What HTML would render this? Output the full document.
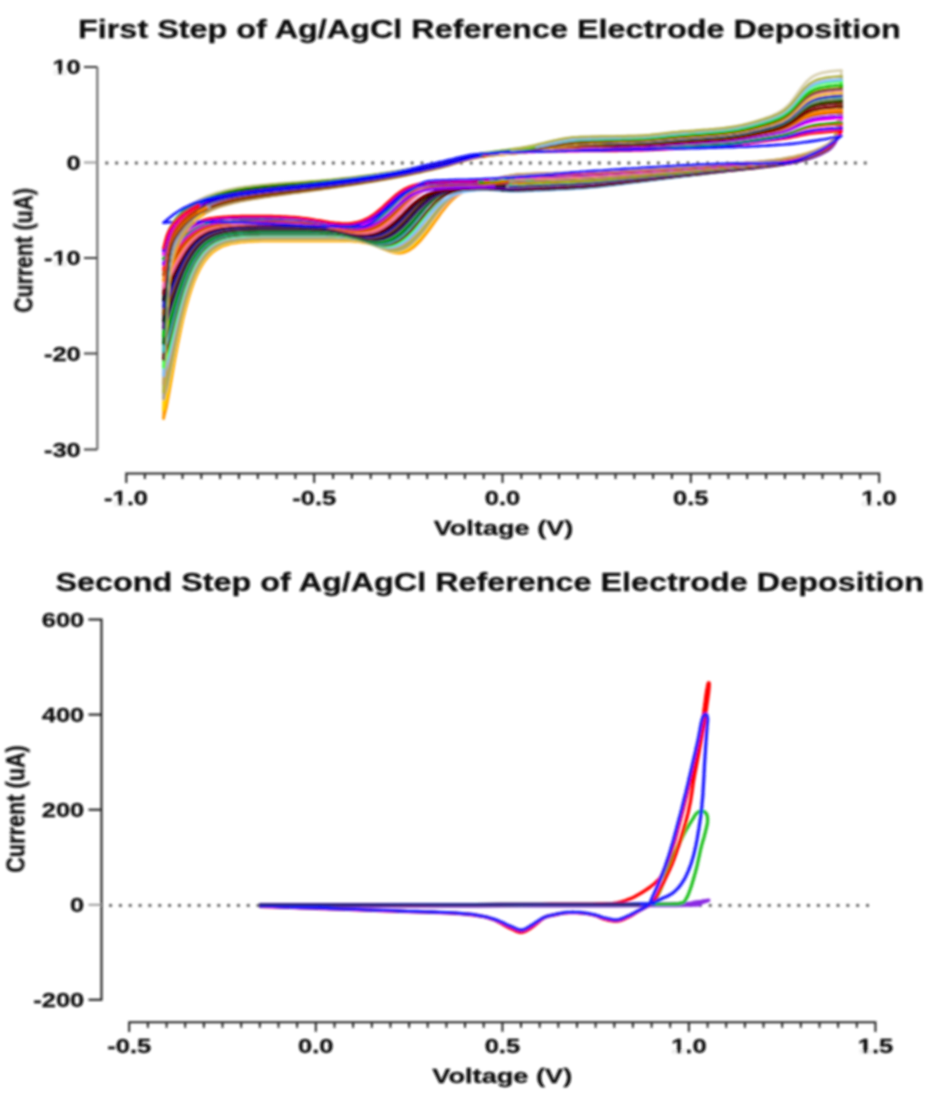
<!DOCTYPE html>
<html><head><meta charset="utf-8"><style>
html,body{margin:0;padding:0;background:#fff;}
svg{display:block;}
</style></head><body>
<svg width="930" height="1104" viewBox="0 0 930 1104">
<defs><clipPath id="c1"><rect x="0" y="0" width="930" height="1104"/></clipPath>
<filter id="bl" x="-2%" y="-2%" width="104%" height="104%"><feGaussianBlur stdDeviation="0.8"/></filter></defs>
<rect width="930" height="1104" fill="#fff"/>
<g filter="url(#bl)">
<path d="M97.3,67V449.5" stroke="#6d6d6d" stroke-width="2.2" fill="none"/>
<g stroke="#383838" stroke-width="2" fill="none">
<path d="M84,67H97.3M84,449.5H97.3"/>
<path d="M84,258.0H97.3"/>
<path d="M84,353.5H97.3"/>
</g>
<path d="M84,162.5H97" stroke="#9a9a9a" stroke-width="2"/>
<path d="M126.3,483V473.5H879.2V483M144.8,473.5v5.5M163.6,473.5v5.5M182.5,473.5v5.5M201.3,473.5v5.5M220.1,473.5v5.5M238.9,473.5v5.5M257.8,473.5v5.5M276.6,473.5v5.5M295.4,473.5v5.5M314.2,473.5v9.5M333.1,473.5v5.5M351.9,473.5v5.5M370.7,473.5v5.5M389.6,473.5v5.5M408.4,473.5v5.5M427.2,473.5v5.5M446.0,473.5v5.5M464.9,473.5v5.5M483.7,473.5v5.5M502.5,473.5v9.5M521.3,473.5v5.5M540.2,473.5v5.5M559.0,473.5v5.5M577.8,473.5v5.5M596.6,473.5v5.5M615.5,473.5v5.5M634.3,473.5v5.5M653.1,473.5v5.5M671.9,473.5v5.5M690.8,473.5v9.5M709.6,473.5v5.5M728.4,473.5v5.5M747.2,473.5v5.5M766.1,473.5v5.5M784.9,473.5v5.5M803.7,473.5v5.5M822.5,473.5v5.5M841.4,473.5v5.5M860.2,473.5v5.5" stroke="#202020" stroke-width="2" fill="none"/>
<g stroke="#151515" stroke-width="2" fill="none">
<path d="M88.5,619.5H101.5V999.8H88.5"/>
<path d="M88.5,714.6H101.5"/>
<path d="M88.5,809.7H101.5"/>
</g>
<path d="M88.5,904.8H101" stroke="#9a9a9a" stroke-width="2"/>
<path d="M129.2,1032V1022.3H875.4V1032M147.9,1022.3v5.5M166.6,1022.3v5.5M185.2,1022.3v5.5M203.9,1022.3v5.5M222.5,1022.3v5.5M241.2,1022.3v5.5M259.8,1022.3v5.5M278.5,1022.3v5.5M297.1,1022.3v5.5M315.8,1022.3v9.5M334.5,1022.3v5.5M353.1,1022.3v5.5M371.8,1022.3v5.5M390.4,1022.3v5.5M409.1,1022.3v5.5M427.7,1022.3v5.5M446.4,1022.3v5.5M465.0,1022.3v5.5M483.7,1022.3v5.5M502.4,1022.3v9.5M521.0,1022.3v5.5M539.7,1022.3v5.5M558.3,1022.3v5.5M577.0,1022.3v5.5M595.6,1022.3v5.5M614.3,1022.3v5.5M632.9,1022.3v5.5M651.6,1022.3v5.5M670.2,1022.3v5.5M688.9,1022.3v9.5M707.6,1022.3v5.5M726.2,1022.3v5.5M744.9,1022.3v5.5M763.5,1022.3v5.5M782.2,1022.3v5.5M800.8,1022.3v5.5M819.5,1022.3v5.5M838.1,1022.3v5.5M856.8,1022.3v5.5" stroke="#202020" stroke-width="2" fill="none"/>
<path d="M106.8,163.0H874" stroke="#606060" stroke-width="3.4" stroke-linecap="round" stroke-dasharray="0 9.85"/>
<path d="M110.6,905.4H868" stroke="#606060" stroke-width="3.4" stroke-linecap="round" stroke-dasharray="0 9.83"/>
<g clip-path="url(#c1)" stroke-linecap="round">
<path d="M841.4,70.5 841.0,77.4 840.6,84.6 840.2,91.2 839.8,97.3 839.4,102.8 839.0,107.7 838.6,112.1 838.3,116.1 837.9,119.5 837.5,122.6 837.1,125.4 836.7,127.8 836.3,129.9 835.9,131.8 835.6,133.5 835.2,135.0 834.8,136.4 834.4,137.5 834.0,138.6 833.6,139.5 833.2,140.4 832.9,141.1 832.5,141.8 832.1,142.5 831.7,143.0 831.3,143.6 830.9,144.0 830.5,144.5 830.2,144.9 829.8,145.3 829.4,145.6 829.0,146.0 828.6,146.3 828.2,146.6 827.8,146.9 827.4,147.2 827.1,147.4 826.7,147.7 826.3,147.9 825.9,148.2 823.1,149.7 820.4,151.0 817.6,152.2 814.8,153.3 812.1,154.3 809.3,155.2 806.5,156.1 803.7,156.9 801.0,157.6 798.2,158.3 795.4,158.9 792.7,159.5 789.9,160.0 787.1,160.5 784.3,161.0 781.6,161.4 778.8,161.8 776.0,162.2 773.3,162.6 770.5,162.9 767.7,163.2 765.0,163.5 762.2,163.8 759.4,164.1 756.6,164.4 753.9,164.6 751.1,164.8 748.3,165.1 745.6,165.3 742.8,165.6 740.0,165.8 737.2,166.0 734.5,166.2 731.7,166.5 728.9,166.7 726.2,166.9 723.4,167.1 720.6,167.4 717.8,167.6 715.1,167.9 712.3,168.1 709.5,168.3 706.8,168.6 704.0,168.8 701.2,169.1 698.4,169.3 695.7,169.5 692.9,169.8 690.1,170.0 687.4,170.2 684.6,170.5 681.8,170.7 679.1,171.0 676.3,171.2 673.5,171.4 670.7,171.7 668.0,171.9 665.2,172.1 662.4,172.3 659.7,172.6 656.9,172.8 654.1,173.0 651.3,173.2 648.6,173.5 645.8,173.7 643.0,173.9 640.3,174.1 637.5,174.3 634.7,174.6 631.9,174.8 629.2,175.0 626.4,175.2 623.6,175.5 620.9,175.7 618.1,175.9 615.3,176.1 612.5,176.4 609.8,176.6 607.0,176.8 604.2,177.0 601.5,177.2 598.7,177.4 595.9,177.6 593.2,177.8 590.4,178.0 587.6,178.1 584.8,178.3 582.1,178.4 579.3,178.6 576.5,178.7 573.8,178.8 571.0,179.0 568.2,179.1 565.4,179.2 562.7,179.3 559.9,179.4 557.1,179.5 554.4,179.6 551.6,179.7 548.8,179.8 546.0,179.8 543.3,179.9 540.5,180.0 537.7,180.1 535.0,180.2 532.2,180.3 529.4,180.4 526.6,180.5 523.9,180.7 521.1,180.8 518.3,180.9 515.6,181.1 512.8,181.3 510.0,181.6 507.3,181.9" stroke="#d8d0b0" stroke-width="2.7" fill="none" stroke-linejoin="round"/>
<path d="M518.3,182.7 515.6,182.9 512.8,183.1 510.0,183.3 507.3,183.5 504.5,183.8 501.7,184.0 498.9,184.3 496.2,184.6 493.4,184.8 490.6,185.1 487.9,185.5 485.1,185.8 482.3,186.2 479.5,186.6 476.8,187.2 474.0,187.8 471.2,188.5 468.5,189.5 465.7,190.6 462.9,191.9 460.1,193.6 457.4,195.5 454.6,197.7 451.8,200.3 449.1,203.2 446.3,206.4 443.5,209.9 440.7,213.5 438.0,217.4 435.2,221.3 432.4,225.2 429.7,229.0 426.9,232.7 424.1,236.2 421.4,239.5 418.6,242.5 415.8,245.2 413.0,247.6 410.3,249.5 407.5,251.1 404.7,252.2 402.0,252.9 399.2,253.1 396.4,253.0 393.6,252.5 390.9,251.7 388.1,250.7 385.3,249.6 382.6,248.4 379.8,247.2 377.0,246.1 374.2,245.1 371.5,244.2 368.7,243.4 365.9,242.8 363.2,242.3 360.4,241.8 357.6,241.5 354.8,241.3 352.1,241.1 349.3,241.0 346.5,240.9 343.8,240.9 341.0,240.9 338.2,240.8 335.5,240.8 332.7,240.8 329.9,240.8 327.1,240.8 324.4,240.8 321.6,240.8 318.8,240.8 316.1,240.8 313.3,240.8 310.5,240.8 307.7,240.8 305.0,240.8 302.2,240.8 299.4,240.8 296.7,240.8 293.9,240.8 291.1,240.8 288.3,240.8 285.6,240.8 282.8,240.8 280.0,240.8 277.3,240.9 274.5,240.9 271.7,240.9 268.9,240.9 266.2,241.0 263.4,241.0 260.6,241.0 257.9,241.1 255.1,241.2 252.3,241.3 249.6,241.4 246.8,241.6 244.0,241.8 241.2,242.0 238.5,242.4 235.7,242.8 232.9,243.2 230.2,243.8 227.4,244.6 224.6,245.5 221.8,246.6 219.1,248.0 216.3,249.6 213.5,251.6 210.8,254.0 208.0,256.9 205.2,260.3 202.4,264.4 199.7,269.2 196.9,274.8 194.1,281.4 191.4,289.0 188.6,297.8 185.8,307.8 183.0,319.0 180.3,331.6 177.5,345.4 174.7,360.3 172.0,376.1 169.2,392.0 166.4,407.2 163.6,418.4" stroke="#ff9900" stroke-width="2.7" fill="none" stroke-linejoin="round"/>
<path d="M501.7,178.7 498.9,179.3 496.2,179.9 493.4,180.5 490.6,181.1 487.9,181.7 485.1,182.2 482.3,182.6 479.5,183.1 476.8,183.5 474.0,184.1 471.2,184.8 468.5,185.6 465.7,186.6 462.9,187.8 460.1,189.3 457.4,191.1 454.6,193.1 451.8,195.6 449.1,198.3 446.3,201.4 443.5,204.9 440.7,208.6 438.0,212.5 435.2,216.5 432.4,220.5 429.7,224.6 426.9,228.5 424.1,232.2 421.4,235.7 418.6,239.0 415.8,242.0 413.0,244.6 410.3,246.8 407.5,248.7 404.7,250.1 402.0,251.1 399.2,251.7 396.4,251.9 393.6,251.7 390.9,251.1 388.1,250.3 385.3,249.4 382.6,248.3 379.8,247.2 377.0,246.1 374.2,245.0 371.5,244.0 368.7,243.1 365.9,242.4 363.2,241.8 360.4,241.3 357.6,240.9 354.8,240.6 352.1,240.3 349.3,240.2 346.5,240.0 343.8,240.0 341.0,239.9 338.2,239.9 335.5,239.9 332.7,239.8 329.9,239.8 327.1,239.8 324.4,239.8 321.6,239.8 318.8,239.8 316.1,239.8 313.3,239.8 310.5,239.8 307.7,239.8 305.0,239.8 302.2,239.8 299.4,239.8 296.7,239.8 293.9,239.8 291.1,239.8 288.3,239.8 285.6,239.8 282.8,239.8 280.0,239.9 277.3,239.9 274.5,239.9 271.7,239.9 268.9,239.9 266.2,240.0 263.4,240.0 260.6,240.0 257.9,240.1 255.1,240.2 252.3,240.3 249.6,240.4 246.8,240.6 244.0,240.7 241.2,241.0 238.5,241.3 235.7,241.7 232.9,242.1 230.2,242.7 227.4,243.4 224.6,244.3 221.8,245.4 219.1,246.7 216.3,248.2 213.5,250.1 210.8,252.4 208.0,255.2 205.2,258.5 202.4,262.4 199.7,266.9 196.9,272.3 194.1,278.6 191.4,285.9 188.6,294.3 185.8,303.8 183.0,314.6 180.3,326.6 177.5,339.8 174.7,354.1 172.0,369.1 169.2,384.4 166.4,398.9 163.6,409.7" stroke="#ffd000" stroke-width="2.7" fill="none" stroke-linejoin="round"/>
<path d="M510.0,186.2 507.3,186.3 504.5,186.3 501.7,186.4 498.9,186.5 496.2,186.6 493.4,186.7 490.6,186.8 487.9,186.9 485.1,187.1 482.3,187.3 479.5,187.6 476.8,188.0 474.0,188.4 471.2,188.9 468.5,189.5 465.7,190.3 462.9,191.2 460.1,192.3 457.4,193.6 454.6,195.2 451.8,197.1 449.1,199.3 446.3,201.8 443.5,204.6 440.7,207.8 438.0,211.1 435.2,214.7 432.4,218.3 429.7,222.0 426.9,225.7 424.1,229.3 421.4,232.7 418.6,235.9 415.8,238.9 413.0,241.6 410.3,244.0 407.5,246.1 404.7,247.8 402.0,249.0 399.2,249.9 396.4,250.4 393.6,250.5 390.9,250.3 388.1,249.8 385.3,249.0 382.6,248.1 379.8,247.1 377.0,246.0 374.2,244.9 371.5,243.8 368.7,242.9 365.9,242.0 363.2,241.3 360.4,240.7 357.6,240.1 354.8,239.7 352.1,239.4 349.3,239.2 346.5,239.0 343.8,238.9 341.0,238.8 338.2,238.7 335.5,238.7 332.7,238.6 329.9,238.6 327.1,238.6 324.4,238.6 321.6,238.6 318.8,238.6 316.1,238.6 313.3,238.6 310.5,238.6 307.7,238.6 305.0,238.6 302.2,238.6 299.4,238.6 296.7,238.6 293.9,238.6 291.1,238.6 288.3,238.6 285.6,238.6 282.8,238.6 280.0,238.6 277.3,238.6 274.5,238.6 271.7,238.7 268.9,238.7 266.2,238.7 263.4,238.7 260.6,238.8 257.9,238.8 255.1,238.9 252.3,239.0 249.6,239.1 246.8,239.3 244.0,239.5 241.2,239.7 238.5,240.0 235.7,240.3 232.9,240.8 230.2,241.3 227.4,242.0 224.6,242.8 221.8,243.8 219.1,245.0 216.3,246.5 213.5,248.3 210.8,250.5 208.0,253.1 205.2,256.2 202.4,259.8 199.7,264.2 196.9,269.3 194.1,275.2 191.4,282.1 188.6,290.0 185.8,299.0 183.0,309.1 180.3,320.5 177.5,332.9 174.7,346.4 172.0,360.6 169.2,375.0 166.4,388.7 163.6,398.8" stroke="#a0a0a0" stroke-width="2.7" fill="none" stroke-linejoin="round"/>
<path d="M515.6,186.2 512.8,186.3 510.0,186.4 507.3,186.5 504.5,186.5 501.7,186.6 498.9,186.7 496.2,186.7 493.4,186.8 490.6,186.9 487.9,187.0 485.1,187.1 482.3,187.3 479.5,187.6 476.8,187.9 474.0,188.3 471.2,188.7 468.5,189.3 465.7,189.9 462.9,190.7 460.1,191.7 457.4,192.9 454.6,194.3 451.8,196.0 449.1,198.0 446.3,200.3 443.5,202.9 440.7,205.8 438.0,209.0 435.2,212.5 432.4,216.0 429.7,219.7 426.9,223.3 424.1,226.9 421.4,230.4 418.6,233.7 415.8,236.7 413.0,239.6 410.3,242.1 407.5,244.2 404.7,246.1 402.0,247.5 399.2,248.6 396.4,249.3 393.6,249.6 390.9,249.6 388.1,249.2 385.3,248.6 382.6,247.8 379.8,246.9 377.0,245.9 374.2,244.8 371.5,243.8 368.7,242.8 365.9,241.9 363.2,241.1 360.4,240.4 357.6,239.8 354.8,239.3 352.1,238.9 349.3,238.6 346.5,238.4 343.8,238.2 341.0,238.1 338.2,238.0 335.5,237.9 332.7,237.9 329.9,237.9 327.1,237.9 324.4,237.8 321.6,237.8 318.8,237.8 316.1,237.8 313.3,237.8 310.5,237.8 307.7,237.8 305.0,237.8 302.2,237.8 299.4,237.8 296.7,237.8 293.9,237.8 291.1,237.8 288.3,237.8 285.6,237.9 282.8,237.9 280.0,237.9 277.3,237.9 274.5,237.9 271.7,237.9 268.9,237.9 266.2,238.0 263.4,238.0 260.6,238.0 257.9,238.1 255.1,238.2 252.3,238.2 249.6,238.4 246.8,238.5 244.0,238.7 241.2,238.9 238.5,239.2 235.7,239.5 232.9,239.9 230.2,240.5 227.4,241.1 224.6,241.9 221.8,242.9 219.1,244.1 216.3,245.5 213.5,247.2 210.8,249.3 208.0,251.8 205.2,254.8 202.4,258.3 199.7,262.5 196.9,267.4 194.1,273.2 191.4,279.8 188.6,287.4 185.8,296.1 183.0,305.9 180.3,316.8 177.5,328.8 174.7,341.8 172.0,355.5 169.2,369.4 166.4,382.6 163.6,392.4" stroke="#b0b040" stroke-width="2.7" fill="none" stroke-linejoin="round"/>
<path d="M493.4,179.5 490.6,180.0 487.9,180.6 485.1,181.0 482.3,181.4 479.5,181.7 476.8,182.0 474.0,182.4 471.2,182.8 468.5,183.3 465.7,183.9 462.9,184.7 460.1,185.6 457.4,186.7 454.6,188.1 451.8,189.7 449.1,191.6 446.3,193.9 443.5,196.5 440.7,199.4 438.0,202.7 435.2,206.3 432.4,210.0 429.7,213.9 426.9,217.9 424.1,221.8 421.4,225.6 418.6,229.2 415.8,232.6 413.0,235.8 410.3,238.6 407.5,241.1 404.7,243.3 402.0,245.0 399.2,246.4 396.4,247.4 393.6,248.0 390.9,248.3 388.1,248.2 385.3,247.9 382.6,247.3 379.8,246.5 377.0,245.6 374.2,244.6 371.5,243.6 368.7,242.6 365.9,241.6 363.2,240.8 360.4,240.0 357.6,239.3 354.8,238.8 352.1,238.3 349.3,237.9 346.5,237.6 343.8,237.4 341.0,237.2 338.2,237.1 335.5,237.0 332.7,237.0 329.9,236.9 327.1,236.9 324.4,236.9 321.6,236.9 318.8,236.8 316.1,236.8 313.3,236.8 310.5,236.8 307.7,236.8 305.0,236.8 302.2,236.8 299.4,236.8 296.7,236.8 293.9,236.8 291.1,236.8 288.3,236.9 285.6,236.9 282.8,236.9 280.0,236.9 277.3,236.9 274.5,236.9 271.7,236.9 268.9,236.9 266.2,237.0 263.4,237.0 260.6,237.0 257.9,237.1 255.1,237.1 252.3,237.2 249.6,237.3 246.8,237.5 244.0,237.6 241.2,237.9 238.5,238.1 235.7,238.4 232.9,238.8 230.2,239.3 227.4,240.0 224.6,240.7 221.8,241.6 219.1,242.8 216.3,244.1 213.5,245.8 210.8,247.8 208.0,250.1 205.2,253.0 202.4,256.4 199.7,260.3 196.9,265.0 194.1,270.5 191.4,276.8 188.6,284.0 185.8,292.3 183.0,301.6 180.3,312.0 177.5,323.5 174.7,335.8 172.0,348.9 169.2,362.1 166.4,374.7 163.6,384.0" stroke="#c0a060" stroke-width="2.7" fill="none" stroke-linejoin="round"/>
<path d="M540.5,190.2 537.7,190.3 535.0,190.5 532.2,190.6 529.4,190.7 526.6,190.8 523.9,191.0 521.1,191.1 518.3,191.2 515.6,191.2 512.8,191.2 510.0,191.1 507.3,190.9 504.5,190.7 501.7,190.5 498.9,190.3 496.2,190.1 493.4,189.9 490.6,189.7 487.9,189.6 485.1,189.6 482.3,189.7 479.5,189.8 476.8,190.0 474.0,190.3 471.2,190.6 468.5,191.0 465.7,191.4 462.9,192.0 460.1,192.7 457.4,193.5 454.6,194.5 451.8,195.6 449.1,197.1 446.3,198.8 443.5,200.7 440.7,203.0 438.0,205.5 435.2,208.4 432.4,211.5 429.7,214.7 426.9,218.1 424.1,221.5 421.4,224.8 418.6,228.1 415.8,231.3 413.0,234.2 410.3,236.9 407.5,239.4 404.7,241.5 402.0,243.3 399.2,244.8 396.4,246.0 393.6,246.8 390.9,247.2 388.1,247.3 385.3,247.2 382.6,246.7 379.8,246.1 377.0,245.3 374.2,244.4 371.5,243.4 368.7,242.4 365.9,241.5 363.2,240.5 360.4,239.7 357.6,239.0 354.8,238.3 352.1,237.8 349.3,237.3 346.5,236.9 343.8,236.7 341.0,236.4 338.2,236.3 335.5,236.1 332.7,236.0 329.9,236.0 327.1,235.9 324.4,235.9 321.6,235.9 318.8,235.9 316.1,235.9 313.3,235.9 310.5,235.8 307.7,235.8 305.0,235.8 302.2,235.8 299.4,235.8 296.7,235.9 293.9,235.9 291.1,235.9 288.3,235.9 285.6,235.9 282.8,235.9 280.0,235.9 277.3,235.9 274.5,235.9 271.7,235.9 268.9,235.9 266.2,236.0 263.4,236.0 260.6,236.0 257.9,236.1 255.1,236.1 252.3,236.2 249.6,236.3 246.8,236.5 244.0,236.6 241.2,236.8 238.5,237.1 235.7,237.4 232.9,237.8 230.2,238.2 227.4,238.8 224.6,239.5 221.8,240.4 219.1,241.5 216.3,242.8 213.5,244.3 210.8,246.2 208.0,248.5 205.2,251.2 202.4,254.4 199.7,258.2 196.9,262.6 194.1,267.8 191.4,273.8 188.6,280.7 185.8,288.5 183.0,297.4 180.3,307.3 177.5,318.2 174.7,329.9 172.0,342.3 169.2,354.9 166.4,366.8 163.6,375.6" stroke="#80c0ff" stroke-width="2.7" fill="none" stroke-linejoin="round"/>
<path d="M515.6,183.7 512.8,183.8 510.0,184.0 507.3,184.2 504.5,184.3 501.7,184.5 498.9,184.7 496.2,184.9 493.4,185.0 490.6,185.2 487.9,185.4 485.1,185.5 482.3,185.7 479.5,185.9 476.8,186.1 474.0,186.3 471.2,186.6 468.5,187.0 465.7,187.4 462.9,187.9 460.1,188.5 457.4,189.2 454.6,190.1 451.8,191.2 449.1,192.5 446.3,194.1 443.5,196.0 440.7,198.2 438.0,200.7 435.2,203.5 432.4,206.5 429.7,209.8 426.9,213.3 424.1,216.9 421.4,220.4 418.6,224.0 415.8,227.3 413.0,230.5 410.3,233.5 407.5,236.2 404.7,238.6 402.0,240.7 399.2,242.4 396.4,243.8 393.6,244.9 390.9,245.6 388.1,246.0 385.3,246.1 382.6,245.9 379.8,245.4 377.0,244.8 374.2,244.0 371.5,243.1 368.7,242.2 365.9,241.2 363.2,240.3 360.4,239.4 357.6,238.6 354.8,237.9 352.1,237.3 349.3,236.8 346.5,236.3 343.8,236.0 341.0,235.7 338.2,235.4 335.5,235.3 332.7,235.2 329.9,235.1 327.1,235.0 324.4,234.9 321.6,234.9 318.8,234.9 316.1,234.9 313.3,234.9 310.5,234.9 307.7,234.9 305.0,234.9 302.2,234.9 299.4,234.9 296.7,234.9 293.9,234.9 291.1,234.9 288.3,234.9 285.6,234.9 282.8,234.9 280.0,234.9 277.3,234.9 274.5,234.9 271.7,234.9 268.9,234.9 266.2,235.0 263.4,235.0 260.6,235.0 257.9,235.1 255.1,235.1 252.3,235.2 249.6,235.3 246.8,235.4 244.0,235.6 241.2,235.8 238.5,236.0 235.7,236.3 232.9,236.7 230.2,237.1 227.4,237.7 224.6,238.3 221.8,239.2 219.1,240.2 216.3,241.4 213.5,242.9 210.8,244.7 208.0,246.8 205.2,249.4 202.4,252.4 199.7,256.0 196.9,260.2 194.1,265.1 191.4,270.8 188.6,277.4 185.8,284.8 183.0,293.2 180.3,302.6 177.5,312.9 174.7,324.1 172.0,335.8 169.2,347.7 166.4,359.0 163.6,367.4" stroke="#40ff40" stroke-width="2.7" fill="none" stroke-linejoin="round"/>
<path d="M529.4,187.3 526.6,187.4 523.9,187.5 521.1,187.7 518.3,187.8 515.6,187.9 512.8,187.9 510.0,187.9 507.3,187.9 504.5,187.9 501.7,187.8 498.9,187.8 496.2,187.7 493.4,187.7 490.6,187.7 487.9,187.7 485.1,187.7 482.3,187.8 479.5,187.9 476.8,188.1 474.0,188.3 471.2,188.5 468.5,188.8 465.7,189.2 462.9,189.6 460.1,190.1 457.4,190.7 454.6,191.4 451.8,192.3 449.1,193.4 446.3,194.6 443.5,196.2 440.7,198.0 438.0,200.1 435.2,202.6 432.4,205.3 429.7,208.3 426.9,211.4 424.1,214.8 421.4,218.1 418.6,221.5 415.8,224.8 413.0,228.0 410.3,231.0 407.5,233.7 404.7,236.2 402.0,238.4 399.2,240.3 396.4,241.9 393.6,243.1 390.9,244.0 388.1,244.6 385.3,244.9 382.6,244.9 379.8,244.7 377.0,244.2 374.2,243.5 371.5,242.8 368.7,241.9 365.9,241.0 363.2,240.1 360.4,239.2 357.6,238.3 354.8,237.6 352.1,236.9 349.3,236.3 346.5,235.7 343.8,235.3 341.0,235.0 338.2,234.7 335.5,234.5 332.7,234.3 329.9,234.2 327.1,234.1 324.4,234.0 321.6,234.0 318.8,233.9 316.1,233.9 313.3,233.9 310.5,233.9 307.7,233.9 305.0,233.9 302.2,233.9 299.4,233.9 296.7,233.9 293.9,233.9 291.1,233.9 288.3,233.9 285.6,233.9 282.8,233.9 280.0,233.9 277.3,233.9 274.5,233.9 271.7,233.9 268.9,233.9 266.2,234.0 263.4,234.0 260.6,234.0 257.9,234.1 255.1,234.1 252.3,234.2 249.6,234.3 246.8,234.4 244.0,234.5 241.2,234.7 238.5,235.0 235.7,235.2 232.9,235.6 230.2,236.0 227.4,236.5 224.6,237.2 221.8,238.0 219.1,238.9 216.3,240.1 213.5,241.5 210.8,243.2 208.0,245.2 205.2,247.6 202.4,250.5 199.7,253.9 196.9,257.9 194.1,262.5 191.4,267.9 188.6,274.1 185.8,281.2 183.0,289.1 180.3,298.0 177.5,307.8 174.7,318.3 172.0,329.4 169.2,340.7 166.4,351.4 163.6,359.4" stroke="#600000" stroke-width="2.7" fill="none" stroke-linejoin="round"/>
<path d="M512.8,180.6 510.0,180.8 507.3,181.2 504.5,181.5 501.7,181.8 498.9,182.2 496.2,182.5 493.4,182.8 490.6,183.1 487.9,183.4 485.1,183.7 482.3,183.9 479.5,184.0 476.8,184.2 474.0,184.4 471.2,184.6 468.5,184.9 465.7,185.2 462.9,185.5 460.1,186.0 457.4,186.5 454.6,187.2 451.8,188.0 449.1,189.0 446.3,190.2 443.5,191.6 440.7,193.3 438.0,195.4 435.2,197.7 432.4,200.4 429.7,203.3 426.9,206.5 424.1,209.9 421.4,213.5 418.6,217.0 415.8,220.6 413.0,224.0 410.3,227.2 407.5,230.2 404.7,233.0 402.0,235.4 399.2,237.6 396.4,239.4 393.6,240.9 390.9,242.1 388.1,242.9 385.3,243.4 382.6,243.7 379.8,243.6 377.0,243.3 374.2,242.9 371.5,242.2 368.7,241.5 365.9,240.6 363.2,239.8 360.4,238.9 357.6,238.0 354.8,237.2 352.1,236.5 349.3,235.8 346.5,235.2 343.8,234.7 341.0,234.3 338.2,234.0 335.5,233.7 332.7,233.5 329.9,233.3 327.1,233.2 324.4,233.1 321.6,233.0 318.8,233.0 316.1,232.9 313.3,232.9 310.5,232.9 307.7,232.9 305.0,232.9 302.2,232.9 299.4,232.9 296.7,232.9 293.9,232.9 291.1,232.9 288.3,232.9 285.6,232.9 282.8,232.9 280.0,232.9 277.3,232.9 274.5,232.9 271.7,232.9 268.9,232.9 266.2,233.0 263.4,233.0 260.6,233.0 257.9,233.1 255.1,233.1 252.3,233.2 249.6,233.3 246.8,233.4 244.0,233.5 241.2,233.7 238.5,233.9 235.7,234.2 232.9,234.5 230.2,234.9 227.4,235.4 224.6,236.0 221.8,236.7 219.1,237.6 216.3,238.7 213.5,240.1 210.8,241.7 208.0,243.6 205.2,245.9 202.4,248.6 199.7,251.8 196.9,255.6 194.1,260.0 191.4,265.0 188.6,270.9 185.8,277.5 183.0,285.1 180.3,293.4 177.5,302.7 174.7,312.6 172.0,323.1 169.2,333.8 166.4,343.9 163.6,351.4" stroke="#40c0c0" stroke-width="2.7" fill="none" stroke-linejoin="round"/>
<path d="M521.1,186.2 518.3,186.4 515.6,186.5 512.8,186.5 510.0,186.6 507.3,186.6 504.5,186.7 501.7,186.7 498.9,186.7 496.2,186.7 493.4,186.8 490.6,186.8 487.9,186.8 485.1,186.9 482.3,187.0 479.5,187.1 476.8,187.2 474.0,187.4 471.2,187.6 468.5,187.8 465.7,188.0 462.9,188.3 460.1,188.7 457.4,189.1 454.6,189.6 451.8,190.3 449.1,191.0 446.3,192.0 443.5,193.1 440.7,194.5 438.0,196.2 435.2,198.1 432.4,200.4 429.7,202.9 426.9,205.7 424.1,208.7 421.4,211.9 418.6,215.2 415.8,218.5 413.0,221.8 410.3,225.0 407.5,227.9 404.7,230.7 402.0,233.2 399.2,235.4 396.4,237.3 393.6,239.0 390.9,240.3 388.1,241.3 385.3,242.0 382.6,242.4 379.8,242.6 377.0,242.5 374.2,242.1 371.5,241.6 368.7,241.0 365.9,240.2 363.2,239.4 360.4,238.6 357.6,237.7 354.8,236.9 352.1,236.1 349.3,235.4 346.5,234.8 343.8,234.2 341.0,233.7 338.2,233.3 335.5,233.0 332.7,232.7 329.9,232.5 327.1,232.3 324.4,232.2 321.6,232.1 318.8,232.0 316.1,232.0 313.3,232.0 310.5,231.9 307.7,231.9 305.0,231.9 302.2,231.9 299.4,231.9 296.7,231.9 293.9,231.9 291.1,231.9 288.3,231.9 285.6,231.9 282.8,231.9 280.0,231.9 277.3,231.9 274.5,231.9 271.7,231.9 268.9,231.9 266.2,232.0 263.4,232.0 260.6,232.0 257.9,232.1 255.1,232.1 252.3,232.2 249.6,232.3 246.8,232.4 244.0,232.5 241.2,232.6 238.5,232.8 235.7,233.1 232.9,233.4 230.2,233.8 227.4,234.2 224.6,234.8 221.8,235.5 219.1,236.4 216.3,237.4 213.5,238.7 210.8,240.2 208.0,242.0 205.2,244.1 202.4,246.7 199.7,249.7 196.9,253.3 194.1,257.4 191.4,262.2 188.6,267.7 185.8,274.0 183.0,281.1 180.3,289.0 177.5,297.7 174.7,307.1 172.0,316.9 169.2,327.0 166.4,336.5 163.6,343.6" stroke="#006000" stroke-width="2.7" fill="none" stroke-linejoin="round"/>
<path d="M529.4,180.4 526.6,180.5 523.9,180.7 521.1,180.8 518.3,180.9 515.6,181.1 512.8,181.4 510.0,181.6 507.3,181.9 504.5,182.2 501.7,182.5 498.9,182.7 496.2,183.0 493.4,183.3 490.6,183.6 487.9,183.8 485.1,184.0 482.3,184.2 479.5,184.3 476.8,184.5 474.0,184.6 471.2,184.8 468.5,185.0 465.7,185.2 462.9,185.4 460.1,185.8 457.4,186.1 454.6,186.6 451.8,187.2 449.1,187.9 446.3,188.7 443.5,189.8 440.7,191.0 438.0,192.5 435.2,194.3 432.4,196.4 429.7,198.8 426.9,201.6 424.1,204.5 421.4,207.7 418.6,211.1 415.8,214.5 413.0,217.9 410.3,221.2 407.5,224.4 404.7,227.3 402.0,230.1 399.2,232.5 396.4,234.7 393.6,236.5 390.9,238.1 388.1,239.3 385.3,240.2 382.6,240.9 379.8,241.2 377.0,241.3 374.2,241.2 371.5,240.9 368.7,240.3 365.9,239.7 363.2,239.0 360.4,238.2 357.6,237.4 354.8,236.6 352.1,235.8 349.3,235.0 346.5,234.3 343.8,233.7 341.0,233.2 338.2,232.7 335.5,232.3 332.7,232.0 329.9,231.7 327.1,231.5 324.4,231.4 321.6,231.2 318.8,231.1 316.1,231.1 313.3,231.0 310.5,231.0 307.7,230.9 305.0,230.9 302.2,230.9 299.4,230.9 296.7,230.9 293.9,230.9 291.1,230.9 288.3,230.9 285.6,230.9 282.8,230.9 280.0,230.9 277.3,230.9 274.5,230.9 271.7,230.9 268.9,230.9 266.2,231.0 263.4,231.0 260.6,231.0 257.9,231.1 255.1,231.1 252.3,231.2 249.6,231.2 246.8,231.3 244.0,231.5 241.2,231.6 238.5,231.8 235.7,232.0 232.9,232.3 230.2,232.7 227.4,233.1 224.6,233.7 221.8,234.3 219.1,235.1 216.3,236.1 213.5,237.3 210.8,238.7 208.0,240.4 205.2,242.4 202.4,244.8 199.7,247.7 196.9,251.0 194.1,254.9 191.4,259.4 188.6,264.6 185.8,270.5 183.0,277.1 180.3,284.6 177.5,292.7 174.7,301.6 172.0,310.9 169.2,320.3 166.4,329.3 163.6,336.0" stroke="#00c000" stroke-width="2.7" fill="none" stroke-linejoin="round"/>
<path d="M490.6,188.1 487.9,188.0 485.1,188.0 482.3,188.1 479.5,188.1 476.8,188.2 474.0,188.4 471.2,188.5 468.5,188.7 465.7,188.8 462.9,189.1 460.1,189.3 457.4,189.6 454.6,190.0 451.8,190.4 449.1,190.9 446.3,191.6 443.5,192.4 440.7,193.4 438.0,194.6 435.2,196.0 432.4,197.7 429.7,199.7 426.9,201.9 424.1,204.4 421.4,207.2 418.6,210.1 415.8,213.2 413.0,216.3 410.3,219.4 407.5,222.5 404.7,225.3 402.0,228.0 399.2,230.5 396.4,232.7 393.6,234.6 390.9,236.2 388.1,237.6 385.3,238.6 382.6,239.4 379.8,239.9 377.0,240.2 374.2,240.2 371.5,240.0 368.7,239.7 365.9,239.1 363.2,238.5 360.4,237.8 357.6,237.0 354.8,236.2 352.1,235.4 349.3,234.6 346.5,233.9 343.8,233.3 341.0,232.7 338.2,232.2 335.5,231.7 332.7,231.3 329.9,231.0 327.1,230.7 324.4,230.5 321.6,230.4 318.8,230.2 316.1,230.1 313.3,230.1 310.5,230.0 307.7,230.0 305.0,229.9 302.2,229.9 299.4,229.9 296.7,229.9 293.9,229.9 291.1,229.9 288.3,229.9 285.6,229.9 282.8,229.9 280.0,229.9 277.3,229.9 274.5,229.9 271.7,229.9 268.9,229.9 266.2,230.0 263.4,230.0 260.6,230.0 257.9,230.0 255.1,230.1 252.3,230.2 249.6,230.2 246.8,230.3 244.0,230.4 241.2,230.6 238.5,230.7 235.7,231.0 232.9,231.2 230.2,231.6 227.4,232.0 224.6,232.5 221.8,233.1 219.1,233.9 216.3,234.8 213.5,235.9 210.8,237.2 208.0,238.8 205.2,240.7 202.4,243.0 199.7,245.6 196.9,248.8 194.1,252.4 191.4,256.6 188.6,261.5 185.8,267.0 183.0,273.3 180.3,280.3 177.5,287.9 174.7,296.2 172.0,304.9 169.2,313.8 166.4,322.2 163.6,328.4" stroke="#500080" stroke-width="2.7" fill="none" stroke-linejoin="round"/>
<path d="M498.9,186.5 496.2,186.5 493.4,186.5 490.6,186.6 487.9,186.6 485.1,186.7 482.3,186.7 479.5,186.8 476.8,186.9 474.0,187.0 471.2,187.2 468.5,187.3 465.7,187.5 462.9,187.6 460.1,187.9 457.4,188.1 454.6,188.4 451.8,188.8 449.1,189.3 446.3,189.8 443.5,190.5 440.7,191.4 438.0,192.4 435.2,193.7 432.4,195.2 429.7,197.0 426.9,199.0 424.1,201.4 421.4,204.0 418.6,206.8 415.8,209.9 413.0,213.0 410.3,216.1 407.5,219.2 404.7,222.2 402.0,225.0 399.2,227.6 396.4,230.0 393.6,232.1 390.9,233.9 388.1,235.4 385.3,236.7 382.6,237.7 379.8,238.4 377.0,238.8 374.2,239.0 371.5,239.0 368.7,238.8 365.9,238.4 363.2,237.9 360.4,237.2 357.6,236.5 354.8,235.8 352.1,235.0 349.3,234.2 346.5,233.5 343.8,232.8 341.0,232.2 338.2,231.6 335.5,231.1 332.7,230.7 329.9,230.3 327.1,230.0 324.4,229.8 321.6,229.5 318.8,229.4 316.1,229.3 313.3,229.2 310.5,229.1 307.7,229.0 305.0,229.0 302.2,229.0 299.4,228.9 296.7,228.9 293.9,228.9 291.1,228.9 288.3,228.9 285.6,228.9 282.8,228.9 280.0,228.9 277.3,228.9 274.5,228.9 271.7,228.9 268.9,228.9 266.2,229.0 263.4,229.0 260.6,229.0 257.9,229.0 255.1,229.1 252.3,229.1 249.6,229.2 246.8,229.3 244.0,229.4 241.2,229.5 238.5,229.7 235.7,229.9 232.9,230.2 230.2,230.5 227.4,230.9 224.6,231.3 221.8,231.9 219.1,232.6 216.3,233.5 213.5,234.5 210.8,235.7 208.0,237.2 205.2,239.0 202.4,241.1 199.7,243.6 196.9,246.5 194.1,250.0 191.4,253.9 188.6,258.5 185.8,263.6 183.0,269.5 180.3,276.0 177.5,283.2 174.7,290.9 172.0,299.1 169.2,307.4 166.4,315.3 163.6,321.1" stroke="#101010" stroke-width="2.7" fill="none" stroke-linejoin="round"/>
<path d="M521.1,184.2 518.3,184.4 515.6,184.5 512.8,184.6 510.0,184.8 507.3,184.9 504.5,185.0 501.7,185.1 498.9,185.2 496.2,185.3 493.4,185.5 490.6,185.6 487.9,185.7 485.1,185.8 482.3,185.8 479.5,185.9 476.8,186.0 474.0,186.1 471.2,186.2 468.5,186.4 465.7,186.5 462.9,186.7 460.1,186.9 457.4,187.1 454.6,187.3 451.8,187.7 449.1,188.1 446.3,188.5 443.5,189.1 440.7,189.9 438.0,190.8 435.2,191.9 432.4,193.2 429.7,194.8 426.9,196.6 424.1,198.8 421.4,201.2 418.6,203.9 415.8,206.7 413.0,209.8 410.3,212.9 407.5,216.0 404.7,219.1 402.0,222.0 399.2,224.7 396.4,227.2 393.6,229.5 390.9,231.5 388.1,233.2 385.3,234.6 382.6,235.8 379.8,236.7 377.0,237.3 374.2,237.7 371.5,237.8 368.7,237.8 365.9,237.5 363.2,237.1 360.4,236.6 357.6,236.0 354.8,235.3 352.1,234.6 349.3,233.8 346.5,233.1 343.8,232.4 341.0,231.7 338.2,231.1 335.5,230.6 332.7,230.1 329.9,229.7 327.1,229.3 324.4,229.0 321.6,228.8 318.8,228.6 316.1,228.4 313.3,228.3 310.5,228.2 307.7,228.1 305.0,228.0 302.2,228.0 299.4,228.0 296.7,228.0 293.9,227.9 291.1,227.9 288.3,227.9 285.6,227.9 282.8,227.9 280.0,227.9 277.3,227.9 274.5,227.9 271.7,227.9 268.9,228.0 266.2,228.0 263.4,228.0 260.6,228.0 257.9,228.0 255.1,228.1 252.3,228.1 249.6,228.2 246.8,228.3 244.0,228.4 241.2,228.5 238.5,228.6 235.7,228.8 232.9,229.1 230.2,229.4 227.4,229.7 224.6,230.2 221.8,230.7 219.1,231.4 216.3,232.2 213.5,233.1 210.8,234.3 208.0,235.7 205.2,237.3 202.4,239.3 199.7,241.6 196.9,244.4 194.1,247.6 191.4,251.2 188.6,255.5 185.8,260.3 183.0,265.8 180.3,271.9 177.5,278.5 174.7,285.8 172.0,293.4 169.2,301.1 166.4,308.5 163.6,313.9" stroke="#804000" stroke-width="2.7" fill="none" stroke-linejoin="round"/>
<path d="M512.8,185.4 510.0,185.5 507.3,185.6 504.5,185.7 501.7,185.8 498.9,185.9 496.2,185.9 493.4,186.0 490.6,186.1 487.9,186.1 485.1,186.2 482.3,186.3 479.5,186.3 476.8,186.4 474.0,186.5 471.2,186.6 468.5,186.7 465.7,186.9 462.9,187.0 460.1,187.2 457.4,187.3 454.6,187.6 451.8,187.8 449.1,188.2 446.3,188.5 443.5,189.0 440.7,189.6 438.0,190.4 435.2,191.3 432.4,192.4 429.7,193.8 426.9,195.4 424.1,197.3 421.4,199.4 418.6,201.8 415.8,204.5 413.0,207.3 410.3,210.3 407.5,213.4 404.7,216.4 402.0,219.3 399.2,222.1 396.4,224.7 393.6,227.1 390.9,229.2 388.1,231.0 385.3,232.6 382.6,233.9 379.8,234.9 377.0,235.7 374.2,236.3 371.5,236.6 368.7,236.7 365.9,236.6 363.2,236.3 360.4,235.9 357.6,235.3 354.8,234.7 352.1,234.1 349.3,233.4 346.5,232.7 343.8,232.0 341.0,231.3 338.2,230.6 335.5,230.1 332.7,229.5 329.9,229.1 327.1,228.7 324.4,228.3 321.6,228.0 318.8,227.8 316.1,227.6 313.3,227.4 310.5,227.3 307.7,227.2 305.0,227.1 302.2,227.1 299.4,227.0 296.7,227.0 293.9,227.0 291.1,226.9 288.3,226.9 285.6,226.9 282.8,226.9 280.0,226.9 277.3,226.9 274.5,226.9 271.7,226.9 268.9,227.0 266.2,227.0 263.4,227.0 260.6,227.0 257.9,227.0 255.1,227.1 252.3,227.1 249.6,227.2 246.8,227.3 244.0,227.3 241.2,227.5 238.5,227.6 235.7,227.8 232.9,228.0 230.2,228.3 227.4,228.6 224.6,229.0 221.8,229.5 219.1,230.1 216.3,230.9 213.5,231.8 210.8,232.9 208.0,234.1 205.2,235.7 202.4,237.5 199.7,239.7 196.9,242.2 194.1,245.2 191.4,248.6 188.6,252.6 185.8,257.1 183.0,262.1 180.3,267.8 177.5,274.0 174.7,280.7 172.0,287.8 169.2,295.0 166.4,301.9 163.6,306.9" stroke="#2020c0" stroke-width="2.7" fill="none" stroke-linejoin="round"/>
<path d="M504.5,190.0 501.7,189.8 498.9,189.6 496.2,189.4 493.4,189.2 490.6,189.1 487.9,188.9 485.1,188.9 482.3,188.8 479.5,188.9 476.8,189.0 474.0,189.1 471.2,189.2 468.5,189.3 465.7,189.4 462.9,189.5 460.1,189.6 457.4,189.8 454.6,189.9 451.8,190.1 449.1,190.4 446.3,190.7 443.5,191.1 440.7,191.5 438.0,192.1 435.2,192.8 432.4,193.7 429.7,194.8 426.9,196.1 424.1,197.7 421.4,199.4 418.6,201.5 415.8,203.8 413.0,206.3 410.3,209.0 407.5,211.8 404.7,214.6 402.0,217.4 399.2,220.1 396.4,222.6 393.6,225.0 390.9,227.1 388.1,229.0 385.3,230.7 382.6,232.1 379.8,233.3 377.0,234.2 374.2,234.8 371.5,235.3 368.7,235.5 365.9,235.5 363.2,235.4 360.4,235.1 357.6,234.6 354.8,234.1 352.1,233.5 349.3,232.9 346.5,232.2 343.8,231.5 341.0,230.8 338.2,230.2 335.5,229.6 332.7,229.0 329.9,228.5 327.1,228.0 324.4,227.6 321.6,227.3 318.8,227.0 316.1,226.8 313.3,226.6 310.5,226.4 307.7,226.3 305.0,226.2 302.2,226.1 299.4,226.1 296.7,226.0 293.9,226.0 291.1,226.0 288.3,226.0 285.6,225.9 282.8,225.9 280.0,225.9 277.3,225.9 274.5,225.9 271.7,226.0 268.9,226.0 266.2,226.0 263.4,226.0 260.6,226.0 257.9,226.0 255.1,226.1 252.3,226.1 249.6,226.2 246.8,226.2 244.0,226.3 241.2,226.4 238.5,226.6 235.7,226.7 232.9,226.9 230.2,227.2 227.4,227.5 224.6,227.9 221.8,228.3 219.1,228.9 216.3,229.6 213.5,230.4 210.8,231.4 208.0,232.6 205.2,234.1 202.4,235.8 199.7,237.8 196.9,240.1 194.1,242.9 191.4,246.0 188.6,249.7 185.8,253.9 183.0,258.6 180.3,263.8 177.5,269.6 174.7,275.8 172.0,282.4 169.2,289.1 166.4,295.4 163.6,300.1" stroke="#000000" stroke-width="2.7" fill="none" stroke-linejoin="round"/>
<path d="M518.3,189.5 515.6,189.6 512.8,189.6 510.0,189.5 507.3,189.4 504.5,189.3 501.7,189.1 498.9,189.0 496.2,188.8 493.4,188.7 490.6,188.6 487.9,188.5 485.1,188.4 482.3,188.4 479.5,188.5 476.8,188.5 474.0,188.6 471.2,188.7 468.5,188.8 465.7,188.9 462.9,189.0 460.1,189.1 457.4,189.2 454.6,189.4 451.8,189.6 449.1,189.8 446.3,190.0 443.5,190.3 440.7,190.7 438.0,191.2 435.2,191.8 432.4,192.6 429.7,193.5 426.9,194.6 424.1,196.0 421.4,197.6 418.6,199.4 415.8,201.5 413.0,203.8 410.3,206.3 407.5,209.0 404.7,211.8 402.0,214.6 399.2,217.3 396.4,219.9 393.6,222.4 390.9,224.6 388.1,226.7 385.3,228.5 382.6,230.0 379.8,231.3 377.0,232.4 374.2,233.2 371.5,233.8 368.7,234.1 365.9,234.3 363.2,234.3 360.4,234.1 357.6,233.8 354.8,233.4 352.1,232.9 349.3,232.3 346.5,231.6 343.8,231.0 341.0,230.3 338.2,229.7 335.5,229.0 332.7,228.5 329.9,227.9 327.1,227.4 324.4,227.0 321.6,226.6 318.8,226.3 316.1,226.0 313.3,225.8 310.5,225.6 307.7,225.4 305.0,225.3 302.2,225.2 299.4,225.1 296.7,225.1 293.9,225.0 291.1,225.0 288.3,225.0 285.6,225.0 282.8,225.0 280.0,225.0 277.3,225.0 274.5,225.0 271.7,225.0 268.9,225.0 266.2,225.0 263.4,225.0 260.6,225.0 257.9,225.0 255.1,225.1 252.3,225.1 249.6,225.2 246.8,225.2 244.0,225.3 241.2,225.4 238.5,225.5 235.7,225.7 232.9,225.9 230.2,226.1 227.4,226.4 224.6,226.7 221.8,227.2 219.1,227.7 216.3,228.3 213.5,229.1 210.8,230.0 208.0,231.1 205.2,232.4 202.4,234.0 199.7,235.9 196.9,238.0 194.1,240.6 191.4,243.5 188.6,246.9 185.8,250.8 183.0,255.1 180.3,260.0 177.5,265.3 174.7,271.1 172.0,277.1 169.2,283.3 166.4,289.2 163.6,293.5" stroke="#800000" stroke-width="2.7" fill="none" stroke-linejoin="round"/>
<path d="M537.7,179.1 535.0,179.2 532.2,179.3 529.4,179.4 526.6,179.5 523.9,179.6 521.1,179.8 518.3,179.9 515.6,180.1 512.8,180.4 510.0,180.6 507.3,181.0 504.5,181.3 501.7,181.6 498.9,182.0 496.2,182.3 493.4,182.6 490.6,182.9 487.9,183.2 485.1,183.4 482.3,183.5 479.5,183.6 476.8,183.7 474.0,183.8 471.2,183.9 468.5,184.0 465.7,184.1 462.9,184.2 460.1,184.3 457.4,184.4 454.6,184.5 451.8,184.7 449.1,184.9 446.3,185.1 443.5,185.4 440.7,185.8 438.0,186.2 435.2,186.8 432.4,187.5 429.7,188.4 426.9,189.5 424.1,190.8 421.4,192.3 418.6,194.2 415.8,196.3 413.0,198.6 410.3,201.2 407.5,204.0 404.7,207.0 402.0,210.0 399.2,212.9 396.4,215.8 393.6,218.6 390.9,221.1 388.1,223.5 385.3,225.5 382.6,227.3 379.8,228.9 377.0,230.2 374.2,231.2 371.5,232.0 368.7,232.5 365.9,232.9 363.2,233.0 360.4,233.0 357.6,232.8 354.8,232.5 352.1,232.1 349.3,231.6 346.5,231.0 343.8,230.4 341.0,229.8 338.2,229.2 335.5,228.5 332.7,227.9 329.9,227.4 327.1,226.9 324.4,226.4 321.6,226.0 318.8,225.6 316.1,225.3 313.3,225.0 310.5,224.8 307.7,224.6 305.0,224.5 302.2,224.3 299.4,224.2 296.7,224.2 293.9,224.1 291.1,224.1 288.3,224.0 285.6,224.0 282.8,224.0 280.0,224.0 277.3,224.0 274.5,224.0 271.7,224.0 268.9,224.0 266.2,224.0 263.4,224.0 260.6,224.0 257.9,224.0 255.1,224.1 252.3,224.1 249.6,224.1 246.8,224.2 244.0,224.3 241.2,224.4 238.5,224.5 235.7,224.6 232.9,224.8 230.2,225.0 227.4,225.3 224.6,225.6 221.8,226.0 219.1,226.5 216.3,227.1 213.5,227.8 210.8,228.6 208.0,229.6 205.2,230.9 202.4,232.3 199.7,234.0 196.9,236.0 194.1,238.4 191.4,241.1 188.6,244.2 185.8,247.7 183.0,251.7 180.3,256.2 177.5,261.1 174.7,266.4 172.0,272.0 169.2,277.7 166.4,283.1 163.6,287.1" stroke="#ff70b0" stroke-width="2.7" fill="none" stroke-linejoin="round"/>
<path d="M490.6,182.3 487.9,182.6 485.1,182.8 482.3,183.0 479.5,183.1 476.8,183.2 474.0,183.3 471.2,183.3 468.5,183.4 465.7,183.5 462.9,183.6 460.1,183.7 457.4,183.8 454.6,183.9 451.8,184.1 449.1,184.2 446.3,184.4 443.5,184.7 440.7,185.0 438.0,185.4 435.2,185.8 432.4,186.4 429.7,187.2 426.9,188.1 424.1,189.2 421.4,190.6 418.6,192.2 415.8,194.1 413.0,196.2 410.3,198.6 407.5,201.3 404.7,204.1 402.0,207.0 399.2,210.0 396.4,212.9 393.6,215.7 390.9,218.4 388.1,220.8 385.3,223.0 382.6,225.0 379.8,226.7 377.0,228.1 374.2,229.3 371.5,230.2 368.7,231.0 365.9,231.5 363.2,231.7 360.4,231.9 357.6,231.8 354.8,231.6 352.1,231.3 349.3,230.9 346.5,230.4 343.8,229.8 341.0,229.2 338.2,228.6 335.5,228.0 332.7,227.4 329.9,226.8 327.1,226.3 324.4,225.8 321.6,225.3 318.8,224.9 316.1,224.6 313.3,224.3 310.5,224.0 307.7,223.8 305.0,223.6 302.2,223.5 299.4,223.3 296.7,223.2 293.9,223.2 291.1,223.1 288.3,223.1 285.6,223.0 282.8,223.0 280.0,223.0 277.3,223.0 274.5,223.0 271.7,223.0 268.9,223.0 266.2,223.0 263.4,223.0 260.6,223.0 257.9,223.0 255.1,223.1 252.3,223.1 249.6,223.1 246.8,223.2 244.0,223.3 241.2,223.3 238.5,223.4 235.7,223.6 232.9,223.7 230.2,223.9 227.4,224.2 224.6,224.5 221.8,224.8 219.1,225.3 216.3,225.8 213.5,226.5 210.8,227.2 208.0,228.2 205.2,229.3 202.4,230.6 199.7,232.2 196.9,234.0 194.1,236.2 191.4,238.7 188.6,241.5 185.8,244.8 183.0,248.5 180.3,252.6 177.5,257.1 174.7,262.0 172.0,267.1 169.2,272.3 166.4,277.3 163.6,280.9" stroke="#ff8000" stroke-width="2.7" fill="none" stroke-linejoin="round"/>
<path d="M485.1,184.3 482.3,184.5 479.5,184.6 476.8,184.6 474.0,184.7 471.2,184.8 468.5,184.9 465.7,184.9 462.9,185.0 460.1,185.1 457.4,185.2 454.6,185.3 451.8,185.4 449.1,185.5 446.3,185.7 443.5,185.9 440.7,186.1 438.0,186.4 435.2,186.8 432.4,187.3 429.7,187.9 426.9,188.7 424.1,189.6 421.4,190.7 418.6,192.0 415.8,193.6 413.0,195.4 410.3,197.5 407.5,199.9 404.7,202.4 402.0,205.1 399.2,207.9 396.4,210.7 393.6,213.5 390.9,216.1 388.1,218.6 385.3,220.8 382.6,222.9 379.8,224.7 377.0,226.2 374.2,227.5 371.5,228.6 368.7,229.4 365.9,230.0 363.2,230.4 360.4,230.6 357.6,230.7 354.8,230.6 352.1,230.4 349.3,230.1 346.5,229.6 343.8,229.1 341.0,228.6 338.2,228.0 335.5,227.4 332.7,226.8 329.9,226.3 327.1,225.7 324.4,225.2 321.6,224.7 318.8,224.3 316.1,223.9 313.3,223.6 310.5,223.3 307.7,223.0 305.0,222.8 302.2,222.6 299.4,222.5 296.7,222.4 293.9,222.3 291.1,222.2 288.3,222.1 285.6,222.1 282.8,222.0 280.0,222.0 277.3,222.0 274.5,222.0 271.7,222.0 268.9,222.0 266.2,222.0 263.4,222.0 260.6,222.0 257.9,222.0 255.1,222.1 252.3,222.1 249.6,222.1 246.8,222.2 244.0,222.2 241.2,222.3 238.5,222.4 235.7,222.5 232.9,222.7 230.2,222.8 227.4,223.1 224.6,223.3 221.8,223.7 219.1,224.1 216.3,224.6 213.5,225.2 210.8,225.9 208.0,226.7 205.2,227.8 202.4,229.0 199.7,230.4 196.9,232.1 194.1,234.1 191.4,236.4 188.6,239.0 185.8,242.0 183.0,245.3 180.3,249.1 177.5,253.2 174.7,257.7 172.0,262.4 169.2,267.1 166.4,271.7 163.6,275.0" stroke="#c04000" stroke-width="2.7" fill="none" stroke-linejoin="round"/>
<path d="M537.7,175.0 535.0,175.1 532.2,175.2 529.4,175.3 526.6,175.4 523.9,175.5 521.1,175.6 518.3,175.8 515.6,176.1 512.8,176.4 510.0,176.8 507.3,177.3 504.5,177.8 501.7,178.4 498.9,179.0 496.2,179.5 493.4,180.0 490.6,180.5 487.9,180.9 485.1,181.2 482.3,181.4 479.5,181.5 476.8,181.6 474.0,181.7 471.2,181.8 468.5,181.8 465.7,181.9 462.9,182.0 460.1,182.1 457.4,182.1 454.6,182.2 451.8,182.3 449.1,182.5 446.3,182.6 443.5,182.8 440.7,183.0 438.0,183.3 435.2,183.6 432.4,184.0 429.7,184.6 426.9,185.3 424.1,186.1 421.4,187.1 418.6,188.3 415.8,189.8 413.0,191.5 410.3,193.5 407.5,195.8 404.7,198.3 402.0,201.0 399.2,203.9 396.4,206.8 393.6,209.7 390.9,212.5 388.1,215.2 385.3,217.7 382.6,220.0 379.8,222.0 377.0,223.7 374.2,225.2 371.5,226.5 368.7,227.5 365.9,228.3 363.2,228.8 360.4,229.2 357.6,229.4 354.8,229.5 352.1,229.4 349.3,229.1 346.5,228.8 343.8,228.4 341.0,227.9 338.2,227.4 335.5,226.8 332.7,226.3 329.9,225.7 327.1,225.1 324.4,224.6 321.6,224.1 318.8,223.7 316.1,223.2 313.3,222.9 310.5,222.5 307.7,222.3 305.0,222.0 302.2,221.8 299.4,221.6 296.7,221.5 293.9,221.4 291.1,221.3 288.3,221.2 285.6,221.1 282.8,221.1 280.0,221.1 277.3,221.0 274.5,221.0 271.7,221.0 268.9,221.0 266.2,221.0 263.4,221.0 260.6,221.0 257.9,221.0 255.1,221.1 252.3,221.1 249.6,221.1 246.8,221.2 244.0,221.2 241.2,221.3 238.5,221.4 235.7,221.5 232.9,221.6 230.2,221.8 227.4,222.0 224.6,222.2 221.8,222.5 219.1,222.9 216.3,223.3 213.5,223.9 210.8,224.5 208.0,225.3 205.2,226.3 202.4,227.4 199.7,228.7 196.9,230.2 194.1,232.0 191.4,234.1 188.6,236.5 185.8,239.2 183.0,242.3 180.3,245.7 177.5,249.5 174.7,253.6 172.0,257.9 169.2,262.2 166.4,266.4 163.6,269.4" stroke="#ff2020" stroke-width="2.7" fill="none" stroke-linejoin="round"/>
<path d="M490.6,187.0 487.9,187.0 485.1,187.0 482.3,187.1 479.5,187.1 476.8,187.2 474.0,187.3 471.2,187.3 468.5,187.4 465.7,187.5 462.9,187.5 460.1,187.6 457.4,187.7 454.6,187.7 451.8,187.8 449.1,187.9 446.3,188.0 443.5,188.1 440.7,188.3 438.0,188.5 435.2,188.7 432.4,189.0 429.7,189.4 426.9,189.9 424.1,190.5 421.4,191.2 418.6,192.1 415.8,193.2 413.0,194.5 410.3,196.0 407.5,197.8 404.7,199.8 402.0,202.0 399.2,204.3 396.4,206.8 393.6,209.3 390.9,211.8 388.1,214.2 385.3,216.5 382.6,218.6 379.8,220.5 377.0,222.3 374.2,223.7 371.5,225.0 368.7,226.0 365.9,226.9 363.2,227.5 360.4,228.0 357.6,228.3 354.8,228.4 352.1,228.4 349.3,228.2 346.5,228.0 343.8,227.6 341.0,227.2 338.2,226.7 335.5,226.2 332.7,225.6 329.9,225.1 327.1,224.6 324.4,224.0 321.6,223.5 318.8,223.0 316.1,222.6 313.3,222.2 310.5,221.8 307.7,221.5 305.0,221.2 302.2,221.0 299.4,220.8 296.7,220.6 293.9,220.5 291.1,220.4 288.3,220.3 285.6,220.2 282.8,220.1 280.0,220.1 277.3,220.1 274.5,220.0 271.7,220.0 268.9,220.0 266.2,220.0 263.4,220.0 260.6,220.0 257.9,220.0 255.1,220.1 252.3,220.1 249.6,220.1 246.8,220.1 244.0,220.2 241.2,220.3 238.5,220.3 235.7,220.4 232.9,220.6 230.2,220.7 227.4,220.9 224.6,221.1 221.8,221.4 219.1,221.7 216.3,222.1 213.5,222.6 210.8,223.2 208.0,224.0 205.2,224.8 202.4,225.8 199.7,227.0 196.9,228.4 194.1,230.1 191.4,231.9 188.6,234.1 185.8,236.6 183.0,239.4 180.3,242.5 177.5,246.0 174.7,249.7 172.0,253.6 169.2,257.6 166.4,261.3 163.6,264.1" stroke="#9000ff" stroke-width="2.7" fill="none" stroke-linejoin="round"/>
<path d="M482.3,182.3 479.5,182.4 476.8,182.5 474.0,182.5 471.2,182.6 468.5,182.7 465.7,182.7 462.9,182.8 460.1,182.9 457.4,182.9 454.6,183.0 451.8,183.1 449.1,183.2 446.3,183.2 443.5,183.4 440.7,183.5 438.0,183.7 435.2,183.9 432.4,184.2 429.7,184.6 426.9,185.0 424.1,185.6 421.4,186.3 418.6,187.1 415.8,188.2 413.0,189.5 410.3,191.0 407.5,192.7 404.7,194.7 402.0,197.0 399.2,199.4 396.4,202.0 393.6,204.8 390.9,207.5 388.1,210.2 385.3,212.7 382.6,215.1 379.8,217.3 377.0,219.3 374.2,221.1 371.5,222.6 368.7,223.8 365.9,224.9 363.2,225.7 360.4,226.3 357.6,226.7 354.8,227.0 352.1,227.1 349.3,227.1 346.5,226.9 343.8,226.7 341.0,226.3 338.2,225.9 335.5,225.5 332.7,225.0 329.9,224.4 327.1,223.9 324.4,223.4 321.6,222.9 318.8,222.4 316.1,221.9 313.3,221.5 310.5,221.1 307.7,220.8 305.0,220.5 302.2,220.2 299.4,220.0 296.7,219.8 293.9,219.6 291.1,219.5 288.3,219.4 285.6,219.3 282.8,219.2 280.0,219.2 277.3,219.1 274.5,219.1 271.7,219.1 268.9,219.0 266.2,219.0 263.4,219.0 260.6,219.0 257.9,219.0 255.1,219.1 252.3,219.1 249.6,219.1 246.8,219.1 244.0,219.2 241.2,219.2 238.5,219.3 235.7,219.4 232.9,219.5 230.2,219.6 227.4,219.8 224.6,220.0 221.8,220.3 219.1,220.6 216.3,221.0 213.5,221.4 210.8,222.0 208.0,222.6 205.2,223.4 202.4,224.3 199.7,225.4 196.9,226.7 194.1,228.2 191.4,229.9 188.6,231.9 185.8,234.1 183.0,236.7 180.3,239.5 177.5,242.7 174.7,246.1 172.0,249.6 169.2,253.3 166.4,256.7 163.6,259.2" stroke="#00a000" stroke-width="2.7" fill="none" stroke-linejoin="round"/>
<path d="M518.3,177.5 515.6,177.7 512.8,178.0 510.0,178.4 507.3,178.8 504.5,179.3 501.7,179.7 498.9,180.2 496.2,180.6 493.4,181.1 490.6,181.5 487.9,181.8 485.1,182.1 482.3,182.3 479.5,182.4 476.8,182.4 474.0,182.5 471.2,182.6 468.5,182.6 465.7,182.7 462.9,182.8 460.1,182.8 457.4,182.9 454.6,182.9 451.8,183.0 449.1,183.1 446.3,183.2 443.5,183.3 440.7,183.4 438.0,183.5 435.2,183.7 432.4,183.9 429.7,184.2 426.9,184.6 424.1,185.1 421.4,185.7 418.6,186.4 415.8,187.3 413.0,188.4 410.3,189.6 407.5,191.2 404.7,193.0 402.0,195.0 399.2,197.2 396.4,199.7 393.6,202.3 390.9,204.9 388.1,207.6 385.3,210.2 382.6,212.6 379.8,214.9 377.0,217.0 374.2,218.8 371.5,220.5 368.7,221.9 365.9,223.0 363.2,224.0 360.4,224.7 357.6,225.3 354.8,225.6 352.1,225.8 349.3,225.9 346.5,225.9 343.8,225.7 341.0,225.4 338.2,225.1 335.5,224.7 332.7,224.3 329.9,223.8 327.1,223.3 324.4,222.8 321.6,222.3 318.8,221.8 316.1,221.3 313.3,220.9 310.5,220.5 307.7,220.1 305.0,219.8 302.2,219.5 299.4,219.2 296.7,219.0 293.9,218.8 291.1,218.6 288.3,218.5 285.6,218.4 282.8,218.3 280.0,218.2 277.3,218.2 274.5,218.1 271.7,218.1 268.9,218.1 266.2,218.1 263.4,218.0 260.6,218.0 257.9,218.1 255.1,218.1 252.3,218.1 249.6,218.1 246.8,218.1 244.0,218.2 241.2,218.2 238.5,218.3 235.7,218.4 232.9,218.5 230.2,218.6 227.4,218.8 224.6,218.9 221.8,219.2 219.1,219.5 216.3,219.8 213.5,220.2 210.8,220.7 208.0,221.3 205.2,222.0 202.4,222.9 199.7,223.9 196.9,225.0 194.1,226.4 191.4,228.0 188.6,229.8 185.8,231.9 183.0,234.2 180.3,236.8 177.5,239.7 174.7,242.8 172.0,246.0 169.2,249.3 166.4,252.5 163.6,254.8" stroke="#ff00ff" stroke-width="2.7" fill="none" stroke-linejoin="round"/>
<path d="M512.8,177.2 510.0,177.6 507.3,178.1 504.5,178.6 501.7,179.1 498.9,179.6 496.2,180.1 493.4,180.5 490.6,181.0 487.9,181.3 485.1,181.6 482.3,181.8 479.5,182.0 476.8,182.0 474.0,182.1 471.2,182.1 468.5,182.2 465.7,182.3 462.9,182.3 460.1,182.4 457.4,182.4 454.6,182.5 451.8,182.6 449.1,182.6 446.3,182.7 443.5,182.8 440.7,182.9 438.0,183.0 435.2,183.1 432.4,183.3 429.7,183.6 426.9,183.9 424.1,184.3 421.4,184.8 418.6,185.4 415.8,186.1 413.0,187.1 410.3,188.2 407.5,189.5 404.7,191.1 402.0,192.9 399.2,195.0 396.4,197.2 393.6,199.7 390.9,202.2 388.1,204.9 385.3,207.5 382.6,210.0 379.8,212.3 377.0,214.5 374.2,216.5 371.5,218.3 368.7,219.8 365.9,221.1 363.2,222.1 360.4,223.0 357.6,223.7 354.8,224.2 352.1,224.5 349.3,224.7 346.5,224.7 343.8,224.7 341.0,224.5 338.2,224.2 335.5,223.9 332.7,223.5 329.9,223.0 327.1,222.6 324.4,222.1 321.6,221.6 318.8,221.1 316.1,220.7 313.3,220.2 310.5,219.8 307.7,219.4 305.0,219.0 302.2,218.7 299.4,218.4 296.7,218.2 293.9,218.0 291.1,217.8 288.3,217.6 285.6,217.5 282.8,217.4 280.0,217.3 277.3,217.2 274.5,217.2 271.7,217.1 268.9,217.1 266.2,217.1 263.4,217.1 260.6,217.1 257.9,217.1 255.1,217.1 252.3,217.1 249.6,217.1 246.8,217.1 244.0,217.2 241.2,217.2 238.5,217.3 235.7,217.3 232.9,217.4 230.2,217.6 227.4,217.7 224.6,217.9 221.8,218.1 219.1,218.3 216.3,218.7 213.5,219.0 210.8,219.5 208.0,220.1 205.2,220.7 202.4,221.5 199.7,222.4 196.9,223.5 194.1,224.8 191.4,226.2 188.6,227.9 185.8,229.8 183.0,232.0 180.3,234.4 177.5,237.0 174.7,239.9 172.0,242.9 169.2,246.0 166.4,248.9 163.6,251.0" stroke="#0000ff" stroke-width="2.7" fill="none" stroke-linejoin="round"/>
<path d="M490.6,180.0 487.9,180.4 485.1,180.7 482.3,181.0 479.5,181.1 476.8,181.2 474.0,181.2 471.2,181.3 468.5,181.3 465.7,181.4 462.9,181.5 460.1,181.5 457.4,181.6 454.6,181.6 451.8,181.7 449.1,181.7 446.3,181.8 443.5,181.8 440.7,181.9 438.0,182.0 435.2,182.1 432.4,182.3 429.7,182.5 426.9,182.8 424.1,183.1 421.4,183.5 418.6,184.0 415.8,184.7 413.0,185.5 410.3,186.5 407.5,187.6 404.7,189.0 402.0,190.7 399.2,192.5 396.4,194.6 393.6,197.0 390.9,199.4 388.1,202.0 385.3,204.6 382.6,207.2 379.8,209.6 377.0,211.9 374.2,214.0 371.5,215.9 368.7,217.6 365.9,219.0 363.2,220.2 360.4,221.2 357.6,222.0 354.8,222.6 352.1,223.1 349.3,223.4 346.5,223.5 343.8,223.5 341.0,223.4 338.2,223.2 335.5,223.0 332.7,222.6 329.9,222.3 327.1,221.8 324.4,221.4 321.6,220.9 318.8,220.4 316.1,220.0 313.3,219.5 310.5,219.1 307.7,218.7 305.0,218.3 302.2,218.0 299.4,217.7 296.7,217.4 293.9,217.2 291.1,217.0 288.3,216.8 285.6,216.6 282.8,216.5 280.0,216.4 277.3,216.3 274.5,216.3 271.7,216.2 268.9,216.2 266.2,216.1 263.4,216.1 260.6,216.1 257.9,216.1 255.1,216.1 252.3,216.1 249.6,216.1 246.8,216.1 244.0,216.2 241.2,216.2 238.5,216.3 235.7,216.3 232.9,216.4 230.2,216.5 227.4,216.7 224.6,216.8 221.8,217.0 219.1,217.3 216.3,217.6 213.5,218.0 210.8,218.4 208.0,218.9 205.2,219.5 202.4,220.3 199.7,221.2 196.9,222.2 194.1,223.4 191.4,224.8 188.6,226.4 185.8,228.2 183.0,230.3 180.3,232.6 177.5,235.1 174.7,237.8 172.0,240.7 169.2,243.6 166.4,246.4 163.6,248.4" stroke="#ff0000" stroke-width="2.7" fill="none" stroke-linejoin="round"/>
<path d="M841.4,79.7 841.0,86.0 840.6,92.4 840.2,98.4 839.8,104.0 839.4,108.9 839.0,113.4 838.6,117.4 838.3,120.9 837.9,124.1 837.5,126.8 837.1,129.3 836.7,131.5 836.3,133.4 835.9,135.1 835.6,136.6 835.2,138.0 834.8,139.2 834.4,140.2 834.0,141.1 833.6,142.0 833.2,142.7 832.9,143.4 832.5,144.0 832.1,144.6 831.7,145.1 831.3,145.6 830.9,146.0 830.5,146.4 830.2,146.7 829.8,147.1 829.4,147.4 829.0,147.7 828.6,148.0 828.2,148.3 827.8,148.5 827.4,148.8 827.1,149.0 826.7,149.2 826.3,149.5 825.9,149.7 823.1,151.1 820.4,152.3 817.6,153.5 814.8,154.6 812.1,155.6 809.3,156.6 806.5,157.5 803.7,158.4 801.0,159.2 798.2,159.9 795.4,160.6 792.7,161.3 789.9,162.0 787.1,162.5 784.3,163.1 781.6,163.6 778.8,164.1 776.0,164.6 773.3,165.0 770.5,165.5 767.7,165.9 765.0,166.3 762.2,166.7 759.4,167.0 756.6,167.4 753.9,167.8 751.1,168.1 748.3,168.5 745.6,168.8 742.8,169.1 740.0,169.4 737.2,169.8 734.5,170.1 731.7,170.4 728.9,170.7 726.2,171.1 723.4,171.4 720.6,171.7 717.8,172.0 715.1,172.4 712.3,172.7 709.5,173.0 706.8,173.4 704.0,173.7 701.2,174.0 698.4,174.4 695.7,174.7 692.9,175.1 690.1,175.4 687.4,175.8 684.6,176.1 681.8,176.4 679.1,176.8 676.3,177.1 673.5,177.5 670.7,177.8 668.0,178.2 665.2,178.5 662.4,178.9 659.7,179.2 656.9,179.5 654.1,179.9 651.3,180.2 648.6,180.5 645.8,180.9 643.0,181.2 640.3,181.5 637.5,181.8 634.7,182.2 631.9,182.5 629.2,182.9 626.4,183.2 623.6,183.6 620.9,183.9 618.1,184.3 615.3,184.6 612.5,185.0 609.8,185.3 607.0,185.6 604.2,186.0 601.5,186.3 598.7,186.6 595.9,186.9 593.2,187.2 590.4,187.4 587.6,187.7 584.8,187.9 582.1,188.1 579.3,188.3 576.5,188.5 573.8,188.7 571.0,188.8 568.2,189.0 565.4,189.1 562.7,189.2 559.9,189.4 557.1,189.5 554.4,189.6 551.6,189.8 548.8,189.9 546.0,190.0 543.3,190.1 540.5,190.2 537.7,190.3" stroke="#80c0ff" stroke-width="2.7" fill="none" stroke-linejoin="round"/>
<path d="M841.4,100.3 841.0,104.6 840.6,109.0 840.2,113.2 839.8,117.0 839.4,120.4 839.0,123.5 838.6,126.3 838.3,128.8 837.9,131.0 837.5,133.0 837.1,134.7 836.7,136.3 836.3,137.7 835.9,139.0 835.6,140.1 835.2,141.1 834.8,142.0 834.4,142.8 834.0,143.6 833.6,144.3 833.2,144.9 832.9,145.5 832.5,146.0 832.1,146.5 831.7,146.9 831.3,147.3 830.9,147.7 830.5,148.1 830.2,148.4 829.8,148.7 829.4,149.1 829.0,149.4 828.6,149.6 828.2,149.9 827.8,150.2 827.4,150.4 827.1,150.7 826.7,150.9 826.3,151.1 825.9,151.4 823.1,152.9 820.4,154.2 817.6,155.3 814.8,156.4 812.1,157.4 809.3,158.4 806.5,159.2 803.7,160.0 801.0,160.7 798.2,161.4 795.4,162.1 792.7,162.6 789.9,163.2 787.1,163.7 784.3,164.2 781.6,164.6 778.8,165.0 776.0,165.4 773.3,165.8 770.5,166.1 767.7,166.5 765.0,166.8 762.2,167.1 759.4,167.5 756.6,167.8 753.9,168.1 751.1,168.4 748.3,168.7 745.6,169.0 742.8,169.3 740.0,169.5 737.2,169.8 734.5,170.1 731.7,170.4 728.9,170.7 726.2,171.0 723.4,171.3 720.6,171.6 717.8,171.9 715.1,172.2 712.3,172.5 709.5,172.8 706.8,173.1 704.0,173.4 701.2,173.8 698.4,174.1 695.7,174.4 692.9,174.7 690.1,175.1 687.4,175.4 684.6,175.7 681.8,176.0 679.1,176.4 676.3,176.7 673.5,177.0 670.7,177.4 668.0,177.7 665.2,178.0 662.4,178.4 659.7,178.7 656.9,179.0 654.1,179.4 651.3,179.7 648.6,180.0 645.8,180.3 643.0,180.6 640.3,180.9 637.5,181.3 634.7,181.6 631.9,181.9 629.2,182.2 626.4,182.6 623.6,182.9 620.9,183.3 618.1,183.6 615.3,183.9 612.5,184.3 609.8,184.6 607.0,184.9 604.2,185.2 601.5,185.6 598.7,185.9 595.9,186.1 593.2,186.4 590.4,186.7 587.6,186.9 584.8,187.1 582.1,187.3 579.3,187.5 576.5,187.7 573.8,187.9 571.0,188.0 568.2,188.2 565.4,188.3 562.7,188.4 559.9,188.6 557.1,188.7 554.4,188.8 551.6,188.9 548.8,189.1 546.0,189.2 543.3,189.3 540.5,189.4 537.7,189.5 535.0,189.6 532.2,189.8 529.4,189.9 526.6,190.0 523.9,190.1 521.1,190.2 518.3,190.4 515.6,190.4 512.8,190.4 510.0,190.3 507.3,190.2 504.5,190.0 501.7,189.8" stroke="#000000" stroke-width="2.7" fill="none" stroke-linejoin="round"/>
<path d="M841.4,106.2 841.0,110.0 840.6,113.7 840.2,117.3 839.8,120.6 839.4,123.5 839.0,126.2 838.6,128.6 838.3,130.8 837.9,132.7 837.5,134.5 837.1,136.0 836.7,137.4 836.3,138.6 835.9,139.8 835.6,140.8 835.2,141.7 834.8,142.5 834.4,143.2 834.0,143.9 833.6,144.5 833.2,145.1 832.9,145.6 832.5,146.1 832.1,146.6 831.7,147.0 831.3,147.4 830.9,147.8 830.5,148.1 830.2,148.5 829.8,148.8 829.4,149.1 829.0,149.4 828.6,149.6 828.2,149.9 827.8,150.2 827.4,150.4 827.1,150.7 826.7,150.9 826.3,151.1 825.9,151.4 823.1,152.8 820.4,154.1 817.6,155.3 814.8,156.4 812.1,157.4 809.3,158.3 806.5,159.2 803.7,159.9 801.0,160.7 798.2,161.3 795.4,161.9 792.7,162.5 789.9,163.1 787.1,163.5 784.3,164.0 781.6,164.4 778.8,164.8 776.0,165.2 773.3,165.6 770.5,165.9 767.7,166.3 765.0,166.6 762.2,166.9 759.4,167.2 756.6,167.5 753.9,167.8 751.1,168.1 748.3,168.4 745.6,168.7 742.8,168.9 740.0,169.2 737.2,169.5 734.5,169.8 731.7,170.1 728.9,170.3 726.2,170.6 723.4,170.9 720.6,171.2 717.8,171.5 715.1,171.8 712.3,172.1 709.5,172.4 706.8,172.7 704.0,173.0 701.2,173.3 698.4,173.6 695.7,174.0 692.9,174.3 690.1,174.6 687.4,174.9 684.6,175.2 681.8,175.6 679.1,175.9 676.3,176.2 673.5,176.5 670.7,176.9 668.0,177.2 665.2,177.5 662.4,177.8 659.7,178.1 656.9,178.5 654.1,178.8 651.3,179.1 648.6,179.4 645.8,179.7 643.0,180.0 640.3,180.3 637.5,180.6 634.7,180.9 631.9,181.3 629.2,181.6 626.4,181.9 623.6,182.2 620.9,182.6 618.1,182.9 615.3,183.2 612.5,183.6 609.8,183.9 607.0,184.2 604.2,184.5 601.5,184.8 598.7,185.1 595.9,185.4 593.2,185.6 590.4,185.9 587.6,186.1 584.8,186.3 582.1,186.5 579.3,186.7 576.5,186.9 573.8,187.0 571.0,187.2 568.2,187.3 565.4,187.5 562.7,187.6 559.9,187.7 557.1,187.9 554.4,188.0 551.6,188.1 548.8,188.2 546.0,188.3 543.3,188.4 540.5,188.6 537.7,188.7 535.0,188.8 532.2,188.9 529.4,189.0 526.6,189.1 523.9,189.3 521.1,189.4 518.3,189.5 515.6,189.6" stroke="#800000" stroke-width="2.7" fill="none" stroke-linejoin="round"/>
<path d="M841.4,92.8 841.0,97.8 840.6,102.9 840.2,107.6 839.8,112.0 839.4,115.9 839.0,119.4 838.6,122.6 838.3,125.5 837.9,128.0 837.5,130.2 837.1,132.2 836.7,134.0 836.3,135.6 835.9,137.0 835.6,138.2 835.2,139.3 834.8,140.3 834.4,141.2 834.0,142.0 833.6,142.8 833.2,143.4 832.9,144.0 832.5,144.6 832.1,145.1 831.7,145.6 831.3,146.0 830.9,146.4 830.5,146.8 830.2,147.1 829.8,147.4 829.4,147.8 829.0,148.1 828.6,148.3 828.2,148.6 827.8,148.9 827.4,149.1 827.1,149.4 826.7,149.6 826.3,149.8 825.9,150.1 823.1,151.5 820.4,152.8 817.6,154.0 814.8,155.1 812.1,156.1 809.3,157.1 806.5,158.0 803.7,158.8 801.0,159.6 798.2,160.3 795.4,160.9 792.7,161.6 789.9,162.1 787.1,162.7 784.3,163.2 781.6,163.6 778.8,164.1 776.0,164.5 773.3,164.9 770.5,165.3 767.7,165.6 765.0,166.0 762.2,166.3 759.4,166.7 756.6,167.0 753.9,167.3 751.1,167.6 748.3,167.9 745.6,168.2 742.8,168.5 740.0,168.8 737.2,169.0 734.5,169.3 731.7,169.6 728.9,169.9 726.2,170.2 723.4,170.5 720.6,170.8 717.8,171.1 715.1,171.4 712.3,171.7 709.5,172.0 706.8,172.3 704.0,172.6 701.2,172.9 698.4,173.2 695.7,173.5 692.9,173.8 690.1,174.1 687.4,174.4 684.6,174.8 681.8,175.1 679.1,175.4 676.3,175.7 673.5,176.0 670.7,176.3 668.0,176.6 665.2,177.0 662.4,177.3 659.7,177.6 656.9,177.9 654.1,178.2 651.3,178.5 648.6,178.8 645.8,179.1 643.0,179.4 640.3,179.7 637.5,180.0 634.7,180.3 631.9,180.6 629.2,180.9 626.4,181.2 623.6,181.6 620.9,181.9 618.1,182.2 615.3,182.5 612.5,182.8 609.8,183.1 607.0,183.4 604.2,183.7 601.5,184.0 598.7,184.3 595.9,184.6 593.2,184.8 590.4,185.1 587.6,185.3 584.8,185.5 582.1,185.7 579.3,185.9 576.5,186.1 573.8,186.2 571.0,186.4 568.2,186.5 565.4,186.6 562.7,186.8 559.9,186.9 557.1,187.0 554.4,187.1 551.6,187.3 548.8,187.4 546.0,187.5 543.3,187.6 540.5,187.7 537.7,187.8 535.0,187.9 532.2,188.0 529.4,188.2 526.6,188.3 523.9,188.4 521.1,188.5 518.3,188.7 515.6,188.7 512.8,188.7 510.0,188.7 507.3,188.7 504.5,188.6 501.7,188.5 498.9,188.4 496.2,188.3 493.4,188.2 490.6,188.1 487.9,188.0" stroke="#500080" stroke-width="2.7" fill="none" stroke-linejoin="round"/>
<path d="M841.4,102.9 841.0,106.9 840.6,111.0 840.2,114.8 839.8,118.3 839.4,121.5 839.0,124.3 838.6,126.9 838.3,129.2 837.9,131.3 837.5,133.1 837.1,134.7 836.7,136.2 836.3,137.5 835.9,138.7 835.6,139.8 835.2,140.7 834.8,141.6 834.4,142.4 834.0,143.1 833.6,143.7 833.2,144.3 832.9,144.9 832.5,145.4 832.1,145.8 831.7,146.3 831.3,146.7 830.9,147.1 830.5,147.4 830.2,147.8 829.8,148.1 829.4,148.4 829.0,148.7 828.6,149.0 828.2,149.2 827.8,149.5 827.4,149.7 827.1,150.0 826.7,150.2 826.3,150.5 825.9,150.7 823.1,152.2 820.4,153.5 817.6,154.6 814.8,155.7 812.1,156.7 809.3,157.6 806.5,158.5 803.7,159.3 801.0,160.0 798.2,160.7 795.4,161.3 792.7,161.9 789.9,162.4 787.1,162.9 784.3,163.4 781.6,163.8 778.8,164.2 776.0,164.6 773.3,165.0 770.5,165.3 767.7,165.6 765.0,166.0 762.2,166.3 759.4,166.6 756.6,166.9 753.9,167.2 751.1,167.4 748.3,167.7 745.6,168.0 742.8,168.3 740.0,168.5 737.2,168.8 734.5,169.1 731.7,169.3 728.9,169.6 726.2,169.9 723.4,170.2 720.6,170.4 717.8,170.7 715.1,171.0 712.3,171.3 709.5,171.6 706.8,171.9 704.0,172.2 701.2,172.5 698.4,172.8 695.7,173.1 692.9,173.4 690.1,173.7 687.4,174.0 684.6,174.3 681.8,174.6 679.1,174.9 676.3,175.2 673.5,175.5 670.7,175.8 668.0,176.1 665.2,176.4 662.4,176.7 659.7,177.0 656.9,177.3 654.1,177.6 651.3,177.9 648.6,178.2 645.8,178.5 643.0,178.8 640.3,179.1 637.5,179.4 634.7,179.7 631.9,180.0 629.2,180.3 626.4,180.6 623.6,180.9 620.9,181.2 618.1,181.5 615.3,181.8 612.5,182.1 609.8,182.4 607.0,182.7 604.2,183.0 601.5,183.3 598.7,183.5 595.9,183.8 593.2,184.1 590.4,184.3 587.6,184.5 584.8,184.7 582.1,184.9 579.3,185.1 576.5,185.2 573.8,185.4 571.0,185.5 568.2,185.7 565.4,185.8 562.7,185.9 559.9,186.1 557.1,186.2 554.4,186.3 551.6,186.4 548.8,186.5 546.0,186.6 543.3,186.7 540.5,186.8 537.7,187.0 535.0,187.1 532.2,187.2 529.4,187.3 526.6,187.4" stroke="#600000" stroke-width="2.7" fill="none" stroke-linejoin="round"/>
<path d="M841.4,116.2 841.0,118.9 840.6,121.7 840.2,124.2 839.8,126.6 839.4,128.8 839.0,130.8 838.6,132.5 838.3,134.2 837.9,135.6 837.5,136.9 837.1,138.1 836.7,139.2 836.3,140.2 835.9,141.1 835.6,141.9 835.2,142.6 834.8,143.3 834.4,143.9 834.0,144.5 833.6,145.0 833.2,145.5 832.9,146.0 832.5,146.4 832.1,146.8 831.7,147.2 831.3,147.6 830.9,147.9 830.5,148.3 830.2,148.6 829.8,148.9 829.4,149.2 829.0,149.5 828.6,149.7 828.2,150.0 827.8,150.3 827.4,150.5 827.1,150.8 826.7,151.0 826.3,151.2 825.9,151.4 823.1,152.9 820.4,154.2 817.6,155.4 814.8,156.4 812.1,157.3 809.3,158.2 806.5,159.0 803.7,159.7 801.0,160.4 798.2,161.0 795.4,161.6 792.7,162.1 789.9,162.6 787.1,163.1 784.3,163.5 781.6,163.9 778.8,164.2 776.0,164.6 773.3,164.9 770.5,165.2 767.7,165.6 765.0,165.8 762.2,166.1 759.4,166.4 756.6,166.7 753.9,167.0 751.1,167.2 748.3,167.5 745.6,167.7 742.8,168.0 740.0,168.2 737.2,168.5 734.5,168.8 731.7,169.0 728.9,169.3 726.2,169.5 723.4,169.8 720.6,170.1 717.8,170.4 715.1,170.6 712.3,170.9 709.5,171.2 706.8,171.5 704.0,171.8 701.2,172.1 698.4,172.4 695.7,172.6 692.9,172.9 690.1,173.2 687.4,173.5 684.6,173.8 681.8,174.1 679.1,174.4 676.3,174.7 673.5,175.0 670.7,175.3 668.0,175.6 665.2,175.9 662.4,176.2 659.7,176.5 656.9,176.8 654.1,177.1 651.3,177.3 648.6,177.6 645.8,177.9 643.0,178.2 640.3,178.5 637.5,178.7 634.7,179.0 631.9,179.3 629.2,179.6 626.4,179.9 623.6,180.2 620.9,180.5 618.1,180.8 615.3,181.1 612.5,181.4 609.8,181.7 607.0,182.0 604.2,182.2 601.5,182.5 598.7,182.8 595.9,183.0 593.2,183.3 590.4,183.5 587.6,183.7 584.8,183.9 582.1,184.1 579.3,184.3 576.5,184.4 573.8,184.6 571.0,184.7 568.2,184.9 565.4,185.0 562.7,185.1 559.9,185.2 557.1,185.3 554.4,185.5 551.6,185.6 548.8,185.7 546.0,185.8 543.3,185.9 540.5,186.0 537.7,186.1 535.0,186.2 532.2,186.3 529.4,186.4 526.6,186.6 523.9,186.7 521.1,186.8 518.3,186.9 515.6,187.0 512.8,187.1 510.0,187.1 507.3,187.1 504.5,187.1 501.7,187.1 498.9,187.1 496.2,187.1 493.4,187.0 490.6,187.0 487.9,187.0" stroke="#9000ff" stroke-width="2.7" fill="none" stroke-linejoin="round"/>
<path d="M841.4,100.1 841.0,104.3 840.6,108.6 840.2,112.6 839.8,116.3 839.4,119.6 839.0,122.6 838.6,125.3 838.3,127.8 837.9,129.9 837.5,131.9 837.1,133.6 836.7,135.1 836.3,136.5 835.9,137.7 835.6,138.8 835.2,139.8 834.8,140.7 834.4,141.5 834.0,142.2 833.6,142.9 833.2,143.5 832.9,144.0 832.5,144.5 832.1,145.0 831.7,145.5 831.3,145.9 830.9,146.2 830.5,146.6 830.2,146.9 829.8,147.3 829.4,147.6 829.0,147.9 828.6,148.2 828.2,148.4 827.8,148.7 827.4,148.9 827.1,149.2 826.7,149.4 826.3,149.6 825.9,149.9 823.1,151.3 820.4,152.6 817.6,153.8 814.8,154.9 812.1,155.9 809.3,156.9 806.5,157.7 803.7,158.5 801.0,159.3 798.2,160.0 795.4,160.6 792.7,161.2 789.9,161.8 787.1,162.3 784.3,162.7 781.6,163.2 778.8,163.6 776.0,164.0 773.3,164.4 770.5,164.7 767.7,165.0 765.0,165.4 762.2,165.7 759.4,166.0 756.6,166.3 753.9,166.6 751.1,166.8 748.3,167.1 745.6,167.4 742.8,167.7 740.0,167.9 737.2,168.2 734.5,168.4 731.7,168.7 728.9,169.0 726.2,169.2 723.4,169.5 720.6,169.8 717.8,170.1 715.1,170.3 712.3,170.6 709.5,170.9 706.8,171.2 704.0,171.5 701.2,171.8 698.4,172.0 695.7,172.3 692.9,172.6 690.1,172.9 687.4,173.2 684.6,173.5 681.8,173.8 679.1,174.1 676.3,174.4 673.5,174.6 670.7,174.9 668.0,175.2 665.2,175.5 662.4,175.8 659.7,176.1 656.9,176.4 654.1,176.7 651.3,176.9 648.6,177.2 645.8,177.5 643.0,177.8 640.3,178.0 637.5,178.3 634.7,178.6 631.9,178.9 629.2,179.2 626.4,179.4 623.6,179.7 620.9,180.0 618.1,180.3 615.3,180.6 612.5,180.9 609.8,181.2 607.0,181.5 604.2,181.7 601.5,182.0 598.7,182.3 595.9,182.5 593.2,182.7 590.4,183.0 587.6,183.2 584.8,183.4 582.1,183.5 579.3,183.7 576.5,183.9 573.8,184.0 571.0,184.2 568.2,184.3 565.4,184.4 562.7,184.5 559.9,184.7 557.1,184.8 554.4,184.9 551.6,185.0 548.8,185.1 546.0,185.2 543.3,185.3 540.5,185.4 537.7,185.5 535.0,185.6 532.2,185.7 529.4,185.9 526.6,186.0 523.9,186.1 521.1,186.2 518.3,186.4" stroke="#006000" stroke-width="2.7" fill="none" stroke-linejoin="round"/>
<path d="M841.4,76.4 841.0,82.9 840.6,89.5 840.2,95.6 839.8,101.2 839.4,106.3 839.0,110.9 838.6,115.0 838.3,118.6 837.9,121.8 837.5,124.6 837.1,127.1 836.7,129.4 836.3,131.3 835.9,133.1 835.6,134.6 835.2,136.0 834.8,137.2 834.4,138.2 834.0,139.2 833.6,140.0 833.2,140.8 832.9,141.5 832.5,142.1 832.1,142.6 831.7,143.2 831.3,143.6 830.9,144.0 830.5,144.4 830.2,144.8 829.8,145.1 829.4,145.5 829.0,145.8 828.6,146.0 828.2,146.3 827.8,146.6 827.4,146.8 827.1,147.1 826.7,147.3 826.3,147.5 825.9,147.7 823.1,149.1 820.4,150.4 817.6,151.5 814.8,152.6 812.1,153.6 809.3,154.6 806.5,155.5 803.7,156.3 801.0,157.2 798.2,157.9 795.4,158.7 792.7,159.3 789.9,160.0 787.1,160.6 784.3,161.1 781.6,161.7 778.8,162.2 776.0,162.6 773.3,163.1 770.5,163.5 767.7,163.9 765.0,164.3 762.2,164.7 759.4,165.0 756.6,165.4 753.9,165.7 751.1,166.1 748.3,166.4 745.6,166.7 742.8,167.0 740.0,167.3 737.2,167.6 734.5,167.9 731.7,168.2 728.9,168.5 726.2,168.8 723.4,169.1 720.6,169.4 717.8,169.7 715.1,170.0 712.3,170.3 709.5,170.6 706.8,170.9 704.0,171.2 701.2,171.5 698.4,171.8 695.7,172.1 692.9,172.4 690.1,172.7 687.4,172.9 684.6,173.2 681.8,173.5 679.1,173.8 676.3,174.1 673.5,174.4 670.7,174.7 668.0,175.0 665.2,175.3 662.4,175.6 659.7,175.9 656.9,176.2 654.1,176.5 651.3,176.7 648.6,177.0 645.8,177.3 643.0,177.6 640.3,177.8 637.5,178.1 634.7,178.4 631.9,178.7 629.2,179.0 626.4,179.2 623.6,179.5 620.9,179.8 618.1,180.1 615.3,180.4 612.5,180.7 609.8,181.0 607.0,181.2 604.2,181.5 601.5,181.8 598.7,182.0 595.9,182.3 593.2,182.5 590.4,182.7 587.6,182.9 584.8,183.1 582.1,183.3 579.3,183.5 576.5,183.6 573.8,183.8 571.0,183.9 568.2,184.1 565.4,184.2 562.7,184.3 559.9,184.4 557.1,184.5 554.4,184.6 551.6,184.7 548.8,184.9 546.0,185.0 543.3,185.1 540.5,185.2 537.7,185.3 535.0,185.4 532.2,185.5 529.4,185.6 526.6,185.7 523.9,185.9 521.1,186.0 518.3,186.1 515.6,186.2 512.8,186.3" stroke="#b0b040" stroke-width="2.7" fill="none" stroke-linejoin="round"/>
<path d="M841.4,106.8 841.0,110.4 840.6,114.0 840.2,117.4 839.8,120.6 839.4,123.4 839.0,126.0 838.6,128.3 838.3,130.4 837.9,132.2 837.5,133.9 837.1,135.4 836.7,136.7 836.3,137.9 835.9,139.0 835.6,140.0 835.2,140.9 834.8,141.7 834.4,142.4 834.0,143.1 833.6,143.7 833.2,144.3 832.9,144.8 832.5,145.3 832.1,145.7 831.7,146.1 831.3,146.5 830.9,146.9 830.5,147.2 830.2,147.6 829.8,147.9 829.4,148.2 829.0,148.5 828.6,148.8 828.2,149.0 827.8,149.3 827.4,149.5 827.1,149.8 826.7,150.0 826.3,150.3 825.9,150.5 823.1,152.0 820.4,153.3 817.6,154.4 814.8,155.5 812.1,156.5 809.3,157.4 806.5,158.2 803.7,159.0 801.0,159.7 798.2,160.3 795.4,161.0 792.7,161.5 789.9,162.0 787.1,162.5 784.3,163.0 781.6,163.4 778.8,163.8 776.0,164.1 773.3,164.5 770.5,164.8 767.7,165.1 765.0,165.4 762.2,165.7 759.4,166.0 756.6,166.3 753.9,166.6 751.1,166.8 748.3,167.1 745.6,167.4 742.8,167.6 740.0,167.9 737.2,168.1 734.5,168.4 731.7,168.6 728.9,168.9 726.2,169.2 723.4,169.4 720.6,169.7 717.8,170.0 715.1,170.2 712.3,170.5 709.5,170.8 706.8,171.1 704.0,171.3 701.2,171.6 698.4,171.9 695.7,172.2 692.9,172.5 690.1,172.8 687.4,173.1 684.6,173.3 681.8,173.6 679.1,173.9 676.3,174.2 673.5,174.5 670.7,174.8 668.0,175.1 665.2,175.3 662.4,175.6 659.7,175.9 656.9,176.2 654.1,176.5 651.3,176.8 648.6,177.0 645.8,177.3 643.0,177.6 640.3,177.8 637.5,178.1 634.7,178.4 631.9,178.7 629.2,179.0 626.4,179.2 623.6,179.5 620.9,179.8 618.1,180.1 615.3,180.4 612.5,180.7 609.8,181.0 607.0,181.2 604.2,181.5 601.5,181.8 598.7,182.0 595.9,182.3 593.2,182.5 590.4,182.7 587.6,182.9 584.8,183.1 582.1,183.3 579.3,183.5 576.5,183.6 573.8,183.8 571.0,183.9 568.2,184.0 565.4,184.2 562.7,184.3 559.9,184.4 557.1,184.5 554.4,184.6 551.6,184.7 548.8,184.8 546.0,184.9 543.3,185.0 540.5,185.1 537.7,185.2 535.0,185.4 532.2,185.5 529.4,185.6 526.6,185.7 523.9,185.8 521.1,186.0 518.3,186.1 515.6,186.2 512.8,186.3 510.0,186.3 507.3,186.4 504.5,186.4 501.7,186.5 498.9,186.5 496.2,186.5" stroke="#101010" stroke-width="2.7" fill="none" stroke-linejoin="round"/>
<path d="M841.4,89.3 841.0,94.5 840.6,99.9 840.2,104.8 839.8,109.4 839.4,113.5 839.0,117.2 838.6,120.5 838.3,123.5 837.9,126.1 837.5,128.4 837.1,130.5 836.7,132.4 836.3,134.0 835.9,135.4 835.6,136.7 835.2,137.9 834.8,138.9 834.4,139.8 834.0,140.7 833.6,141.4 833.2,142.1 832.9,142.7 832.5,143.3 832.1,143.8 831.7,144.2 831.3,144.7 830.9,145.1 830.5,145.5 830.2,145.8 829.8,146.1 829.4,146.4 829.0,146.7 828.6,147.0 828.2,147.3 827.8,147.6 827.4,147.8 827.1,148.1 826.7,148.3 826.3,148.5 825.9,148.7 823.1,150.2 820.4,151.5 817.6,152.6 814.8,153.7 812.1,154.8 809.3,155.7 806.5,156.6 803.7,157.5 801.0,158.2 798.2,159.0 795.4,159.7 792.7,160.3 789.9,160.9 787.1,161.5 784.3,162.0 781.6,162.5 778.8,162.9 776.0,163.3 773.3,163.7 770.5,164.1 767.7,164.5 765.0,164.8 762.2,165.2 759.4,165.5 756.6,165.8 753.9,166.1 751.1,166.4 748.3,166.7 745.6,167.0 742.8,167.3 740.0,167.6 737.2,167.8 734.5,168.1 731.7,168.4 728.9,168.6 726.2,168.9 723.4,169.2 720.6,169.5 717.8,169.7 715.1,170.0 712.3,170.3 709.5,170.6 706.8,170.9 704.0,171.2 701.2,171.5 698.4,171.7 695.7,172.0 692.9,172.3 690.1,172.6 687.4,172.9 684.6,173.2 681.8,173.5 679.1,173.8 676.3,174.0 673.5,174.3 670.7,174.6 668.0,174.9 665.2,175.2 662.4,175.5 659.7,175.7 656.9,176.0 654.1,176.3 651.3,176.6 648.6,176.9 645.8,177.1 643.0,177.4 640.3,177.7 637.5,177.9 634.7,178.2 631.9,178.5 629.2,178.8 626.4,179.0 623.6,179.3 620.9,179.6 618.1,179.9 615.3,180.2 612.5,180.5 609.8,180.7 607.0,181.0 604.2,181.3 601.5,181.5 598.7,181.8 595.9,182.0 593.2,182.3 590.4,182.5 587.6,182.7 584.8,182.9 582.1,183.1 579.3,183.2 576.5,183.4 573.8,183.5 571.0,183.7 568.2,183.8 565.4,183.9 562.7,184.0 559.9,184.2 557.1,184.3 554.4,184.4 551.6,184.5 548.8,184.6 546.0,184.7 543.3,184.8 540.5,184.9 537.7,185.0 535.0,185.1 532.2,185.2 529.4,185.4 526.6,185.5 523.9,185.6 521.1,185.7 518.3,185.9 515.6,186.0 512.8,186.1 510.0,186.2 507.3,186.3" stroke="#a0a0a0" stroke-width="2.7" fill="none" stroke-linejoin="round"/>
<path d="M841.4,95.9 841.0,100.4 840.6,105.1 840.2,109.5 839.8,113.4 839.4,117.1 839.0,120.3 838.6,123.3 838.3,125.9 837.9,128.2 837.5,130.3 837.1,132.1 836.7,133.8 836.3,135.2 835.9,136.5 835.6,137.7 835.2,138.8 834.8,139.7 834.4,140.5 834.0,141.3 833.6,142.0 833.2,142.6 832.9,143.2 832.5,143.7 832.1,144.2 831.7,144.7 831.3,145.1 830.9,145.5 830.5,145.8 830.2,146.2 829.8,146.5 829.4,146.8 829.0,147.1 828.6,147.4 828.2,147.7 827.8,147.9 827.4,148.2 827.1,148.4 826.7,148.6 826.3,148.9 825.9,149.1 823.1,150.6 820.4,151.9 817.6,153.0 814.8,154.1 812.1,155.2 809.3,156.1 806.5,157.0 803.7,157.8 801.0,158.6 798.2,159.3 795.4,159.9 792.7,160.5 789.9,161.1 787.1,161.6 784.3,162.1 781.6,162.6 778.8,163.0 776.0,163.4 773.3,163.8 770.5,164.2 767.7,164.5 765.0,164.9 762.2,165.2 759.4,165.5 756.6,165.8 753.9,166.1 751.1,166.3 748.3,166.6 745.6,166.9 742.8,167.2 740.0,167.4 737.2,167.7 734.5,167.9 731.7,168.2 728.9,168.5 726.2,168.7 723.4,169.0 720.6,169.2 717.8,169.5 715.1,169.8 712.3,170.1 709.5,170.3 706.8,170.6 704.0,170.9 701.2,171.2 698.4,171.5 695.7,171.7 692.9,172.0 690.1,172.3 687.4,172.6 684.6,172.9 681.8,173.1 679.1,173.4 676.3,173.7 673.5,174.0 670.7,174.3 668.0,174.5 665.2,174.8 662.4,175.1 659.7,175.4 656.9,175.6 654.1,175.9 651.3,176.2 648.6,176.4 645.8,176.7 643.0,177.0 640.3,177.2 637.5,177.5 634.7,177.7 631.9,178.0 629.2,178.3 626.4,178.6 623.6,178.8 620.9,179.1 618.1,179.4 615.3,179.7 612.5,180.0 609.8,180.2 607.0,180.5 604.2,180.7 601.5,181.0 598.7,181.2 595.9,181.5 593.2,181.7 590.4,181.9 587.6,182.1 584.8,182.3 582.1,182.5 579.3,182.6 576.5,182.8 573.8,182.9 571.0,183.1 568.2,183.2 565.4,183.3 562.7,183.4 559.9,183.6 557.1,183.7 554.4,183.8 551.6,183.9 548.8,184.0 546.0,184.1 543.3,184.2 540.5,184.3 537.7,184.4 535.0,184.5 532.2,184.6 529.4,184.7 526.6,184.8 523.9,185.0 521.1,185.1 518.3,185.2 515.6,185.3 512.8,185.4 510.0,185.5" stroke="#2020c0" stroke-width="2.7" fill="none" stroke-linejoin="round"/>
<path d="M841.4,88.7 841.0,93.9 840.6,99.2 840.2,104.2 839.8,108.8 839.4,112.9 839.0,116.6 838.6,119.9 838.3,122.9 837.9,125.5 837.5,127.8 837.1,129.9 836.7,131.8 836.3,133.4 835.9,134.8 835.6,136.1 835.2,137.3 834.8,138.3 834.4,139.2 834.0,140.1 833.6,140.8 833.2,141.5 832.9,142.1 832.5,142.6 832.1,143.1 831.7,143.6 831.3,144.0 830.9,144.4 830.5,144.8 830.2,145.2 829.8,145.5 829.4,145.8 829.0,146.1 828.6,146.4 828.2,146.6 827.8,146.9 827.4,147.2 827.1,147.4 826.7,147.6 826.3,147.9 825.9,148.1 823.1,149.5 820.4,150.8 817.6,152.0 814.8,153.1 812.1,154.1 809.3,155.0 806.5,155.9 803.7,156.8 801.0,157.6 798.2,158.3 795.4,159.0 792.7,159.7 789.9,160.3 787.1,160.8 784.3,161.4 781.6,161.8 778.8,162.3 776.0,162.7 773.3,163.1 770.5,163.5 767.7,163.9 765.0,164.3 762.2,164.6 759.4,164.9 756.6,165.2 753.9,165.5 751.1,165.8 748.3,166.1 745.6,166.4 742.8,166.7 740.0,166.9 737.2,167.2 734.5,167.5 731.7,167.7 728.9,168.0 726.2,168.2 723.4,168.5 720.6,168.8 717.8,169.1 715.1,169.3 712.3,169.6 709.5,169.9 706.8,170.2 704.0,170.4 701.2,170.7 698.4,171.0 695.7,171.3 692.9,171.5 690.1,171.8 687.4,172.1 684.6,172.4 681.8,172.6 679.1,172.9 676.3,173.2 673.5,173.4 670.7,173.7 668.0,174.0 665.2,174.3 662.4,174.5 659.7,174.8 656.9,175.0 654.1,175.3 651.3,175.6 648.6,175.8 645.8,176.1 643.0,176.3 640.3,176.6 637.5,176.8 634.7,177.1 631.9,177.4 629.2,177.6 626.4,177.9 623.6,178.2 620.9,178.4 618.1,178.7 615.3,179.0 612.5,179.2 609.8,179.5 607.0,179.7 604.2,180.0 601.5,180.2 598.7,180.5 595.9,180.7 593.2,180.9 590.4,181.1 587.6,181.3 584.8,181.5 582.1,181.7 579.3,181.8 576.5,182.0 573.8,182.1 571.0,182.3 568.2,182.4 565.4,182.5 562.7,182.6 559.9,182.7 557.1,182.8 554.4,182.9 551.6,183.0 548.8,183.1 546.0,183.2 543.3,183.3 540.5,183.4 537.7,183.5 535.0,183.6 532.2,183.8 529.4,183.9 526.6,184.0 523.9,184.1 521.1,184.2 518.3,184.4" stroke="#804000" stroke-width="2.7" fill="none" stroke-linejoin="round"/>
<path d="M841.4,81.5 841.0,87.4 840.6,93.4 840.2,99.0 839.8,104.2 839.4,108.8 839.0,113.0 838.6,116.7 838.3,120.0 837.9,122.9 837.5,125.5 837.1,127.9 836.7,129.9 836.3,131.7 835.9,133.3 835.6,134.7 835.2,136.0 834.8,137.1 834.4,138.1 834.0,139.0 833.6,139.8 833.2,140.5 832.9,141.2 832.5,141.8 832.1,142.3 831.7,142.8 831.3,143.3 830.9,143.7 830.5,144.1 830.2,144.4 829.8,144.8 829.4,145.1 829.0,145.4 828.6,145.6 828.2,145.9 827.8,146.2 827.4,146.4 827.1,146.7 826.7,146.9 826.3,147.1 825.9,147.3 823.1,148.8 820.4,150.0 817.6,151.2 814.8,152.3 812.1,153.3 809.3,154.3 806.5,155.2 803.7,156.0 801.0,156.8 798.2,157.6 795.4,158.3 792.7,159.0 789.9,159.6 787.1,160.2 784.3,160.7 781.6,161.2 778.8,161.7 776.0,162.1 773.3,162.6 770.5,163.0 767.7,163.4 765.0,163.7 762.2,164.1 759.4,164.4 756.6,164.7 753.9,165.0 751.1,165.3 748.3,165.6 745.6,165.9 742.8,166.2 740.0,166.5 737.2,166.7 734.5,167.0 731.7,167.3 728.9,167.5 726.2,167.8 723.4,168.1 720.6,168.3 717.8,168.6 715.1,168.9 712.3,169.1 709.5,169.4 706.8,169.7 704.0,170.0 701.2,170.2 698.4,170.5 695.7,170.8 692.9,171.0 690.1,171.3 687.4,171.6 684.6,171.9 681.8,172.1 679.1,172.4 676.3,172.6 673.5,172.9 670.7,173.2 668.0,173.4 665.2,173.7 662.4,174.0 659.7,174.2 656.9,174.5 654.1,174.7 651.3,175.0 648.6,175.2 645.8,175.5 643.0,175.7 640.3,176.0 637.5,176.2 634.7,176.5 631.9,176.7 629.2,177.0 626.4,177.2 623.6,177.5 620.9,177.7 618.1,178.0 615.3,178.3 612.5,178.5 609.8,178.8 607.0,179.0 604.2,179.2 601.5,179.5 598.7,179.7 595.9,179.9 593.2,180.1 590.4,180.3 587.6,180.5 584.8,180.7 582.1,180.9 579.3,181.0 576.5,181.2 573.8,181.3 571.0,181.4 568.2,181.6 565.4,181.7 562.7,181.8 559.9,181.9 557.1,182.0 554.4,182.1 551.6,182.2 548.8,182.3 546.0,182.4 543.3,182.5 540.5,182.6 537.7,182.7 535.0,182.8 532.2,182.9 529.4,183.0 526.6,183.1 523.9,183.3 521.1,183.4 518.3,183.5 515.6,183.7 512.8,183.8 510.0,184.0" stroke="#40ff40" stroke-width="2.7" fill="none" stroke-linejoin="round"/>
<path d="M841.4,110.8 841.0,113.8 840.6,117.0 840.2,119.9 839.8,122.6 839.4,125.1 839.0,127.3 838.6,129.3 838.3,131.2 837.9,132.8 837.5,134.3 837.1,135.6 836.7,136.8 836.3,137.9 835.9,138.8 835.6,139.7 835.2,140.5 834.8,141.3 834.4,141.9 834.0,142.5 833.6,143.1 833.2,143.6 832.9,144.1 832.5,144.6 832.1,145.0 831.7,145.4 831.3,145.8 830.9,146.1 830.5,146.5 830.2,146.8 829.8,147.1 829.4,147.4 829.0,147.7 828.6,148.0 828.2,148.2 827.8,148.5 827.4,148.7 827.1,149.0 826.7,149.2 826.3,149.5 825.9,149.7 823.1,151.2 820.4,152.4 817.6,153.6 814.8,154.7 812.1,155.6 809.3,156.5 806.5,157.3 803.7,158.1 801.0,158.8 798.2,159.4 795.4,160.0 792.7,160.5 789.9,161.0 787.1,161.5 784.3,161.9 781.6,162.3 778.8,162.7 776.0,163.1 773.3,163.4 770.5,163.7 767.7,164.0 765.0,164.3 762.2,164.6 759.4,164.8 756.6,165.1 753.9,165.3 751.1,165.6 748.3,165.8 745.6,166.1 742.8,166.3 740.0,166.5 737.2,166.8 734.5,167.0 731.7,167.2 728.9,167.4 726.2,167.7 723.4,167.9 720.6,168.2 717.8,168.4 715.1,168.7 712.3,168.9 709.5,169.2 706.8,169.4 704.0,169.7 701.2,169.9 698.4,170.2 695.7,170.4 692.9,170.7 690.1,170.9 687.4,171.2 684.6,171.4 681.8,171.7 679.1,171.9 676.3,172.2 673.5,172.4 670.7,172.7 668.0,172.9 665.2,173.2 662.4,173.4 659.7,173.7 656.9,173.9 654.1,174.2 651.3,174.4 648.6,174.7 645.8,174.9 643.0,175.1 640.3,175.4 637.5,175.6 634.7,175.8 631.9,176.1 629.2,176.3 626.4,176.6 623.6,176.8 620.9,177.1 618.1,177.3 615.3,177.5 612.5,177.8 609.8,178.0 607.0,178.3 604.2,178.5 601.5,178.7 598.7,178.9 595.9,179.1 593.2,179.3 590.4,179.5 587.6,179.7 584.8,179.9 582.1,180.1 579.3,180.2 576.5,180.3 573.8,180.5 571.0,180.6 568.2,180.7 565.4,180.8 562.7,180.9 559.9,181.1 557.1,181.2 554.4,181.3 551.6,181.4 548.8,181.4 546.0,181.5 543.3,181.6 540.5,181.7 537.7,181.8 535.0,181.9 532.2,182.1 529.4,182.2 526.6,182.3 523.9,182.4 521.1,182.6 518.3,182.7 515.6,182.9 512.8,183.1" stroke="#ff9900" stroke-width="2.7" fill="none" stroke-linejoin="round"/>
<path d="M841.4,112.6 841.0,115.4 840.6,118.4 840.2,121.1 839.8,123.7 839.4,126.0 839.0,128.1 838.6,130.0 838.3,131.7 837.9,133.2 837.5,134.6 837.1,135.9 836.7,137.0 836.3,138.0 835.9,138.9 835.6,139.8 835.2,140.6 834.8,141.3 834.4,141.9 834.0,142.5 833.6,143.0 833.2,143.6 832.9,144.0 832.5,144.5 832.1,144.9 831.7,145.3 831.3,145.7 830.9,146.0 830.5,146.3 830.2,146.7 829.8,147.0 829.4,147.3 829.0,147.5 828.6,147.8 828.2,148.1 827.8,148.3 827.4,148.6 827.1,148.8 826.7,149.1 826.3,149.3 825.9,149.5 823.1,151.0 820.4,152.3 817.6,153.5 814.8,154.5 812.1,155.5 809.3,156.3 806.5,157.1 803.7,157.9 801.0,158.6 798.2,159.2 795.4,159.8 792.7,160.3 789.9,160.8 787.1,161.3 784.3,161.7 781.6,162.1 778.8,162.5 776.0,162.8 773.3,163.1 770.5,163.4 767.7,163.7 765.0,164.0 762.2,164.3 759.4,164.6 756.6,164.8 753.9,165.0 751.1,165.3 748.3,165.5 745.6,165.7 742.8,166.0 740.0,166.2 737.2,166.4 734.5,166.6 731.7,166.9 728.9,167.1 726.2,167.3 723.4,167.6 720.6,167.8 717.8,168.0 715.1,168.3 712.3,168.5 709.5,168.8 706.8,169.0 704.0,169.3 701.2,169.5 698.4,169.7 695.7,170.0 692.9,170.2 690.1,170.5 687.4,170.7 684.6,171.0 681.8,171.2 679.1,171.5 676.3,171.7 673.5,171.9 670.7,172.2 668.0,172.4 665.2,172.7 662.4,172.9 659.7,173.1 656.9,173.4 654.1,173.6 651.3,173.8 648.6,174.1 645.8,174.3 643.0,174.5 640.3,174.7 637.5,175.0 634.7,175.2 631.9,175.4 629.2,175.7 626.4,175.9 623.6,176.1 620.9,176.4 618.1,176.6 615.3,176.8 612.5,177.1 609.8,177.3 607.0,177.5 604.2,177.7 601.5,178.0 598.7,178.2 595.9,178.4 593.2,178.6 590.4,178.7 587.6,178.9 584.8,179.1 582.1,179.2 579.3,179.4 576.5,179.5 573.8,179.7 571.0,179.8 568.2,179.9 565.4,180.0 562.7,180.1 559.9,180.2 557.1,180.3 554.4,180.4 551.6,180.5 548.8,180.6 546.0,180.7 543.3,180.8 540.5,180.9 537.7,181.0 535.0,181.1 532.2,181.2 529.4,181.3 526.6,181.4 523.9,181.5 521.1,181.7 518.3,181.8 515.6,182.0 512.8,182.2 510.0,182.4 507.3,182.6 504.5,182.9 501.7,183.1 498.9,183.3 496.2,183.6 493.4,183.8 490.6,184.0 487.9,184.2 485.1,184.3 482.3,184.5" stroke="#c04000" stroke-width="2.7" fill="none" stroke-linejoin="round"/>
<path d="M841.4,85.3 841.0,90.8 840.6,96.3 840.2,101.5 839.8,106.2 839.4,110.5 839.0,114.4 838.6,117.8 838.3,120.9 837.9,123.6 837.5,126.0 837.1,128.2 836.7,130.1 836.3,131.8 835.9,133.3 835.6,134.6 835.2,135.8 834.8,136.8 834.4,137.8 834.0,138.6 833.6,139.4 833.2,140.1 832.9,140.7 832.5,141.3 832.1,141.8 831.7,142.2 831.3,142.7 830.9,143.1 830.5,143.5 830.2,143.8 829.8,144.1 829.4,144.4 829.0,144.7 828.6,145.0 828.2,145.3 827.8,145.5 827.4,145.8 827.1,146.0 826.7,146.3 826.3,146.5 825.9,146.7 823.1,148.1 820.4,149.4 817.6,150.6 814.8,151.7 812.1,152.7 809.3,153.7 806.5,154.6 803.7,155.4 801.0,156.2 798.2,157.0 795.4,157.7 792.7,158.3 789.9,158.9 787.1,159.5 784.3,160.0 781.6,160.5 778.8,161.0 776.0,161.4 773.3,161.8 770.5,162.2 767.7,162.6 765.0,162.9 762.2,163.3 759.4,163.6 756.6,163.9 753.9,164.2 751.1,164.5 748.3,164.7 745.6,165.0 742.8,165.2 740.0,165.5 737.2,165.7 734.5,166.0 731.7,166.2 728.9,166.5 726.2,166.7 723.4,167.0 720.6,167.2 717.8,167.5 715.1,167.7 712.3,168.0 709.5,168.2 706.8,168.5 704.0,168.7 701.2,169.0 698.4,169.2 695.7,169.5 692.9,169.7 690.1,170.0 687.4,170.2 684.6,170.4 681.8,170.7 679.1,170.9 676.3,171.2 673.5,171.4 670.7,171.6 668.0,171.9 665.2,172.1 662.4,172.3 659.7,172.6 656.9,172.8 654.1,173.0 651.3,173.2 648.6,173.5 645.8,173.7 643.0,173.9 640.3,174.1 637.5,174.3 634.7,174.6 631.9,174.8 629.2,175.0 626.4,175.2 623.6,175.5 620.9,175.7 618.1,175.9 615.3,176.1 612.5,176.3 609.8,176.6 607.0,176.8 604.2,177.0 601.5,177.2 598.7,177.4 595.9,177.6 593.2,177.8 590.4,178.0 587.6,178.1 584.8,178.3 582.1,178.4 579.3,178.6 576.5,178.7 573.8,178.8 571.0,179.0 568.2,179.1 565.4,179.2 562.7,179.3 559.9,179.4 557.1,179.5 554.4,179.6 551.6,179.7 548.8,179.8 546.0,179.8 543.3,179.9 540.5,180.0 537.7,180.1 535.0,180.2 532.2,180.3 529.4,180.4 526.6,180.5" stroke="#00c000" stroke-width="2.7" fill="none" stroke-linejoin="round"/>
<path d="M841.4,96.9 841.0,101.2 840.6,105.6 840.2,109.7 839.8,113.5 839.4,116.9 839.0,120.0 838.6,122.7 838.3,125.2 837.9,127.4 837.5,129.4 837.1,131.1 836.7,132.7 836.3,134.1 835.9,135.3 835.6,136.4 835.2,137.4 834.8,138.3 834.4,139.2 834.0,139.9 833.6,140.6 833.2,141.2 832.9,141.7 832.5,142.2 832.1,142.7 831.7,143.2 831.3,143.6 830.9,144.0 830.5,144.3 830.2,144.7 829.8,145.0 829.4,145.3 829.0,145.6 828.6,145.9 828.2,146.1 827.8,146.4 827.4,146.6 827.1,146.9 826.7,147.1 826.3,147.3 825.9,147.6 823.1,149.0 820.4,150.3 817.6,151.5 814.8,152.6 812.1,153.6 809.3,154.6 806.5,155.4 803.7,156.2 801.0,157.0 798.2,157.7 795.4,158.4 792.7,159.0 789.9,159.5 787.1,160.0 784.3,160.5 781.6,161.0 778.8,161.4 776.0,161.8 773.3,162.1 770.5,162.5 767.7,162.8 765.0,163.1 762.2,163.4 759.4,163.7 756.6,164.0 753.9,164.2 751.1,164.5 748.3,164.7 745.6,164.9 742.8,165.2 740.0,165.4 737.2,165.6 734.5,165.8 731.7,166.1 728.9,166.3 726.2,166.5 723.4,166.8 720.6,167.0 717.8,167.2 715.1,167.5 712.3,167.7 709.5,167.9 706.8,168.2 704.0,168.4 701.2,168.6 698.4,168.9 695.7,169.1 692.9,169.3 690.1,169.6 687.4,169.8 684.6,170.0 681.8,170.2 679.1,170.5 676.3,170.7 673.5,170.9 670.7,171.1 668.0,171.4 665.2,171.6 662.4,171.8 659.7,172.0 656.9,172.2 654.1,172.5 651.3,172.7 648.6,172.9 645.8,173.1 643.0,173.3 640.3,173.5 637.5,173.7 634.7,173.9 631.9,174.2 629.2,174.4 626.4,174.6 623.6,174.8 620.9,175.0 618.1,175.2 615.3,175.4 612.5,175.7 609.8,175.9 607.0,176.1 604.2,176.3 601.5,176.5 598.7,176.6 595.9,176.8 593.2,177.0 590.4,177.2 587.6,177.3 584.8,177.5 582.1,177.7 579.3,177.8 576.5,177.9 573.8,178.0 571.0,178.2 568.2,178.3 565.4,178.4 562.7,178.5 559.9,178.6 557.1,178.7 554.4,178.8 551.6,178.8 548.8,178.9 546.0,179.0 543.3,179.1 540.5,179.2 537.7,179.3 535.0,179.4 532.2,179.5 529.4,179.6 526.6,179.7 523.9,179.8 521.1,180.0 518.3,180.1 515.6,180.3 512.8,180.6 510.0,180.8" stroke="#40c0c0" stroke-width="2.7" fill="none" stroke-linejoin="round"/>
<path d="M841.4,90.4 841.0,95.4 840.6,100.4 840.2,105.1 839.8,109.4 839.4,113.2 839.0,116.7 838.6,119.9 838.3,122.7 837.9,125.1 837.5,127.4 837.1,129.3 836.7,131.1 836.3,132.6 835.9,134.0 835.6,135.2 835.2,136.3 834.8,137.3 834.4,138.2 834.0,139.0 833.6,139.7 833.2,140.4 832.9,141.0 832.5,141.5 832.1,142.0 831.7,142.5 831.3,142.9 830.9,143.3 830.5,143.7 830.2,144.0 829.8,144.3 829.4,144.6 829.0,144.9 828.6,145.2 828.2,145.5 827.8,145.7 827.4,146.0 827.1,146.2 826.7,146.5 826.3,146.7 825.9,146.9 823.1,148.4 820.4,149.7 817.6,150.8 814.8,151.9 812.1,153.0 809.3,153.9 806.5,154.8 803.7,155.6 801.0,156.4 798.2,157.2 795.4,157.8 792.7,158.5 789.9,159.1 787.1,159.6 784.3,160.1 781.6,160.6 778.8,161.0 776.0,161.4 773.3,161.8 770.5,162.2 767.7,162.5 765.0,162.8 762.2,163.2 759.4,163.4 756.6,163.7 753.9,164.0 751.1,164.3 748.3,164.5 745.6,164.8 742.8,165.0 740.0,165.2 737.2,165.5 734.5,165.7 731.7,165.9 728.9,166.1 726.2,166.4 723.4,166.6 720.6,166.8 717.8,167.1 715.1,167.3 712.3,167.6 709.5,167.8 706.8,168.0 704.0,168.3 701.2,168.5 698.4,168.7 695.7,169.0 692.9,169.2 690.1,169.4 687.4,169.7 684.6,169.9 681.8,170.1 679.1,170.3 676.3,170.6 673.5,170.8 670.7,171.0 668.0,171.2 665.2,171.5 662.4,171.7 659.7,171.9 656.9,172.1 654.1,172.3 651.3,172.5 648.6,172.8 645.8,173.0 643.0,173.2 640.3,173.4 637.5,173.6 634.7,173.8 631.9,174.0 629.2,174.2 626.4,174.4 623.6,174.6 620.9,174.9 618.1,175.1 615.3,175.3 612.5,175.5 609.8,175.7 607.0,175.9 604.2,176.1 601.5,176.3 598.7,176.5 595.9,176.7 593.2,176.8 590.4,177.0 587.6,177.2 584.8,177.3 582.1,177.5 579.3,177.6 576.5,177.7 573.8,177.9 571.0,178.0 568.2,178.1 565.4,178.2 562.7,178.3 559.9,178.4 557.1,178.5 554.4,178.6 551.6,178.6 548.8,178.7 546.0,178.8 543.3,178.9 540.5,179.0 537.7,179.1 535.0,179.2" stroke="#ff70b0" stroke-width="2.7" fill="none" stroke-linejoin="round"/>
<path d="M841.4,110.0 841.0,113.0 840.6,116.1 840.2,119.0 839.8,121.6 839.4,124.1 839.0,126.2 838.6,128.2 838.3,130.0 837.9,131.6 837.5,133.1 837.1,134.4 836.7,135.6 836.3,136.6 835.9,137.6 835.6,138.5 835.2,139.3 834.8,140.0 834.4,140.6 834.0,141.2 833.6,141.8 833.2,142.3 832.9,142.8 832.5,143.3 832.1,143.7 831.7,144.1 831.3,144.4 830.9,144.8 830.5,145.1 830.2,145.5 829.8,145.8 829.4,146.1 829.0,146.3 828.6,146.6 828.2,146.9 827.8,147.1 827.4,147.4 827.1,147.6 826.7,147.9 826.3,148.1 825.9,148.3 823.1,149.8 820.4,151.1 817.6,152.3 814.8,153.3 812.1,154.3 809.3,155.2 806.5,156.0 803.7,156.8 801.0,157.4 798.2,158.1 795.4,158.7 792.7,159.2 789.9,159.7 787.1,160.2 784.3,160.6 781.6,161.0 778.8,161.4 776.0,161.8 773.3,162.1 770.5,162.4 767.7,162.7 765.0,163.0 762.2,163.2 759.4,163.5 756.6,163.7 753.9,163.9 751.1,164.2 748.3,164.4 745.6,164.6 742.8,164.8 740.0,165.0 737.2,165.2 734.5,165.4 731.7,165.6 728.9,165.8 726.2,166.1 723.4,166.3 720.6,166.5 717.8,166.7 715.1,166.9 712.3,167.2 709.5,167.4 706.8,167.6 704.0,167.8 701.2,168.0 698.4,168.3 695.7,168.5 692.9,168.7 690.1,168.9 687.4,169.1 684.6,169.3 681.8,169.6 679.1,169.8 676.3,170.0 673.5,170.2 670.7,170.4 668.0,170.6 665.2,170.8 662.4,171.0 659.7,171.2 656.9,171.4 654.1,171.6 651.3,171.8 648.6,172.0 645.8,172.2 643.0,172.4 640.3,172.6 637.5,172.8 634.7,173.0 631.9,173.2 629.2,173.4 626.4,173.6 623.6,173.8 620.9,174.0 618.1,174.2 615.3,174.4 612.5,174.6 609.8,174.8 607.0,175.0 604.2,175.2 601.5,175.4 598.7,175.6 595.9,175.7 593.2,175.9 590.4,176.1 587.6,176.2 584.8,176.4 582.1,176.5 579.3,176.6 576.5,176.8 573.8,176.9 571.0,177.0 568.2,177.1 565.4,177.2 562.7,177.3 559.9,177.4 557.1,177.5 554.4,177.5 551.6,177.6 548.8,177.7 546.0,177.8 543.3,177.9 540.5,178.0 537.7,178.1 535.0,178.2 532.2,178.3 529.4,178.4 526.6,178.5 523.9,178.6 521.1,178.7 518.3,178.9 515.6,179.1 512.8,179.4 510.0,179.7 507.3,180.0 504.5,180.4 501.7,180.8 498.9,181.2 496.2,181.6 493.4,182.0 490.6,182.3 487.9,182.6 485.1,182.8" stroke="#ff8000" stroke-width="2.7" fill="none" stroke-linejoin="round"/>
<path d="M841.4,122.6 841.0,124.4 840.6,126.2 840.2,127.9 839.8,129.5 839.4,130.9 839.0,132.2 838.6,133.5 838.3,134.6 837.9,135.6 837.5,136.5 837.1,137.4 836.7,138.2 836.3,138.9 835.9,139.6 835.6,140.2 835.2,140.8 834.8,141.3 834.4,141.8 834.0,142.3 833.6,142.7 833.2,143.1 832.9,143.5 832.5,143.9 832.1,144.3 831.7,144.6 831.3,145.0 830.9,145.3 830.5,145.6 830.2,145.9 829.8,146.2 829.4,146.5 829.0,146.7 828.6,147.0 828.2,147.2 827.8,147.5 827.4,147.7 827.1,148.0 826.7,148.2 826.3,148.4 825.9,148.6 823.1,150.1 820.4,151.4 817.6,152.5 814.8,153.5 812.1,154.5 809.3,155.3 806.5,156.1 803.7,156.8 801.0,157.4 798.2,158.0 795.4,158.6 792.7,159.1 789.9,159.6 787.1,160.0 784.3,160.4 781.6,160.8 778.8,161.1 776.0,161.5 773.3,161.8 770.5,162.1 767.7,162.3 765.0,162.6 762.2,162.8 759.4,163.1 756.6,163.3 753.9,163.5 751.1,163.7 748.3,163.9 745.6,164.1 742.8,164.3 740.0,164.5 737.2,164.7 734.5,164.9 731.7,165.1 728.9,165.3 726.2,165.5 723.4,165.7 720.6,165.9 717.8,166.1 715.1,166.3 712.3,166.5 709.5,166.7 706.8,167.0 704.0,167.2 701.2,167.4 698.4,167.6 695.7,167.8 692.9,168.0 690.1,168.2 687.4,168.4 684.6,168.6 681.8,168.8 679.1,169.0 676.3,169.2 673.5,169.4 670.7,169.6 668.0,169.8 665.2,170.0 662.4,170.2 659.7,170.3 656.9,170.5 654.1,170.7 651.3,170.9 648.6,171.1 645.8,171.3 643.0,171.5 640.3,171.6 637.5,171.8 634.7,172.0 631.9,172.2 629.2,172.4 626.4,172.6 623.6,172.7 620.9,172.9 618.1,173.1 615.3,173.3 612.5,173.5 609.8,173.6 607.0,173.8 604.2,174.0 601.5,174.2 598.7,174.3 595.9,174.5 593.2,174.6 590.4,174.8 587.6,174.9 584.8,175.1 582.1,175.2 579.3,175.3 576.5,175.5 573.8,175.6 571.0,175.7 568.2,175.8 565.4,175.9 562.7,176.0 559.9,176.0 557.1,176.1 554.4,176.2 551.6,176.3 548.8,176.4 546.0,176.4 543.3,176.5 540.5,176.6 537.7,176.7 535.0,176.8 532.2,176.9 529.4,177.0 526.6,177.1 523.9,177.2 521.1,177.4 518.3,177.5 515.6,177.7 512.8,178.1 510.0,178.4 507.3,178.8 504.5,179.3 501.7,179.7 498.9,180.2 496.2,180.7 493.4,181.1 490.6,181.5 487.9,181.8 485.1,182.1 482.3,182.3 479.5,182.4" stroke="#00a000" stroke-width="2.7" fill="none" stroke-linejoin="round"/>
<path d="M841.4,118.2 841.0,120.4 840.6,122.6 840.2,124.7 839.8,126.7 839.4,128.5 839.0,130.1 838.6,131.6 838.3,132.9 837.9,134.1 837.5,135.3 837.1,136.3 836.7,137.2 836.3,138.0 835.9,138.8 835.6,139.5 835.2,140.2 834.8,140.8 834.4,141.3 834.0,141.8 833.6,142.3 833.2,142.8 832.9,143.2 832.5,143.6 832.1,144.0 831.7,144.4 831.3,144.7 830.9,145.0 830.5,145.4 830.2,145.7 829.8,146.0 829.4,146.3 829.0,146.5 828.6,146.8 828.2,147.1 827.8,147.3 827.4,147.6 827.1,147.8 826.7,148.0 826.3,148.3 825.9,148.5 823.1,149.9 820.4,151.2 817.6,152.4 814.8,153.4 812.1,154.3 809.3,155.2 806.5,156.0 803.7,156.7 801.0,157.3 798.2,158.0 795.4,158.5 792.7,159.0 789.9,159.5 787.1,160.0 784.3,160.4 781.6,160.8 778.8,161.1 776.0,161.4 773.3,161.7 770.5,162.0 767.7,162.3 765.0,162.6 762.2,162.8 759.4,163.0 756.6,163.3 753.9,163.5 751.1,163.7 748.3,163.9 745.6,164.1 742.8,164.3 740.0,164.5 737.2,164.7 734.5,164.9 731.7,165.1 728.9,165.3 726.2,165.5 723.4,165.7 720.6,165.9 717.8,166.1 715.1,166.3 712.3,166.5 709.5,166.7 706.8,166.9 704.0,167.2 701.2,167.4 698.4,167.6 695.7,167.8 692.9,168.0 690.1,168.2 687.4,168.4 684.6,168.6 681.8,168.8 679.1,169.0 676.3,169.2 673.5,169.4 670.7,169.6 668.0,169.8 665.2,169.9 662.4,170.1 659.7,170.3 656.9,170.5 654.1,170.7 651.3,170.9 648.6,171.1 645.8,171.3 643.0,171.4 640.3,171.6 637.5,171.8 634.7,172.0 631.9,172.2 629.2,172.4 626.4,172.5 623.6,172.7 620.9,172.9 618.1,173.1 615.3,173.3 612.5,173.5 609.8,173.6 607.0,173.8 604.2,174.0 601.5,174.1 598.7,174.3 595.9,174.5 593.2,174.6 590.4,174.8 587.6,174.9 584.8,175.0 582.1,175.2 579.3,175.3 576.5,175.4 573.8,175.5 571.0,175.6 568.2,175.7 565.4,175.8 562.7,175.9 559.9,176.0 557.1,176.1 554.4,176.2 551.6,176.3 548.8,176.3 546.0,176.4 543.3,176.5 540.5,176.6 537.7,176.7 535.0,176.8 532.2,176.9 529.4,177.0 526.6,177.1 523.9,177.2 521.1,177.3 518.3,177.5 515.6,177.7" stroke="#ff00ff" stroke-width="2.7" fill="none" stroke-linejoin="round"/>
<path d="M841.4,128.1 841.0,129.3 840.6,130.5 840.2,131.7 839.8,132.8 839.4,133.8 839.0,134.7 838.6,135.6 838.3,136.4 837.9,137.2 837.5,137.9 837.1,138.5 836.7,139.2 836.3,139.7 835.9,140.3 835.6,140.8 835.2,141.3 834.8,141.7 834.4,142.1 834.0,142.6 833.6,142.9 833.2,143.3 832.9,143.7 832.5,144.0 832.1,144.4 831.7,144.7 831.3,145.0 830.9,145.3 830.5,145.6 830.2,145.9 829.8,146.2 829.4,146.4 829.0,146.7 828.6,146.9 828.2,147.2 827.8,147.4 827.4,147.7 827.1,147.9 826.7,148.1 826.3,148.4 825.9,148.6 823.1,150.0 820.4,151.3 817.6,152.4 814.8,153.4 812.1,154.3 809.3,155.2 806.5,155.9 803.7,156.6 801.0,157.3 798.2,157.8 795.4,158.4 792.7,158.9 789.9,159.4 787.1,159.8 784.3,160.2 781.6,160.6 778.8,160.9 776.0,161.2 773.3,161.5 770.5,161.8 767.7,162.1 765.0,162.3 762.2,162.5 759.4,162.8 756.6,163.0 753.9,163.2 751.1,163.4 748.3,163.6 745.6,163.8 742.8,164.0 740.0,164.2 737.2,164.3 734.5,164.5 731.7,164.7 728.9,164.9 726.2,165.1 723.4,165.3 720.6,165.5 717.8,165.7 715.1,165.9 712.3,166.1 709.5,166.3 706.8,166.5 704.0,166.7 701.2,166.9 698.4,167.1 695.7,167.3 692.9,167.5 690.1,167.7 687.4,167.9 684.6,168.1 681.8,168.3 679.1,168.5 676.3,168.7 673.5,168.9 670.7,169.1 668.0,169.2 665.2,169.4 662.4,169.6 659.7,169.8 656.9,170.0 654.1,170.1 651.3,170.3 648.6,170.5 645.8,170.7 643.0,170.9 640.3,171.0 637.5,171.2 634.7,171.4 631.9,171.5 629.2,171.7 626.4,171.9 623.6,172.1 620.9,172.2 618.1,172.4 615.3,172.6 612.5,172.7 609.8,172.9 607.0,173.1 604.2,173.2 601.5,173.4 598.7,173.6 595.9,173.7 593.2,173.8 590.4,174.0 587.6,174.1 584.8,174.3 582.1,174.4 579.3,174.5 576.5,174.6 573.8,174.7 571.0,174.8 568.2,174.9 565.4,175.0 562.7,175.1 559.9,175.2 557.1,175.3 554.4,175.4 551.6,175.4 548.8,175.5 546.0,175.6 543.3,175.7 540.5,175.8 537.7,175.9 535.0,175.9 532.2,176.0 529.4,176.1 526.6,176.3 523.9,176.4 521.1,176.5 518.3,176.7 515.6,176.9 512.8,177.2 510.0,177.6 507.3,178.1" stroke="#0000ff" stroke-width="2.7" fill="none" stroke-linejoin="round"/>
<path d="M841.4,92.9 841.0,97.4 840.6,102.0 840.2,106.4 839.8,110.4 839.4,114.0 839.0,117.2 838.6,120.1 838.3,122.7 837.9,125.0 837.5,127.1 837.1,128.9 836.7,130.5 836.3,132.0 835.9,133.3 835.6,134.5 835.2,135.5 834.8,136.4 834.4,137.3 834.0,138.0 833.6,138.7 833.2,139.3 832.9,139.9 832.5,140.4 832.1,140.9 831.7,141.3 831.3,141.7 830.9,142.1 830.5,142.5 830.2,142.8 829.8,143.2 829.4,143.5 829.0,143.7 828.6,144.0 828.2,144.3 827.8,144.5 827.4,144.8 827.1,145.0 826.7,145.3 826.3,145.5 825.9,145.7 823.1,147.2 820.4,148.5 817.6,149.6 814.8,150.7 812.1,151.8 809.3,152.7 806.5,153.6 803.7,154.4 801.0,155.2 798.2,155.9 795.4,156.6 792.7,157.2 789.9,157.8 787.1,158.4 784.3,158.9 781.6,159.3 778.8,159.7 776.0,160.1 773.3,160.5 770.5,160.9 767.7,161.2 765.0,161.5 762.2,161.8 759.4,162.1 756.6,162.3 753.9,162.6 751.1,162.8 748.3,163.0 745.6,163.2 742.8,163.5 740.0,163.7 737.2,163.9 734.5,164.1 731.7,164.3 728.9,164.5 726.2,164.7 723.4,164.9 720.6,165.1 717.8,165.3 715.1,165.5 712.3,165.7 709.5,165.9 706.8,166.1 704.0,166.3 701.2,166.5 698.4,166.7 695.7,166.9 692.9,167.1 690.1,167.3 687.4,167.5 684.6,167.7 681.8,167.9 679.1,168.1 676.3,168.2 673.5,168.4 670.7,168.6 668.0,168.8 665.2,169.0 662.4,169.1 659.7,169.3 656.9,169.5 654.1,169.7 651.3,169.8 648.6,170.0 645.8,170.2 643.0,170.3 640.3,170.5 637.5,170.7 634.7,170.8 631.9,171.0 629.2,171.2 626.4,171.3 623.6,171.5 620.9,171.7 618.1,171.8 615.3,172.0 612.5,172.1 609.8,172.3 607.0,172.5 604.2,172.6 601.5,172.8 598.7,172.9 595.9,173.1 593.2,173.2 590.4,173.3 587.6,173.5 584.8,173.6 582.1,173.7 579.3,173.8 576.5,174.0 573.8,174.1 571.0,174.2 568.2,174.3 565.4,174.3 562.7,174.4 559.9,174.5 557.1,174.6 554.4,174.7 551.6,174.7 548.8,174.8 546.0,174.9 543.3,175.0 540.5,175.1 537.7,175.1 535.0,175.2 532.2,175.3 529.4,175.4 526.6,175.6 523.9,175.7 521.1,175.8 518.3,176.0 515.6,176.3 512.8,176.6 510.0,177.1 507.3,177.6 504.5,178.1 501.7,178.7 498.9,179.3" stroke="#ffd000" stroke-width="2.7" fill="none" stroke-linejoin="round"/>
<path d="M841.4,124.2 841.0,125.8 840.6,127.4 840.2,128.9 839.8,130.3 839.4,131.6 839.0,132.7 838.6,133.8 838.3,134.8 837.9,135.8 837.5,136.6 837.1,137.4 836.7,138.1 836.3,138.8 835.9,139.4 835.6,140.0 835.2,140.5 834.8,141.0 834.4,141.5 834.0,141.9 833.6,142.4 833.2,142.8 832.9,143.2 832.5,143.5 832.1,143.9 831.7,144.2 831.3,144.5 830.9,144.9 830.5,145.2 830.2,145.5 829.8,145.7 829.4,146.0 829.0,146.3 828.6,146.5 828.2,146.8 827.8,147.0 827.4,147.3 827.1,147.5 826.7,147.8 826.3,148.0 825.9,148.2 823.1,149.6 820.4,150.9 817.6,152.0 814.8,153.1 812.1,154.0 809.3,154.8 806.5,155.6 803.7,156.3 801.0,156.9 798.2,157.5 795.4,158.1 792.7,158.6 789.9,159.1 787.1,159.5 784.3,159.9 781.6,160.3 778.8,160.6 776.0,160.9 773.3,161.2 770.5,161.5 767.7,161.8 765.0,162.0 762.2,162.2 759.4,162.5 756.6,162.7 753.9,162.9 751.1,163.1 748.3,163.3 745.6,163.5 742.8,163.6 740.0,163.8 737.2,164.0 734.5,164.2 731.7,164.4 728.9,164.5 726.2,164.7 723.4,164.9 720.6,165.1 717.8,165.3 715.1,165.5 712.3,165.7 709.5,165.9 706.8,166.1 704.0,166.3 701.2,166.5 698.4,166.7 695.7,166.9 692.9,167.1 690.1,167.3 687.4,167.5 684.6,167.6 681.8,167.8 679.1,168.0 676.3,168.2 673.5,168.4 670.7,168.5 668.0,168.7 665.2,168.9 662.4,169.1 659.7,169.2 656.9,169.4 654.1,169.6 651.3,169.7 648.6,169.9 645.8,170.1 643.0,170.2 640.3,170.4 637.5,170.6 634.7,170.7 631.9,170.9 629.2,171.1 626.4,171.2 623.6,171.4 620.9,171.6 618.1,171.7 615.3,171.9 612.5,172.0 609.8,172.2 607.0,172.3 604.2,172.5 601.5,172.6 598.7,172.8 595.9,172.9 593.2,173.1 590.4,173.2 587.6,173.3 584.8,173.5 582.1,173.6 579.3,173.7 576.5,173.8 573.8,173.9 571.0,174.0 568.2,174.1 565.4,174.2 562.7,174.3 559.9,174.4 557.1,174.4 554.4,174.5 551.6,174.6 548.8,174.7 546.0,174.7 543.3,174.8 540.5,174.9 537.7,175.0 535.0,175.1" stroke="#ff2020" stroke-width="2.7" fill="none" stroke-linejoin="round"/>
<path d="M841.4,131.1 841.0,132.0 840.6,132.8 840.2,133.6 839.8,134.4 839.4,135.2 839.0,135.9 838.6,136.5 838.3,137.2 837.9,137.7 837.5,138.3 837.1,138.8 836.7,139.3 836.3,139.8 835.9,140.3 835.6,140.7 835.2,141.1 834.8,141.5 834.4,141.9 834.0,142.3 833.6,142.6 833.2,143.0 832.9,143.3 832.5,143.6 832.1,144.0 831.7,144.3 831.3,144.6 830.9,144.8 830.5,145.1 830.2,145.4 829.8,145.7 829.4,145.9 829.0,146.2 828.6,146.4 828.2,146.7 827.8,146.9 827.4,147.2 827.1,147.4 826.7,147.6 826.3,147.9 825.9,148.1 823.1,149.5 820.4,150.8 817.6,151.9 814.8,152.9 812.1,153.8 809.3,154.6 806.5,155.4 803.7,156.1 801.0,156.7 798.2,157.3 795.4,157.8 792.7,158.3 789.9,158.8 787.1,159.2 784.3,159.6 781.6,160.0 778.8,160.3 776.0,160.6 773.3,160.9 770.5,161.2 767.7,161.5 765.0,161.7 762.2,161.9 759.4,162.2 756.6,162.4 753.9,162.6 751.1,162.8 748.3,162.9 745.6,163.1 742.8,163.3 740.0,163.5 737.2,163.7 734.5,163.8 731.7,164.0 728.9,164.2 726.2,164.4 723.4,164.6 720.6,164.8 717.8,164.9 715.1,165.1 712.3,165.3 709.5,165.5 706.8,165.7 704.0,165.9 701.2,166.1 698.4,166.3 695.7,166.5 692.9,166.6 690.1,166.8 687.4,167.0 684.6,167.2 681.8,167.3 679.1,167.5 676.3,167.7 673.5,167.8 670.7,168.0 668.0,168.2 665.2,168.3 662.4,168.5 659.7,168.7 656.9,168.8 654.1,169.0 651.3,169.2 648.6,169.3 645.8,169.5 643.0,169.6 640.3,169.8 637.5,169.9 634.7,170.1 631.9,170.3 629.2,170.4 626.4,170.6 623.6,170.7 620.9,170.9 618.1,171.0 615.3,171.2 612.5,171.3 609.8,171.5 607.0,171.6 604.2,171.7 601.5,171.9 598.7,172.0 595.9,172.1 593.2,172.3 590.4,172.4 587.6,172.5 584.8,172.7 582.1,172.8 579.3,172.9 576.5,173.0 573.8,173.1 571.0,173.2 568.2,173.3 565.4,173.4 562.7,173.5 559.9,173.5 557.1,173.6 554.4,173.7 551.6,173.8 548.8,173.8 546.0,173.9 543.3,174.0 540.5,174.1 537.7,174.1 535.0,174.2 532.2,174.3 529.4,174.4 526.6,174.5 523.9,174.7 521.1,174.8 518.3,174.9 515.6,175.2 512.8,175.6 510.0,176.0 507.3,176.6 504.5,177.1 501.7,177.7 498.9,178.3 496.2,178.9 493.4,179.5 490.6,180.0 487.9,180.4 485.1,180.7" stroke="#ff0000" stroke-width="2.7" fill="none" stroke-linejoin="round"/>
<path d="M841.4,98.0 841.0,102.0 840.6,106.1 840.2,109.9 839.8,113.4 839.4,116.6 839.0,119.5 838.6,122.1 838.3,124.4 837.9,126.5 837.5,128.3 837.1,130.0 836.7,131.5 836.3,132.8 835.9,134.0 835.6,135.0 835.2,136.0 834.8,136.8 834.4,137.6 834.0,138.3 833.6,139.0 833.2,139.5 832.9,140.1 832.5,140.6 832.1,141.0 831.7,141.5 831.3,141.9 830.9,142.2 830.5,142.6 830.2,142.9 829.8,143.2 829.4,143.5 829.0,143.8 828.6,144.1 828.2,144.4 827.8,144.6 827.4,144.9 827.1,145.1 826.7,145.4 826.3,145.6 825.9,145.8 823.1,147.3 820.4,148.6 817.6,149.8 814.8,150.9 812.1,151.9 809.3,152.8 806.5,153.7 803.7,154.5 801.0,155.2 798.2,155.9 795.4,156.6 792.7,157.2 789.9,157.7 787.1,158.2 784.3,158.7 781.6,159.2 778.8,159.6 776.0,159.9 773.3,160.3 770.5,160.6 767.7,160.9 765.0,161.2 762.2,161.5 759.4,161.7 756.6,162.0 753.9,162.2 751.1,162.4 748.3,162.6 745.6,162.8 742.8,163.0 740.0,163.2 737.2,163.4 734.5,163.6 731.7,163.7 728.9,163.9 726.2,164.1 723.4,164.3 720.6,164.5 717.8,164.7 715.1,164.9 712.3,165.1 709.5,165.3 706.8,165.5 704.0,165.7 701.2,165.9 698.4,166.0 695.7,166.2 692.9,166.4 690.1,166.6 687.4,166.8 684.6,166.9 681.8,167.1 679.1,167.3 676.3,167.4 673.5,167.6 670.7,167.8 668.0,167.9 665.2,168.1 662.4,168.3 659.7,168.4 656.9,168.6 654.1,168.7 651.3,168.9 648.6,169.0 645.8,169.2 643.0,169.3 640.3,169.5 637.5,169.6 634.7,169.8 631.9,169.9 629.2,170.1 626.4,170.2 623.6,170.4 620.9,170.5 618.1,170.7 615.3,170.8 612.5,171.0 609.8,171.1 607.0,171.2 604.2,171.4 601.5,171.5 598.7,171.7 595.9,171.8 593.2,171.9 590.4,172.0 587.6,172.2 584.8,172.3 582.1,172.4 579.3,172.5 576.5,172.6 573.8,172.7 571.0,172.8 568.2,172.9 565.4,173.0 562.7,173.1 559.9,173.1 557.1,173.2 554.4,173.3 551.6,173.4 548.8,173.4 546.0,173.5 543.3,173.6 540.5,173.7 537.7,173.7 535.0,173.8 532.2,173.9 529.4,174.0 526.6,174.1 523.9,174.3 521.1,174.4 518.3,174.6 515.6,174.9 512.8,175.3 510.0,175.7 507.3,176.3 504.5,176.9 501.7,177.5 498.9,178.2 496.2,178.8 493.4,179.5 490.6,180.0" stroke="#c0a060" stroke-width="2.7" fill="none" stroke-linejoin="round"/>
<path d="M163.6,317.5 164.0,308.8 164.4,300.2 164.8,292.2 165.2,284.9 165.6,278.4 166.0,272.7 166.4,267.5 166.7,263.0 167.1,258.9 167.5,255.4 167.9,252.2 168.3,249.3 168.7,246.8 169.1,244.5 169.4,242.5 169.8,240.6 170.2,238.9 170.6,237.4 171.0,236.0 171.4,234.7 171.8,233.5 172.1,232.3 172.5,231.3 172.9,230.3 173.3,229.3 173.7,228.4 174.1,227.6 174.5,226.8 174.8,226.0 175.2,225.2 175.6,224.5 176.0,223.8 176.4,223.1 176.8,222.5 177.2,221.8 177.6,221.2 177.9,220.6 178.3,220.0 178.7,219.4 179.1,218.8 181.9,215.1 184.6,211.8 187.4,209.0 190.2,206.5 192.9,204.2 195.7,202.3 198.5,200.5 201.3,199.0 204.0,197.6 206.8,196.3 209.6,195.2 212.3,194.2 215.1,193.3 217.9,192.4 220.7,191.7 223.4,191.0 226.2,190.3 229.0,189.7 231.7,189.1 234.5,188.6 237.3,188.1 240.0,187.7 242.8,187.3 245.6,186.9 248.4,186.5 251.1,186.2 253.9,185.9 256.7,185.6 259.4,185.3 262.2,185.0 265.0,184.8 267.8,184.5 270.5,184.3 273.3,184.1 276.1,183.9 278.8,183.6 281.6,183.4 284.4,183.2 287.2,183.0 289.9,182.8 292.7,182.7 295.5,182.5 298.2,182.3 301.0,182.1 303.8,181.9 306.6,181.7 309.3,181.5 312.1,181.3 314.9,181.1 317.6,180.8 320.4,180.6 323.2,180.4 325.9,180.2 328.7,179.9 331.5,179.7 334.3,179.4 337.0,179.1 339.8,178.8 342.6,178.5 345.3,178.2 348.1,177.9 350.9,177.6 353.7,177.3 356.4,176.9 359.2,176.6 362.0,176.2 364.7,175.9 367.5,175.5 370.3,175.2 373.1,174.8 375.8,174.4 378.6,174.0 381.4,173.6 384.1,173.2 386.9,172.8 389.7,172.4 392.5,171.9 395.2,171.5 398.0,171.0 400.8,170.5 403.5,170.1 406.3,169.6 409.1,169.1 411.8,168.6 414.6,168.1 417.4,167.5 420.2,167.0 422.9,166.5 425.7,165.9 428.5,165.4 431.2,164.8 434.0,164.3 436.8,163.7 439.6,163.2 442.3,162.6 445.1,162.0 447.9,161.3 450.6,160.6 453.4,159.9 456.2,159.2 459.0,158.5 461.7,157.8 464.5,157.1 467.3,156.4 470.0,155.8 472.8,155.2 475.6,154.6 478.4,154.2 481.1,153.7 483.9,153.3 486.7,152.9 489.4,152.5 492.2,152.1 495.0,151.7 497.7,151.4 500.5,151.0 503.3,150.6 506.1,150.2 508.8,149.8 511.6,149.4 514.4,149.0 517.1,148.6 519.9,148.2 522.7,147.8 525.5,147.3 528.2,146.7 531.0,146.1 533.8,145.5 536.5,144.9 539.3,144.2 542.1,143.5 544.9,142.9 547.6,142.2 550.4,141.5 553.2,140.9 555.9,140.3 558.7,139.7 561.5,139.1 564.3,138.7 567.0,138.2 569.8,137.9 572.6,137.5 575.3,137.3 578.1,137.2 580.9,137.1 583.6,137.0 586.4,136.9 589.2,136.8 592.0,136.8 594.7,136.7 597.5,136.7 600.3,136.6 603.0,136.6 605.8,136.5 608.6,136.5 611.4,136.4 614.1,136.4 616.9,136.3 619.7,136.3 622.4,136.2 625.2,136.2 628.0,136.1 630.8,136.0 633.5,136.0 636.3,135.9 639.1,135.8 641.8,135.7 644.6,135.5 647.4,135.3 650.2,135.1 652.9,134.8 655.7,134.5 658.5,134.2 661.2,133.9 664.0,133.6 666.8,133.2 669.5,132.9 672.3,132.6 675.1,132.3 677.9,132.1 680.6,131.8 683.4,131.6 686.2,131.4 688.9,131.2 691.7,131.0 694.5,130.8 697.3,130.5 700.0,130.3 702.8,130.1 705.6,129.9 708.3,129.7 711.1,129.4 713.9,129.2 716.7,128.9 719.4,128.6 722.2,128.3 725.0,128.0 727.7,127.7 730.5,127.3 733.3,126.8 736.1,126.3 738.8,125.8 741.6,125.2 744.4,124.5 747.1,123.9 749.9,123.1 752.7,122.3 755.4,121.5 758.2,120.6 761.0,119.7 763.8,118.8 766.5,117.8 769.3,116.8 772.1,115.7 774.8,114.5 777.6,113.1 780.4,111.5 783.2,109.7 785.9,107.4 788.7,104.8 791.5,101.6 794.2,98.0 797.0,94.1 799.8,90.1 802.6,86.4 805.3,83.0 808.1,80.2 810.9,77.9 813.6,76.1 816.4,74.7 819.2,73.7 822.0,72.9 824.7,72.3 827.5,71.8 830.3,71.4 833.0,71.1 835.8,70.9 838.6,70.7 841.4,70.5" stroke="#d8d0b0" stroke-width="2.7" fill="none" stroke-linejoin="round"/>
<path d="M198.5,216.5 201.3,214.5 204.0,212.6 206.8,211.0 209.6,209.5 212.3,208.2 215.1,207.0 217.9,205.9 220.7,204.9 223.4,204.0 226.2,203.2 229.0,202.4 231.7,201.6 234.5,201.0 237.3,200.3 240.0,199.8 242.8,199.2 245.6,198.7 248.4,198.2 251.1,197.7 253.9,197.2 256.7,196.8 259.4,196.4 262.2,195.9 265.0,195.5 267.8,195.1 270.5,194.7 273.3,194.4 276.1,194.0 278.8,193.6 281.6,193.2 284.4,192.9 287.2,192.5 289.9,192.2 292.7,191.8 295.5,191.4 298.2,191.1 301.0,190.7 303.8,190.4 306.6,190.0 309.3,189.7 312.1,189.3 314.9,188.9 317.6,188.6 320.4,188.2 323.2,187.8 325.9,187.5 328.7,187.1 331.5,186.7 334.3,186.3 337.0,186.0 339.8,185.6 342.6,185.2 345.3,184.8 348.1,184.4 350.9,184.0 353.7,183.5 356.4,183.1 359.2,182.7 362.0,182.3 364.7,181.8 367.5,181.4 370.3,180.9 373.1,180.5 375.8,180.0 378.6,179.6 381.4,179.1 384.1,178.6 386.9,178.1 389.7,177.6 392.5,177.1 395.2,176.6 398.0,176.1 400.8,175.5 403.5,175.0 406.3,174.4 409.1,173.9 411.8,173.3 414.6,172.7 417.4,172.1 420.2,171.5 422.9,170.9 425.7,170.3 428.5,169.6 431.2,169.0 434.0,168.4 436.8,167.7 439.6,167.1 442.3,166.4 445.1,165.6 447.9,164.9 450.6,164.1 453.4,163.3 456.2,162.4 459.0,161.6 461.7,160.8 464.5,160.0 467.3,159.2 470.0,158.5 472.8,157.8 475.6,157.2 478.4,156.7 481.1,156.2 483.9,155.8 486.7,155.4 489.4,155.1 492.2,154.7 495.0,154.4 497.7,154.1 500.5,153.8 503.3,153.5" stroke="#ffd000" stroke-width="2.7" fill="none" stroke-linejoin="round"/>
<path d="M201.3,201.9 204.0,200.3 206.8,198.9 209.6,197.6 212.3,196.5 215.1,195.4 217.9,194.5 220.7,193.6 223.4,192.8 226.2,192.1 229.0,191.4 231.7,190.8 234.5,190.2 237.3,189.7 240.0,189.2 242.8,188.8 245.6,188.3 248.4,187.9 251.1,187.6 253.9,187.2 256.7,186.9 259.4,186.6 262.2,186.3 265.0,186.0 267.8,185.8 270.5,185.5 273.3,185.3 276.1,185.0 278.8,184.8 281.6,184.6 284.4,184.3 287.2,184.1 289.9,183.9 292.7,183.7 295.5,183.5 298.2,183.3 301.0,183.1 303.8,182.8 306.6,182.6 309.3,182.4 312.1,182.2 314.9,182.0 317.6,181.7 320.4,181.5 323.2,181.2 325.9,181.0 328.7,180.7 331.5,180.5 334.3,180.2 337.0,179.9 339.8,179.6 342.6,179.3 345.3,179.0 348.1,178.6 350.9,178.3 353.7,178.0 356.4,177.6 359.2,177.3 362.0,176.9 364.7,176.6 367.5,176.2 370.3,175.8 373.1,175.4 375.8,175.0 378.6,174.6 381.4,174.2 384.1,173.8 386.9,173.4 389.7,173.0 392.5,172.5 395.2,172.1 398.0,171.6 400.8,171.1 403.5,170.6 406.3,170.1 409.1,169.6 411.8,169.1 414.6,168.6 417.4,168.1 420.2,167.5 422.9,167.0 425.7,166.4 428.5,165.9 431.2,165.3 434.0,164.8 436.8,164.2 439.6,163.6 442.3,163.0 445.1,162.4 447.9,161.7 450.6,161.0 453.4,160.3 456.2,159.6 459.0,158.9 461.7,158.1 464.5,157.4 467.3,156.8 470.0,156.1 472.8,155.5 475.6,155.0 478.4,154.5 481.1,154.0 483.9,153.6 486.7,153.2 489.4,152.8 492.2,152.5 495.0,152.1 497.7,151.7 500.5,151.4 503.3,151.0 506.1,150.6 508.8,150.3 511.6,149.9 514.4,149.5" stroke="#40ff40" stroke-width="2.7" fill="none" stroke-linejoin="round"/>
<path d="M201.3,215.7 204.0,213.8 206.8,212.2 209.6,210.7 212.3,209.3 215.1,208.1 217.9,207.0 220.7,206.0 223.4,205.0 226.2,204.2 229.0,203.4 231.7,202.6 234.5,202.0 237.3,201.3 240.0,200.7 242.8,200.2 245.6,199.6 248.4,199.1 251.1,198.6 253.9,198.1 256.7,197.7 259.4,197.2 262.2,196.8 265.0,196.4 267.8,196.0 270.5,195.6 273.3,195.2 276.1,194.8 278.8,194.4 281.6,194.0 284.4,193.7 287.2,193.3 289.9,192.9 292.7,192.5 295.5,192.2 298.2,191.8 301.0,191.4 303.8,191.1 306.6,190.7 309.3,190.3 312.1,189.9 314.9,189.6 317.6,189.2 320.4,188.8 323.2,188.4 325.9,188.1 328.7,187.7 331.5,187.3 334.3,186.9 337.0,186.5 339.8,186.1 342.6,185.7 345.3,185.3 348.1,184.9 350.9,184.5 353.7,184.1 356.4,183.6 359.2,183.2 362.0,182.8 364.7,182.3 367.5,181.9 370.3,181.4 373.1,181.0 375.8,180.5 378.6,180.0 381.4,179.5 384.1,179.1 386.9,178.6 389.7,178.1 392.5,177.6 395.2,177.0 398.0,176.5 400.8,176.0 403.5,175.4 406.3,174.8 409.1,174.3 411.8,173.7 414.6,173.1 417.4,172.5 420.2,171.9 422.9,171.3 425.7,170.6 428.5,170.0 431.2,169.4 434.0,168.7 436.8,168.1 439.6,167.4 442.3,166.8 445.1,166.0 447.9,165.2 450.6,164.4 453.4,163.6 456.2,162.8 459.0,161.9 461.7,161.1 464.5,160.3 467.3,159.6 470.0,158.8 472.8,158.2 475.6,157.6 478.4,157.0 481.1,156.6 483.9,156.2 486.7,155.8 489.4,155.5 492.2,155.2 495.0,154.9 497.7,154.6 500.5,154.4 503.3,154.1 506.1,153.9 508.8,153.7 511.6,153.4 514.4,153.2 517.1,152.9" stroke="#ff9900" stroke-width="2.7" fill="none" stroke-linejoin="round"/>
<path d="M192.9,208.4 195.7,206.0 198.5,203.8 201.3,201.9 204.0,200.2 206.8,198.7 209.6,197.4 212.3,196.1 215.1,195.0 217.9,194.1 220.7,193.2 223.4,192.3 226.2,191.6 229.0,190.9 231.7,190.3 234.5,189.7 237.3,189.1 240.0,188.6 242.8,188.2 245.6,187.7 248.4,187.4 251.1,187.0 253.9,186.6 256.7,186.3 259.4,186.0 262.2,185.7 265.0,185.4 267.8,185.2 270.5,184.9 273.3,184.7 276.1,184.5 278.8,184.2 281.6,184.0 284.4,183.8 287.2,183.6 289.9,183.4 292.7,183.2 295.5,183.0 298.2,182.8 301.0,182.6 303.8,182.4 306.6,182.2 309.3,181.9 312.1,181.7 314.9,181.5 317.6,181.3 320.4,181.1 323.2,180.8 325.9,180.6 328.7,180.3 331.5,180.1 334.3,179.8 337.0,179.5 339.8,179.2 342.6,178.9 345.3,178.6 348.1,178.3 350.9,178.0 353.7,177.6 356.4,177.3 359.2,176.9 362.0,176.6 364.7,176.2 367.5,175.9 370.3,175.5 373.1,175.1 375.8,174.7 378.6,174.3 381.4,173.9 384.1,173.5 386.9,173.1 389.7,172.7 392.5,172.2 395.2,171.8 398.0,171.3 400.8,170.8 403.5,170.3 406.3,169.9 409.1,169.4 411.8,168.8 414.6,168.3 417.4,167.8 420.2,167.3 422.9,166.7 425.7,166.2 428.5,165.6 431.2,165.1 434.0,164.5 436.8,164.0 439.6,163.4 442.3,162.8 445.1,162.2 447.9,161.5 450.6,160.8 453.4,160.1 456.2,159.4 459.0,158.7 461.7,157.9 464.5,157.3 467.3,156.6 470.0,155.9 472.8,155.3 475.6,154.8 478.4,154.3 481.1,153.9 483.9,153.4 486.7,153.0 489.4,152.6 492.2,152.3 495.0,151.9 497.7,151.5 500.5,151.1 503.3,150.7 506.1,150.4 508.8,150.0 511.6,149.6 514.4,149.2" stroke="#b0b040" stroke-width="2.7" fill="none" stroke-linejoin="round"/>
<path d="M190.2,224.8 192.9,222.1 195.7,219.6 198.5,217.4 201.3,215.5 204.0,213.8 206.8,212.2 209.6,210.8 212.3,209.5 215.1,208.4 217.9,207.3 220.7,206.3 223.4,205.4 226.2,204.6 229.0,203.9 231.7,203.1 234.5,202.5 237.3,201.9 240.0,201.3 242.8,200.7 245.6,200.2 248.4,199.7 251.1,199.2 253.9,198.7 256.7,198.3 259.4,197.8 262.2,197.4 265.0,197.0 267.8,196.6 270.5,196.1 273.3,195.7 276.1,195.4 278.8,195.0 281.6,194.6 284.4,194.2 287.2,193.8 289.9,193.4 292.7,193.0 295.5,192.7 298.2,192.3 301.0,191.9 303.8,191.5 306.6,191.2 309.3,190.8 312.1,190.4 314.9,190.0 317.6,189.6 320.4,189.3 323.2,188.9 325.9,188.5 328.7,188.1 331.5,187.7 334.3,187.3 337.0,186.9 339.8,186.5 342.6,186.1 345.3,185.7 348.1,185.2 350.9,184.8 353.7,184.4 356.4,184.0 359.2,183.5 362.0,183.1 364.7,182.6 367.5,182.2 370.3,181.7 373.1,181.3 375.8,180.8 378.6,180.3 381.4,179.8 384.1,179.3 386.9,178.8 389.7,178.3 392.5,177.8 395.2,177.3 398.0,176.8 400.8,176.2 403.5,175.7 406.3,175.1 409.1,174.5 411.8,173.9 414.6,173.3 417.4,172.7 420.2,172.1 422.9,171.5 425.7,170.8 428.5,170.2 431.2,169.6 434.0,168.9 436.8,168.3 439.6,167.6 442.3,166.9 445.1,166.2 447.9,165.4 450.6,164.6 453.4,163.7 456.2,162.9 459.0,162.0 461.7,161.2 464.5,160.4 467.3,159.6 470.0,158.9 472.8,158.2 475.6,157.6 478.4,157.0 481.1,156.6 483.9,156.1 486.7,155.8 489.4,155.4 492.2,155.1 495.0,154.8" stroke="#c0a060" stroke-width="2.7" fill="none" stroke-linejoin="round"/>
<path d="M198.5,206.3 201.3,204.9 204.0,203.6 206.8,202.5 209.6,201.4 212.3,200.4 215.1,199.6 217.9,198.7 220.7,198.0 223.4,197.3 226.2,196.6 229.0,196.0 231.7,195.5 234.5,194.9 237.3,194.4 240.0,193.9 242.8,193.5 245.6,193.1 248.4,192.7 251.1,192.3 253.9,191.9 256.7,191.6 259.4,191.2 262.2,190.9 265.0,190.6 267.8,190.2 270.5,189.9 273.3,189.6 276.1,189.3 278.8,189.0 281.6,188.8 284.4,188.5 287.2,188.2 289.9,187.9 292.7,187.6 295.5,187.3 298.2,187.1 301.0,186.8 303.8,186.5 306.6,186.2 309.3,185.9 312.1,185.6 314.9,185.4 317.6,185.1 320.4,184.8 323.2,184.5 325.9,184.1 328.7,183.8 331.5,183.5 334.3,183.2 337.0,182.8 339.8,182.5 342.6,182.2 345.3,181.8 348.1,181.4 350.9,181.1 353.7,180.7 356.4,180.3 359.2,179.9 362.0,179.5 364.7,179.1 367.5,178.7 370.3,178.3 373.1,177.9 375.8,177.5 378.6,177.0 381.4,176.6 384.1,176.2 386.9,175.7 389.7,175.2 392.5,174.8 395.2,174.3 398.0,173.8 400.8,173.3 403.5,172.8 406.3,172.2 409.1,171.7 411.8,171.2 414.6,170.6 417.4,170.0 420.2,169.5 422.9,168.9 425.7,168.3 428.5,167.7 431.2,167.1 434.0,166.5 436.8,165.9 439.6,165.3 442.3,164.7 445.1,164.0 447.9,163.3 450.6,162.5 453.4,161.8 456.2,161.0 459.0,160.2 461.7,159.4 464.5,158.7 467.3,158.0 470.0,157.3 472.8,156.7 475.6,156.1 478.4,155.6 481.1,155.1 483.9,154.7 486.7,154.3 489.4,154.0 492.2,153.6 495.0,153.3 497.7,152.9 500.5,152.6 503.3,152.3 506.1,152.0 508.8,151.7 511.6,151.4 514.4,151.0 517.1,150.7 519.9,150.3 522.7,149.9 525.5,149.5 528.2,149.1 531.0,148.7 533.8,148.2 536.5,147.7 539.3,147.2" stroke="#ff70b0" stroke-width="2.7" fill="none" stroke-linejoin="round"/>
<path d="M206.8,208.9 209.6,207.5 212.3,206.2 215.1,205.0 217.9,204.0 220.7,203.0 223.4,202.1 226.2,201.3 229.0,200.5 231.7,199.8 234.5,199.2 237.3,198.6 240.0,198.0 242.8,197.5 245.6,196.9 248.4,196.5 251.1,196.0 253.9,195.6 256.7,195.1 259.4,194.7 262.2,194.3 265.0,193.9 267.8,193.6 270.5,193.2 273.3,192.8 276.1,192.5 278.8,192.1 281.6,191.8 284.4,191.5 287.2,191.1 289.9,190.8 292.7,190.5 295.5,190.1 298.2,189.8 301.0,189.5 303.8,189.1 306.6,188.8 309.3,188.5 312.1,188.1 314.9,187.8 317.6,187.4 320.4,187.1 323.2,186.7 325.9,186.4 328.7,186.0 331.5,185.7 334.3,185.3 337.0,184.9 339.8,184.6 342.6,184.2 345.3,183.8 348.1,183.4 350.9,183.0 353.7,182.6 356.4,182.2 359.2,181.8 362.0,181.4 364.7,181.0 367.5,180.5 370.3,180.1 373.1,179.6 375.8,179.2 378.6,178.7 381.4,178.3 384.1,177.8 386.9,177.3 389.7,176.8 392.5,176.3 395.2,175.8 398.0,175.3 400.8,174.8 403.5,174.3 406.3,173.7 409.1,173.1 411.8,172.6 414.6,172.0 417.4,171.4 420.2,170.8 422.9,170.2 425.7,169.6 428.5,169.0 431.2,168.4 434.0,167.7 436.8,167.1 439.6,166.5 442.3,165.8 445.1,165.1 447.9,164.3 450.6,163.6 453.4,162.8 456.2,161.9 459.0,161.1 461.7,160.3 464.5,159.5 467.3,158.8 470.0,158.1 472.8,157.4 475.6,156.8 478.4,156.3 481.1,155.8 483.9,155.4 486.7,155.0 489.4,154.7 492.2,154.3 495.0,154.0 497.7,153.7 500.5,153.4 503.3,153.1 506.1,152.8 508.8,152.5 511.6,152.1" stroke="#a0a0a0" stroke-width="2.7" fill="none" stroke-linejoin="round"/>
<path d="M198.5,207.8 201.3,206.0 204.0,204.5 206.8,203.1 209.6,201.8 212.3,200.7 215.1,199.6 217.9,198.7 220.7,197.8 223.4,197.0 226.2,196.3 229.0,195.6 231.7,195.0 234.5,194.4 237.3,193.8 240.0,193.3 242.8,192.9 245.6,192.4 248.4,192.0 251.1,191.6 253.9,191.2 256.7,190.8 259.4,190.5 262.2,190.2 265.0,189.8 267.8,189.5 270.5,189.2 273.3,188.9 276.1,188.6 278.8,188.3 281.6,188.1 284.4,187.8 287.2,187.5 289.9,187.2 292.7,187.0 295.5,186.7 298.2,186.4 301.0,186.1 303.8,185.9 306.6,185.6 309.3,185.3 312.1,185.1 314.9,184.8 317.6,184.5 320.4,184.2 323.2,183.9 325.9,183.6 328.7,183.3 331.5,183.0 334.3,182.7 337.0,182.3 339.8,182.0 342.6,181.7 345.3,181.3 348.1,181.0 350.9,180.6 353.7,180.2 356.4,179.9 359.2,179.5 362.0,179.1 364.7,178.7 367.5,178.3 370.3,177.9 373.1,177.5 375.8,177.1 378.6,176.6 381.4,176.2 384.1,175.8 386.9,175.3 389.7,174.8 392.5,174.4 395.2,173.9 398.0,173.4 400.8,172.9 403.5,172.4 406.3,171.9 409.1,171.4 411.8,170.8 414.6,170.3 417.4,169.7 420.2,169.2 422.9,168.6 425.7,168.0 428.5,167.4 431.2,166.8 434.0,166.3 436.8,165.7 439.6,165.1 442.3,164.4 445.1,163.8 447.9,163.1 450.6,162.3 453.4,161.6 456.2,160.8 459.0,160.0 461.7,159.3 464.5,158.6 467.3,157.8 470.0,157.2 472.8,156.6 475.6,156.0 478.4,155.5 481.1,155.0 483.9,154.6 486.7,154.3 489.4,153.9 492.2,153.6 495.0,153.2 497.7,152.9 500.5,152.6 503.3,152.3 506.1,152.0 508.8,151.7 511.6,151.4" stroke="#40c0c0" stroke-width="2.7" fill="none" stroke-linejoin="round"/>
<path d="M204.0,208.8 206.8,207.6 209.6,206.6 212.3,205.6 215.1,204.7 217.9,203.9 220.7,203.1 223.4,202.4 226.2,201.7 229.0,201.0 231.7,200.5 234.5,199.9 237.3,199.4 240.0,198.9 242.8,198.4 245.6,197.9 248.4,197.5 251.1,197.0 253.9,196.6 256.7,196.2 259.4,195.8 262.2,195.4 265.0,195.0 267.8,194.7 270.5,194.3 273.3,193.9 276.1,193.6 278.8,193.2 281.6,192.9 284.4,192.5 287.2,192.2 289.9,191.8 292.7,191.5 295.5,191.1 298.2,190.8 301.0,190.4 303.8,190.1 306.6,189.7 309.3,189.4 312.1,189.0 314.9,188.7 317.6,188.3 320.4,188.0 323.2,187.6 325.9,187.2 328.7,186.9 331.5,186.5 334.3,186.1 337.0,185.7 339.8,185.3 342.6,184.9 345.3,184.6 348.1,184.2 350.9,183.7 353.7,183.3 356.4,182.9 359.2,182.5 362.0,182.1 364.7,181.6 367.5,181.2 370.3,180.8 373.1,180.3 375.8,179.9 378.6,179.4 381.4,178.9 384.1,178.4 386.9,178.0 389.7,177.5 392.5,177.0 395.2,176.4 398.0,175.9 400.8,175.4 403.5,174.8 406.3,174.3 409.1,173.7 411.8,173.2 414.6,172.6 417.4,172.0 420.2,171.4 422.9,170.8 425.7,170.2 428.5,169.5 431.2,168.9 434.0,168.3 436.8,167.6 439.6,167.0 442.3,166.3 445.1,165.6 447.9,164.9 450.6,164.1 453.4,163.2 456.2,162.4 459.0,161.6 461.7,160.8 464.5,160.0 467.3,159.3 470.0,158.5 472.8,157.9 475.6,157.3 478.4,156.8 481.1,156.3 483.9,155.9 486.7,155.5 489.4,155.2" stroke="#ff8000" stroke-width="2.7" fill="none" stroke-linejoin="round"/>
<path d="M192.9,207.4 195.7,205.3 198.5,203.4 201.3,201.7 204.0,200.3 206.8,198.9 209.6,197.7 212.3,196.7 215.1,195.7 217.9,194.8 220.7,194.0 223.4,193.2 226.2,192.5 229.0,191.9 231.7,191.3 234.5,190.7 237.3,190.2 240.0,189.8 242.8,189.3 245.6,188.9 248.4,188.5 251.1,188.2 253.9,187.8 256.7,187.5 259.4,187.2 262.2,186.9 265.0,186.6 267.8,186.3 270.5,186.1 273.3,185.8 276.1,185.6 278.8,185.3 281.6,185.1 284.4,184.9 287.2,184.7 289.9,184.4 292.7,184.2 295.5,184.0 298.2,183.8 301.0,183.6 303.8,183.3 306.6,183.1 309.3,182.9 312.1,182.6 314.9,182.4 317.6,182.2 320.4,181.9 323.2,181.7 325.9,181.4 328.7,181.1 331.5,180.9 334.3,180.6 337.0,180.3 339.8,180.0 342.6,179.7 345.3,179.3 348.1,179.0 350.9,178.7 353.7,178.3 356.4,178.0 359.2,177.6 362.0,177.3 364.7,176.9 367.5,176.5 370.3,176.2 373.1,175.8 375.8,175.4 378.6,175.0 381.4,174.5 384.1,174.1 386.9,173.7 389.7,173.3 392.5,172.8 395.2,172.4 398.0,171.9 400.8,171.4 403.5,170.9 406.3,170.4 409.1,169.9 411.8,169.4 414.6,168.9 417.4,168.3 420.2,167.8 422.9,167.3 425.7,166.7 428.5,166.2 431.2,165.6 434.0,165.0 436.8,164.4 439.6,163.9 442.3,163.3 445.1,162.6 447.9,162.0 450.6,161.3 453.4,160.5 456.2,159.8 459.0,159.1 461.7,158.4 464.5,157.7 467.3,157.0 470.0,156.3 472.8,155.7 475.6,155.2 478.4,154.7 481.1,154.2 483.9,153.8 486.7,153.4 489.4,153.1 492.2,152.7 495.0,152.3 497.7,152.0 500.5,151.7 503.3,151.3 506.1,151.0 508.8,150.6 511.6,150.3 514.4,149.9 517.1,149.6 519.9,149.2 522.7,148.8 525.5,148.4 528.2,147.9" stroke="#00c000" stroke-width="2.7" fill="none" stroke-linejoin="round"/>
<path d="M204.0,203.1 206.8,202.1 209.6,201.2 212.3,200.4 215.1,199.6 217.9,198.9 220.7,198.2 223.4,197.6 226.2,197.0 229.0,196.4 231.7,195.9 234.5,195.4 237.3,194.9 240.0,194.4 242.8,194.0 245.6,193.6 248.4,193.2 251.1,192.8 253.9,192.5 256.7,192.1 259.4,191.8 262.2,191.4 265.0,191.1 267.8,190.8 270.5,190.5 273.3,190.2 276.1,189.9 278.8,189.6 281.6,189.3 284.4,189.0 287.2,188.7 289.9,188.4 292.7,188.1 295.5,187.9 298.2,187.6 301.0,187.3 303.8,187.0 306.6,186.7 309.3,186.4 312.1,186.1 314.9,185.8 317.6,185.5 320.4,185.2 323.2,184.9 325.9,184.6 328.7,184.2 331.5,183.9 334.3,183.6 337.0,183.2 339.8,182.9 342.6,182.5 345.3,182.2 348.1,181.8 350.9,181.4 353.7,181.1 356.4,180.7 359.2,180.3 362.0,179.9 364.7,179.5 367.5,179.1 370.3,178.7 373.1,178.2 375.8,177.8 378.6,177.4 381.4,176.9 384.1,176.5 386.9,176.0 389.7,175.6 392.5,175.1 395.2,174.6 398.0,174.1 400.8,173.6 403.5,173.1 406.3,172.6 409.1,172.0 411.8,171.5 414.6,170.9 417.4,170.4 420.2,169.8 422.9,169.2 425.7,168.6 428.5,168.1 431.2,167.5 434.0,166.9 436.8,166.3 439.6,165.7 442.3,165.0 445.1,164.3 447.9,163.6 450.6,162.9 453.4,162.1 456.2,161.4 459.0,160.6 461.7,159.8 464.5,159.1 467.3,158.4 470.0,157.7 472.8,157.1 475.6,156.5 478.4,156.0 481.1,155.6 483.9,155.2 486.7,154.8 489.4,154.5 492.2,154.2 495.0,153.9 497.7,153.6 500.5,153.4 503.3,153.1 506.1,152.9 508.8,152.7 511.6,152.5 514.4,152.2 517.1,152.0" stroke="#ff00ff" stroke-width="2.7" fill="none" stroke-linejoin="round"/>
<path d="M195.7,208.7 198.5,207.2 201.3,205.9 204.0,204.7 206.8,203.6 209.6,202.6 212.3,201.7 215.1,200.9 217.9,200.1 220.7,199.4 223.4,198.7 226.2,198.1 229.0,197.5 231.7,196.9 234.5,196.4 237.3,195.9 240.0,195.4 242.8,195.0 245.6,194.5 248.4,194.1 251.1,193.7 253.9,193.4 256.7,193.0 259.4,192.6 262.2,192.3 265.0,191.9 267.8,191.6 270.5,191.3 273.3,191.0 276.1,190.7 278.8,190.3 281.6,190.0 284.4,189.7 287.2,189.4 289.9,189.1 292.7,188.8 295.5,188.5 298.2,188.2 301.0,187.9 303.8,187.6 306.6,187.3 309.3,187.0 312.1,186.7 314.9,186.4 317.6,186.1 320.4,185.8 323.2,185.4 325.9,185.1 328.7,184.8 331.5,184.4 334.3,184.1 337.0,183.8 339.8,183.4 342.6,183.0 345.3,182.7 348.1,182.3 350.9,181.9 353.7,181.5 356.4,181.1 359.2,180.7 362.0,180.3 364.7,179.9 367.5,179.5 370.3,179.1 373.1,178.7 375.8,178.2 378.6,177.8 381.4,177.4 384.1,176.9 386.9,176.4 389.7,176.0 392.5,175.5 395.2,175.0 398.0,174.5 400.8,174.0 403.5,173.5 406.3,172.9 409.1,172.4 411.8,171.8 414.6,171.3 417.4,170.7 420.2,170.1 422.9,169.6 425.7,169.0 428.5,168.4 431.2,167.8 434.0,167.2 436.8,166.6 439.6,166.0 442.3,165.3 445.1,164.6 447.9,163.9 450.6,163.2 453.4,162.4 456.2,161.6 459.0,160.8 461.7,160.1 464.5,159.3 467.3,158.6 470.0,157.9 472.8,157.3 475.6,156.7 478.4,156.2 481.1,155.8 483.9,155.4 486.7,155.1 489.4,154.8 492.2,154.5 495.0,154.2 497.7,153.9 500.5,153.7 503.3,153.5 506.1,153.3 508.8,153.1 511.6,152.9 514.4,152.7 517.1,152.4 519.9,152.2 522.7,152.0 525.5,151.8 528.2,151.6 531.0,151.4 533.8,151.2 536.5,151.0" stroke="#ff2020" stroke-width="2.7" fill="none" stroke-linejoin="round"/>
<path d="M192.9,213.7 195.7,212.0 198.5,210.5 201.3,209.1 204.0,207.9 206.8,206.7 209.6,205.7 212.3,204.7 215.1,203.9 217.9,203.1 220.7,202.3 223.4,201.6 226.2,200.9 229.0,200.3 231.7,199.7 234.5,199.2 237.3,198.7 240.0,198.2 242.8,197.7 245.6,197.2 248.4,196.8 251.1,196.4 253.9,196.0 256.7,195.6 259.4,195.2 262.2,194.8 265.0,194.4 267.8,194.1 270.5,193.7 273.3,193.3 276.1,193.0 278.8,192.6 281.6,192.3 284.4,192.0 287.2,191.6 289.9,191.3 292.7,190.9 295.5,190.6 298.2,190.3 301.0,189.9 303.8,189.6 306.6,189.3 309.3,188.9 312.1,188.6 314.9,188.2 317.6,187.9 320.4,187.5 323.2,187.2 325.9,186.8 328.7,186.4 331.5,186.1 334.3,185.7 337.0,185.3 339.8,185.0 342.6,184.6 345.3,184.2 348.1,183.8 350.9,183.4 353.7,183.0 356.4,182.6 359.2,182.2 362.0,181.7 364.7,181.3 367.5,180.9 370.3,180.4 373.1,180.0 375.8,179.5 378.6,179.1 381.4,178.6 384.1,178.1 386.9,177.7 389.7,177.2 392.5,176.7 395.2,176.2 398.0,175.6 400.8,175.1 403.5,174.6 406.3,174.0 409.1,173.5 411.8,172.9 414.6,172.3 417.4,171.7 420.2,171.1 422.9,170.5 425.7,169.9 428.5,169.3 431.2,168.7 434.0,168.1 436.8,167.4 439.6,166.8 442.3,166.1 445.1,165.4 447.9,164.7 450.6,163.9 453.4,163.1 456.2,162.3 459.0,161.5 461.7,160.7 464.5,159.9 467.3,159.1 470.0,158.4 472.8,157.8 475.6,157.2 478.4,156.6 481.1,156.2 483.9,155.8 486.7,155.4" stroke="#c04000" stroke-width="2.7" fill="none" stroke-linejoin="round"/>
<path d="M192.9,204.5 195.7,203.0 198.5,201.6 201.3,200.4 204.0,199.3 206.8,198.3 209.6,197.4 212.3,196.5 215.1,195.8 217.9,195.0 220.7,194.4 223.4,193.7 226.2,193.2 229.0,192.6 231.7,192.1 234.5,191.6 237.3,191.2 240.0,190.7 242.8,190.3 245.6,190.0 248.4,189.6 251.1,189.2 253.9,188.9 256.7,188.6 259.4,188.3 262.2,188.0 265.0,187.7 267.8,187.5 270.5,187.2 273.3,186.9 276.1,186.7 278.8,186.4 281.6,186.2 284.4,185.9 287.2,185.7 289.9,185.5 292.7,185.2 295.5,185.0 298.2,184.8 301.0,184.5 303.8,184.3 306.6,184.0 309.3,183.8 312.1,183.6 314.9,183.3 317.6,183.0 320.4,182.8 323.2,182.5 325.9,182.2 328.7,182.0 331.5,181.7 334.3,181.4 337.0,181.1 339.8,180.8 342.6,180.4 345.3,180.1 348.1,179.8 350.9,179.4 353.7,179.1 356.4,178.7 359.2,178.4 362.0,178.0 364.7,177.6 367.5,177.2 370.3,176.8 373.1,176.4 375.8,176.0 378.6,175.6 381.4,175.2 384.1,174.8 386.9,174.3 389.7,173.9 392.5,173.5 395.2,173.0 398.0,172.5 400.8,172.0 403.5,171.5 406.3,171.0 409.1,170.5 411.8,170.0 414.6,169.5 417.4,169.0 420.2,168.4 422.9,167.9 425.7,167.3 428.5,166.8 431.2,166.2 434.0,165.6 436.8,165.1 439.6,164.5 442.3,163.9 445.1,163.2 447.9,162.6 450.6,161.9 453.4,161.1 456.2,160.4 459.0,159.7 461.7,159.0 464.5,158.3 467.3,157.6 470.0,156.9 472.8,156.4 475.6,155.8 478.4,155.3 481.1,154.9 483.9,154.6" stroke="#00a000" stroke-width="2.7" fill="none" stroke-linejoin="round"/>
<path d="M192.9,208.1 195.7,206.7 198.5,205.4 201.3,204.3 204.0,203.3 206.8,202.3 209.6,201.5 212.3,200.7 215.1,199.9 217.9,199.2 220.7,198.5 223.4,197.9 226.2,197.4 229.0,196.8 231.7,196.3 234.5,195.8 237.3,195.3 240.0,194.9 242.8,194.5 245.6,194.0 248.4,193.7 251.1,193.3 253.9,192.9 256.7,192.6 259.4,192.2 262.2,191.9 265.0,191.6 267.8,191.2 270.5,190.9 273.3,190.6 276.1,190.3 278.8,190.0 281.6,189.7 284.4,189.4 287.2,189.1 289.9,188.8 292.7,188.5 295.5,188.2 298.2,187.9 301.0,187.6 303.8,187.3 306.6,187.0 309.3,186.7 312.1,186.4 314.9,186.1 317.6,185.8 320.4,185.5 323.2,185.2 325.9,184.9 328.7,184.6 331.5,184.2 334.3,183.9 337.0,183.5 339.8,183.2 342.6,182.8 345.3,182.5 348.1,182.1 350.9,181.7 353.7,181.3 356.4,180.9 359.2,180.6 362.0,180.2 364.7,179.8 367.5,179.3 370.3,178.9 373.1,178.5 375.8,178.1 378.6,177.6 381.4,177.2 384.1,176.7 386.9,176.3 389.7,175.8 392.5,175.3 395.2,174.8 398.0,174.3 400.8,173.8 403.5,173.3 406.3,172.8 409.1,172.3 411.8,171.7 414.6,171.2 417.4,170.6 420.2,170.0 422.9,169.5 425.7,168.9 428.5,168.3 431.2,167.7 434.0,167.1 436.8,166.5 439.6,165.9 442.3,165.3 445.1,164.6 447.9,163.9 450.6,163.1 453.4,162.4 456.2,161.6 459.0,160.8 461.7,160.0 464.5,159.3 467.3,158.6 470.0,157.9 472.8,157.3 475.6,156.7 478.4,156.2 481.1,155.8 483.9,155.5 486.7,155.1 489.4,154.8" stroke="#ff0000" stroke-width="2.7" fill="none" stroke-linejoin="round"/>
<path d="M204.0,210.5 206.8,209.2 209.6,208.0 212.3,206.9 215.1,206.0 217.9,205.0 220.7,204.2 223.4,203.4 226.2,202.7 229.0,202.0 231.7,201.4 234.5,200.8 237.3,200.2 240.0,199.7 242.8,199.2 245.6,198.7 248.4,198.2 251.1,197.8 253.9,197.3 256.7,196.9 259.4,196.5 262.2,196.1 265.0,195.7 267.8,195.3 270.5,194.9 273.3,194.5 276.1,194.2 278.8,193.8 281.6,193.4 284.4,193.1 287.2,192.7 289.9,192.3 292.7,192.0 295.5,191.6 298.2,191.3 301.0,190.9 303.8,190.6 306.6,190.2 309.3,189.8 312.1,189.5 314.9,189.1 317.6,188.8 320.4,188.4 323.2,188.0 325.9,187.6 328.7,187.3 331.5,186.9 334.3,186.5 337.0,186.1 339.8,185.7 342.6,185.3 345.3,184.9 348.1,184.5 350.9,184.1 353.7,183.7 356.4,183.3 359.2,182.8 362.0,182.4 364.7,182.0 367.5,181.5 370.3,181.1 373.1,180.6 375.8,180.2 378.6,179.7 381.4,179.2 384.1,178.7 386.9,178.2 389.7,177.7 392.5,177.2 395.2,176.7 398.0,176.2 400.8,175.6 403.5,175.1 406.3,174.5 409.1,174.0 411.8,173.4 414.6,172.8 417.4,172.2 420.2,171.6 422.9,171.0 425.7,170.3 428.5,169.7 431.2,169.1 434.0,168.4 436.8,167.8 439.6,167.1 442.3,166.4 445.1,165.7 447.9,164.9 450.6,164.1 453.4,163.3 456.2,162.5 459.0,161.6 461.7,160.8 464.5,160.0 467.3,159.3 470.0,158.5 472.8,157.8 475.6,157.2 478.4,156.7 481.1,156.2 483.9,155.8 486.7,155.4 489.4,155.1 492.2,154.7 495.0,154.4 497.7,154.1 500.5,153.8 503.3,153.5 506.1,153.2 508.8,152.9 511.6,152.6 514.4,152.3 517.1,152.0 519.9,151.6 522.7,151.3" stroke="#804000" stroke-width="2.7" fill="none" stroke-linejoin="round"/>
<path d="M195.7,206.3 198.5,204.4 201.3,202.7 204.0,201.2 206.8,199.8 209.6,198.6 212.3,197.5 215.1,196.5 217.9,195.6 220.7,194.7 223.4,194.0 226.2,193.3 229.0,192.6 231.7,192.0 234.5,191.5 237.3,190.9 240.0,190.5 242.8,190.0 245.6,189.6 248.4,189.2 251.1,188.8 253.9,188.5 256.7,188.1 259.4,187.8 262.2,187.5 265.0,187.2 267.8,186.9 270.5,186.7 273.3,186.4 276.1,186.2 278.8,185.9 281.6,185.7 284.4,185.4 287.2,185.2 289.9,185.0 292.7,184.7 295.5,184.5 298.2,184.3 301.0,184.0 303.8,183.8 306.6,183.6 309.3,183.3 312.1,183.1 314.9,182.9 317.6,182.6 320.4,182.4 323.2,182.1 325.9,181.8 328.7,181.5 331.5,181.3 334.3,181.0 337.0,180.7 339.8,180.4 342.6,180.0 345.3,179.7 348.1,179.4 350.9,179.0 353.7,178.7 356.4,178.4 359.2,178.0 362.0,177.6 364.7,177.3 367.5,176.9 370.3,176.5 373.1,176.1 375.8,175.7 378.6,175.3 381.4,174.9 384.1,174.4 386.9,174.0 389.7,173.6 392.5,173.1 395.2,172.7 398.0,172.2 400.8,171.7 403.5,171.2 406.3,170.7 409.1,170.2 411.8,169.7 414.6,169.2 417.4,168.6 420.2,168.1 422.9,167.6 425.7,167.0 428.5,166.4 431.2,165.9 434.0,165.3 436.8,164.7 439.6,164.2 442.3,163.6 445.1,162.9 447.9,162.2 450.6,161.5 453.4,160.8 456.2,160.1 459.0,159.4 461.7,158.6 464.5,157.9 467.3,157.3 470.0,156.6 472.8,156.0 475.6,155.5 478.4,155.0 481.1,154.5 483.9,154.2 486.7,153.8 489.4,153.4 492.2,153.1 495.0,152.8 497.7,152.5 500.5,152.2 503.3,151.9 506.1,151.6 508.8,151.3 511.6,151.0 514.4,150.7 517.1,150.4 519.9,150.1 522.7,149.8" stroke="#006000" stroke-width="2.7" fill="none" stroke-linejoin="round"/>
<path d="M192.9,208.5 195.7,206.7 198.5,205.0 201.3,203.6 204.0,202.3 206.8,201.1 209.6,200.0 212.3,199.1 215.1,198.2 217.9,197.3 220.7,196.6 223.4,195.9 226.2,195.2 229.0,194.6 231.7,194.1 234.5,193.5 237.3,193.0 240.0,192.6 242.8,192.1 245.6,191.7 248.4,191.3 251.1,190.9 253.9,190.6 256.7,190.2 259.4,189.9 262.2,189.6 265.0,189.3 267.8,189.0 270.5,188.7 273.3,188.4 276.1,188.1 278.8,187.8 281.6,187.6 284.4,187.3 287.2,187.0 289.9,186.8 292.7,186.5 295.5,186.3 298.2,186.0 301.0,185.7 303.8,185.5 306.6,185.2 309.3,185.0 312.1,184.7 314.9,184.4 317.6,184.1 320.4,183.8 323.2,183.6 325.9,183.3 328.7,183.0 331.5,182.7 334.3,182.3 337.0,182.0 339.8,181.7 342.6,181.4 345.3,181.0 348.1,180.7 350.9,180.3 353.7,179.9 356.4,179.6 359.2,179.2 362.0,178.8 364.7,178.4 367.5,178.0 370.3,177.6 373.1,177.2 375.8,176.8 378.6,176.4 381.4,176.0 384.1,175.5 386.9,175.1 389.7,174.6 392.5,174.2 395.2,173.7 398.0,173.2 400.8,172.7 403.5,172.2 406.3,171.7 409.1,171.2 411.8,170.6 414.6,170.1 417.4,169.6 420.2,169.0 422.9,168.4 425.7,167.9 428.5,167.3 431.2,166.7 434.0,166.1 436.8,165.5 439.6,165.0 442.3,164.3 445.1,163.7 447.9,163.0 450.6,162.3 453.4,161.5 456.2,160.8 459.0,160.0 461.7,159.3 464.5,158.5 467.3,157.8 470.0,157.2 472.8,156.6 475.6,156.0 478.4,155.5 481.1,155.1 483.9,154.7 486.7,154.3 489.4,154.0 492.2,153.7 495.0,153.4 497.7,153.1 500.5,152.8 503.3,152.6 506.1,152.3 508.8,152.1 511.6,151.8 514.4,151.5 517.1,151.3 519.9,151.0" stroke="#800000" stroke-width="2.7" fill="none" stroke-linejoin="round"/>
<path d="M204.0,204.7 206.8,203.2 209.6,202.0 212.3,200.8 215.1,199.7 217.9,198.8 220.7,197.9 223.4,197.1 226.2,196.3 229.0,195.6 231.7,195.0 234.5,194.4 237.3,193.9 240.0,193.4 242.8,192.9 245.6,192.4 248.4,192.0 251.1,191.6 253.9,191.2 256.7,190.8 259.4,190.5 262.2,190.1 265.0,189.8 267.8,189.5 270.5,189.2 273.3,188.9 276.1,188.6 278.8,188.3 281.6,188.0 284.4,187.8 287.2,187.5 289.9,187.2 292.7,187.0 295.5,186.7 298.2,186.4 301.0,186.1 303.8,185.9 306.6,185.6 309.3,185.3 312.1,185.0 314.9,184.8 317.6,184.5 320.4,184.2 323.2,183.9 325.9,183.6 328.7,183.3 331.5,183.0 334.3,182.7 337.0,182.3 339.8,182.0 342.6,181.7 345.3,181.3 348.1,180.9 350.9,180.6 353.7,180.2 356.4,179.9 359.2,179.5 362.0,179.1 364.7,178.7 367.5,178.3 370.3,177.9 373.1,177.5 375.8,177.1 378.6,176.6 381.4,176.2 384.1,175.8 386.9,175.3 389.7,174.9 392.5,174.4 395.2,173.9 398.0,173.4 400.8,172.9 403.5,172.4 406.3,171.9 409.1,171.4 411.8,170.8 414.6,170.3 417.4,169.7 420.2,169.2 422.9,168.6 425.7,168.0 428.5,167.5 431.2,166.9 434.0,166.3 436.8,165.7 439.6,165.1 442.3,164.5 445.1,163.8 447.9,163.1 450.6,162.4 453.4,161.6 456.2,160.8 459.0,160.1 461.7,159.3 464.5,158.6 467.3,157.9 470.0,157.2 472.8,156.6 475.6,156.0 478.4,155.5 481.1,155.1 483.9,154.7 486.7,154.3 489.4,154.0 492.2,153.7 495.0,153.3 497.7,153.0 500.5,152.8 503.3,152.5 506.1,152.2 508.8,151.9 511.6,151.6 514.4,151.4 517.1,151.1 519.9,150.8 522.7,150.5 525.5,150.1 528.2,149.8 531.0,149.4" stroke="#600000" stroke-width="2.7" fill="none" stroke-linejoin="round"/>
<path d="M192.9,209.7 195.7,207.7 198.5,205.9 201.3,204.3 204.0,202.9 206.8,201.6 209.6,200.5 212.3,199.4 215.1,198.4 217.9,197.6 220.7,196.7 223.4,196.0 226.2,195.3 229.0,194.7 231.7,194.1 234.5,193.5 237.3,193.0 240.0,192.5 242.8,192.1 245.6,191.6 248.4,191.2 251.1,190.8 253.9,190.5 256.7,190.1 259.4,189.8 262.2,189.5 265.0,189.1 267.8,188.8 270.5,188.6 273.3,188.3 276.1,188.0 278.8,187.7 281.6,187.4 284.4,187.2 287.2,186.9 289.9,186.7 292.7,186.4 295.5,186.1 298.2,185.9 301.0,185.6 303.8,185.4 306.6,185.1 309.3,184.8 312.1,184.6 314.9,184.3 317.6,184.0 320.4,183.7 323.2,183.5 325.9,183.2 328.7,182.9 331.5,182.6 334.3,182.2 337.0,181.9 339.8,181.6 342.6,181.3 345.3,180.9 348.1,180.6 350.9,180.2 353.7,179.9 356.4,179.5 359.2,179.1 362.0,178.7 364.7,178.3 367.5,177.9 370.3,177.5 373.1,177.1 375.8,176.7 378.6,176.3 381.4,175.9 384.1,175.4 386.9,175.0 389.7,174.5 392.5,174.1 395.2,173.6 398.0,173.1 400.8,172.6 403.5,172.1 406.3,171.6 409.1,171.1 411.8,170.6 414.6,170.0 417.4,169.5 420.2,168.9 422.9,168.4 425.7,167.8 428.5,167.2 431.2,166.6 434.0,166.1 436.8,165.5 439.6,164.9 442.3,164.3 445.1,163.6 447.9,162.9 450.6,162.2 453.4,161.4 456.2,160.7 459.0,159.9 461.7,159.2 464.5,158.5 467.3,157.8 470.0,157.1 472.8,156.5 475.6,155.9 478.4,155.4 481.1,155.0 483.9,154.6 486.7,154.3 489.4,153.9 492.2,153.6 495.0,153.3 497.7,153.0" stroke="#101010" stroke-width="2.7" fill="none" stroke-linejoin="round"/>
<path d="M201.3,207.1 204.0,205.8 206.8,204.5 209.6,203.4 212.3,202.4 215.1,201.5 217.9,200.6 220.7,199.8 223.4,199.1 226.2,198.4 229.0,197.8 231.7,197.2 234.5,196.6 237.3,196.1 240.0,195.6 242.8,195.1 245.6,194.7 248.4,194.3 251.1,193.9 253.9,193.5 256.7,193.1 259.4,192.7 262.2,192.4 265.0,192.0 267.8,191.7 270.5,191.4 273.3,191.0 276.1,190.7 278.8,190.4 281.6,190.1 284.4,189.8 287.2,189.5 289.9,189.2 292.7,188.9 295.5,188.6 298.2,188.3 301.0,188.0 303.8,187.7 306.6,187.4 309.3,187.1 312.1,186.7 314.9,186.4 317.6,186.1 320.4,185.8 323.2,185.5 325.9,185.1 328.7,184.8 331.5,184.5 334.3,184.1 337.0,183.8 339.8,183.4 342.6,183.1 345.3,182.7 348.1,182.3 350.9,181.9 353.7,181.6 356.4,181.2 359.2,180.8 362.0,180.4 364.7,180.0 367.5,179.5 370.3,179.1 373.1,178.7 375.8,178.2 378.6,177.8 381.4,177.4 384.1,176.9 386.9,176.4 389.7,176.0 392.5,175.5 395.2,175.0 398.0,174.5 400.8,174.0 403.5,173.4 406.3,172.9 409.1,172.4 411.8,171.8 414.6,171.2 417.4,170.7 420.2,170.1 422.9,169.5 425.7,168.9 428.5,168.3 431.2,167.7 434.0,167.1 436.8,166.5 439.6,165.9 442.3,165.2 445.1,164.5 447.9,163.8 450.6,163.0 453.4,162.3 456.2,161.5 459.0,160.7 461.7,159.9 464.5,159.1 467.3,158.4 470.0,157.7 472.8,157.1 475.6,156.5 478.4,156.0 481.1,155.5 483.9,155.1 486.7,154.8 489.4,154.4 492.2,154.1 495.0,153.8 497.7,153.5 500.5,153.2 503.3,152.9" stroke="#000000" stroke-width="2.7" fill="none" stroke-linejoin="round"/>
<path d="M195.7,212.5 198.5,210.4 201.3,208.6 204.0,206.9 206.8,205.4 209.6,204.1 212.3,202.8 215.1,201.7 217.9,200.7 220.7,199.8 223.4,199.0 226.2,198.2 229.0,197.5 231.7,196.8 234.5,196.2 237.3,195.6 240.0,195.1 242.8,194.6 245.6,194.1 248.4,193.7 251.1,193.2 253.9,192.8 256.7,192.5 259.4,192.1 262.2,191.7 265.0,191.4 267.8,191.0 270.5,190.7 273.3,190.4 276.1,190.1 278.8,189.8 281.6,189.5 284.4,189.1 287.2,188.9 289.9,188.6 292.7,188.3 295.5,188.0 298.2,187.7 301.0,187.4 303.8,187.1 306.6,186.8 309.3,186.5 312.1,186.2 314.9,185.9 317.6,185.6 320.4,185.3 323.2,185.0 325.9,184.6 328.7,184.3 331.5,184.0 334.3,183.6 337.0,183.3 339.8,183.0 342.6,182.6 345.3,182.2 348.1,181.9 350.9,181.5 353.7,181.1 356.4,180.7 359.2,180.3 362.0,179.9 364.7,179.5 367.5,179.1 370.3,178.7 373.1,178.3 375.8,177.8 378.6,177.4 381.4,177.0 384.1,176.5 386.9,176.0 389.7,175.6 392.5,175.1 395.2,174.6 398.0,174.1 400.8,173.6 403.5,173.1 406.3,172.5 409.1,172.0 411.8,171.4 414.6,170.9 417.4,170.3 420.2,169.7 422.9,169.2 425.7,168.6 428.5,168.0 431.2,167.4 434.0,166.7 436.8,166.1 439.6,165.5 442.3,164.9 445.1,164.2 447.9,163.4 450.6,162.7 453.4,161.9 456.2,161.1 459.0,160.3 461.7,159.6 464.5,158.8 467.3,158.1 470.0,157.4 472.8,156.7 475.6,156.1 478.4,155.6 481.1,155.2 483.9,154.7 486.7,154.3 489.4,153.9 492.2,153.6 495.0,153.2 497.7,152.9 500.5,152.5 503.3,152.2 506.1,151.9 508.8,151.5 511.6,151.1 514.4,150.8 517.1,150.4 519.9,150.0 522.7,149.6 525.5,149.1 528.2,148.6 531.0,148.1 533.8,147.5 536.5,146.9 539.3,146.3" stroke="#80c0ff" stroke-width="2.7" fill="none" stroke-linejoin="round"/>
<path d="M198.5,204.8 201.3,203.5 204.0,202.4 206.8,201.3 209.6,200.4 212.3,199.5 215.1,198.7 217.9,197.9 220.7,197.2 223.4,196.6 226.2,196.0 229.0,195.4 231.7,194.9 234.5,194.4 237.3,193.9 240.0,193.4 242.8,193.0 245.6,192.6 248.4,192.2 251.1,191.8 253.9,191.5 256.7,191.1 259.4,190.8 262.2,190.5 265.0,190.2 267.8,189.9 270.5,189.6 273.3,189.3 276.1,189.0 278.8,188.7 281.6,188.4 284.4,188.1 287.2,187.9 289.9,187.6 292.7,187.3 295.5,187.0 298.2,186.8 301.0,186.5 303.8,186.2 306.6,185.9 309.3,185.7 312.1,185.4 314.9,185.1 317.6,184.8 320.4,184.5 323.2,184.2 325.9,183.9 328.7,183.6 331.5,183.3 334.3,183.0 337.0,182.6 339.8,182.3 342.6,181.9 345.3,181.6 348.1,181.2 350.9,180.9 353.7,180.5 356.4,180.1 359.2,179.7 362.0,179.3 364.7,179.0 367.5,178.5 370.3,178.1 373.1,177.7 375.8,177.3 378.6,176.9 381.4,176.4 384.1,176.0 386.9,175.5 389.7,175.1 392.5,174.6 395.2,174.1 398.0,173.7 400.8,173.2 403.5,172.6 406.3,172.1 409.1,171.6 411.8,171.1 414.6,170.5 417.4,170.0 420.2,169.4 422.9,168.8 425.7,168.3 428.5,167.7 431.2,167.1 434.0,166.5 436.8,165.9 439.6,165.3 442.3,164.7 445.1,164.0 447.9,163.3 450.6,162.6 453.4,161.8 456.2,161.1 459.0,160.3 461.7,159.6 464.5,158.8 467.3,158.1 470.0,157.5 472.8,156.8 475.6,156.3 478.4,155.8 481.1,155.4 483.9,155.0 486.7,154.6 489.4,154.3" stroke="#9000ff" stroke-width="2.7" fill="none" stroke-linejoin="round"/>
<path d="M192.9,211.8 195.7,209.9 198.5,208.2 201.3,206.6 204.0,205.2 206.8,204.0 209.6,202.9 212.3,201.8 215.1,200.9 217.9,200.0 220.7,199.2 223.4,198.5 226.2,197.8 229.0,197.2 231.7,196.6 234.5,196.0 237.3,195.5 240.0,195.0 242.8,194.5 245.6,194.1 248.4,193.6 251.1,193.2 253.9,192.9 256.7,192.5 259.4,192.1 262.2,191.8 265.0,191.4 267.8,191.1 270.5,190.8 273.3,190.5 276.1,190.2 278.8,189.8 281.6,189.5 284.4,189.2 287.2,188.9 289.9,188.7 292.7,188.4 295.5,188.1 298.2,187.8 301.0,187.5 303.8,187.2 306.6,186.9 309.3,186.6 312.1,186.3 314.9,186.0 317.6,185.7 320.4,185.4 323.2,185.1 325.9,184.7 328.7,184.4 331.5,184.1 334.3,183.7 337.0,183.4 339.8,183.0 342.6,182.7 345.3,182.3 348.1,182.0 350.9,181.6 353.7,181.2 356.4,180.8 359.2,180.4 362.0,180.0 364.7,179.6 367.5,179.2 370.3,178.8 373.1,178.4 375.8,177.9 378.6,177.5 381.4,177.0 384.1,176.6 386.9,176.1 389.7,175.7 392.5,175.2 395.2,174.7 398.0,174.2 400.8,173.7 403.5,173.2 406.3,172.6 409.1,172.1 411.8,171.5 414.6,171.0 417.4,170.4 420.2,169.8 422.9,169.3 425.7,168.7 428.5,168.1 431.2,167.5 434.0,166.9 436.8,166.3 439.6,165.6 442.3,165.0 445.1,164.3 447.9,163.6 450.6,162.8 453.4,162.1 456.2,161.3 459.0,160.5 461.7,159.7 464.5,159.0 467.3,158.3 470.0,157.6 472.8,156.9 475.6,156.4 478.4,155.8 481.1,155.4 483.9,155.0 486.7,154.6 489.4,154.3 492.2,153.9 495.0,153.6 497.7,153.3 500.5,153.0 503.3,152.7 506.1,152.4 508.8,152.1 511.6,151.8" stroke="#2020c0" stroke-width="2.7" fill="none" stroke-linejoin="round"/>
<path d="M190.2,214.5 192.9,212.1 195.7,210.1 198.5,208.2 201.3,206.6 204.0,205.1 206.8,203.8 209.6,202.6 212.3,201.5 215.1,200.5 217.9,199.6 220.7,198.8 223.4,198.0 226.2,197.3 229.0,196.6 231.7,196.0 234.5,195.4 237.3,194.9 240.0,194.4 242.8,193.9 245.6,193.5 248.4,193.0 251.1,192.6 253.9,192.3 256.7,191.9 259.4,191.5 262.2,191.2 265.0,190.8 267.8,190.5 270.5,190.2 273.3,189.9 276.1,189.6 278.8,189.3 281.6,189.0 284.4,188.7 287.2,188.4 289.9,188.1 292.7,187.8 295.5,187.6 298.2,187.3 301.0,187.0 303.8,186.7 306.6,186.4 309.3,186.1 312.1,185.8 314.9,185.5 317.6,185.2 320.4,184.9 323.2,184.6 325.9,184.3 328.7,184.0 331.5,183.7 334.3,183.3 337.0,183.0 339.8,182.7 342.6,182.3 345.3,181.9 348.1,181.6 350.9,181.2 353.7,180.8 356.4,180.5 359.2,180.1 362.0,179.7 364.7,179.3 367.5,178.9 370.3,178.5 373.1,178.0 375.8,177.6 378.6,177.2 381.4,176.7 384.1,176.3 386.9,175.8 389.7,175.4 392.5,174.9 395.2,174.4 398.0,173.9 400.8,173.4 403.5,172.9 406.3,172.3 409.1,171.8 411.8,171.3 414.6,170.7 417.4,170.1 420.2,169.6 422.9,169.0 425.7,168.4 428.5,167.8 431.2,167.2 434.0,166.6 436.8,166.0 439.6,165.4 442.3,164.8 445.1,164.1 447.9,163.4 450.6,162.6 453.4,161.9 456.2,161.1 459.0,160.3 461.7,159.5 464.5,158.8 467.3,158.1 470.0,157.4 472.8,156.7 475.6,156.2 478.4,155.6 481.1,155.2 483.9,154.8 486.7,154.4 489.4,154.0" stroke="#500080" stroke-width="2.7" fill="none" stroke-linejoin="round"/>
<path d="M204.0,202.5 206.8,201.5 209.6,200.7 212.3,199.8 215.1,199.1 217.9,198.4 220.7,197.7 223.4,197.1 226.2,196.5 229.0,195.9 231.7,195.4 234.5,194.9 237.3,194.5 240.0,194.0 242.8,193.6 245.6,193.2 248.4,192.8 251.1,192.4 253.9,192.1 256.7,191.7 259.4,191.4 262.2,191.1 265.0,190.7 267.8,190.4 270.5,190.1 273.3,189.8 276.1,189.5 278.8,189.2 281.6,189.0 284.4,188.7 287.2,188.4 289.9,188.1 292.7,187.8 295.5,187.5 298.2,187.3 301.0,187.0 303.8,186.7 306.6,186.4 309.3,186.1 312.1,185.8 314.9,185.5 317.6,185.2 320.4,184.9 323.2,184.6 325.9,184.3 328.7,184.0 331.5,183.7 334.3,183.3 337.0,183.0 339.8,182.7 342.6,182.3 345.3,182.0 348.1,181.6 350.9,181.2 353.7,180.9 356.4,180.5 359.2,180.1 362.0,179.7 364.7,179.3 367.5,178.9 370.3,178.5 373.1,178.1 375.8,177.6 378.6,177.2 381.4,176.8 384.1,176.3 386.9,175.9 389.7,175.4 392.5,174.9 395.2,174.4 398.0,174.0 400.8,173.5 403.5,172.9 406.3,172.4 409.1,171.9 411.8,171.4 414.6,170.8 417.4,170.2 420.2,169.7 422.9,169.1 425.7,168.5 428.5,168.0 431.2,167.4 434.0,166.8 436.8,166.2 439.6,165.6 442.3,165.0 445.1,164.3 447.9,163.6 450.6,162.8 453.4,162.1 456.2,161.3 459.0,160.6 461.7,159.8 464.5,159.1 467.3,158.4 470.0,157.7 472.8,157.1 475.6,156.5 478.4,156.0 481.1,155.6 483.9,155.2 486.7,154.9 489.4,154.6 492.2,154.3 495.0,154.0 497.7,153.8 500.5,153.6 503.3,153.4 506.1,153.2 508.8,153.0 511.6,152.8" stroke="#0000ff" stroke-width="2.7" fill="none" stroke-linejoin="round"/>
<path d="M231.8,222.4 228.4,222.3 224.9,222.2 221.5,222.1 218.1,222.0 214.7,222.0 211.3,221.9 207.9,221.8 204.5,221.8 201.1,221.7 197.7,221.7 194.3,221.7 190.9,221.7 187.5,221.8 184.1,221.8 180.7,221.9 177.3,222.1 173.9,222.2 170.5,222.3 167.1,222.5 163.6,222.7" stroke="#1010ff" stroke-width="2.6" fill="none" stroke-linejoin="round"/>
<path d="M163.6,418.4 164.0,401.9 164.4,385.4 164.8,370.2 165.2,356.5 165.6,344.3 166.0,333.4 166.4,323.9 166.7,315.4 167.1,308.0 167.5,301.5 167.9,295.8 168.3,290.7 168.7,286.2 169.1,282.3 169.4,278.7 169.8,275.6 170.2,272.8 170.6,270.2 171.0,267.9 171.4,265.8 171.8,263.9 172.1,262.1 172.5,260.5 172.9,259.0 173.3,257.6 173.7,256.3 174.1,255.0 174.5,253.8 174.8,252.7 175.2,251.6 175.6,250.6 176.0,249.6 176.4,248.6 176.8,247.7 177.2,246.8 177.6,245.9 177.9,245.0 178.3,244.2 178.7,243.4 179.1,242.6 181.9,237.5 184.6,233.1 187.4,229.2 190.2,225.8 192.9,222.8 195.7,220.1 198.5,217.8 201.3,215.7 204.0,213.8" stroke="#ff9900" stroke-width="2.7" fill="none" stroke-linejoin="round"/>
<path d="M163.6,409.7 164.0,393.9 164.4,378.1 164.8,363.5 165.2,350.4 165.6,338.7 166.0,328.3 166.4,319.2 166.7,311.1 167.1,304.0 167.5,297.7 167.9,292.2 168.3,287.4 168.7,283.1 169.1,279.2 169.4,275.8 169.8,272.8 170.2,270.1 170.6,267.6 171.0,265.4 171.4,263.4 171.8,261.5 172.1,259.8 172.5,258.2 172.9,256.8 173.3,255.4 173.7,254.1 174.1,252.9 174.5,251.7 174.8,250.6 175.2,249.6 175.6,248.6 176.0,247.6 176.4,246.6 176.8,245.7 177.2,244.9 177.6,244.0 177.9,243.2 178.3,242.4 178.7,241.6 179.1,240.8 181.9,235.8 184.6,231.5 187.4,227.7 190.2,224.3 192.9,221.4 195.7,218.8 198.5,216.5 201.3,214.5" stroke="#ffd000" stroke-width="2.7" fill="none" stroke-linejoin="round"/>
<path d="M163.6,398.8 164.0,383.9 164.4,368.9 164.8,355.0 165.2,342.6 165.6,331.5 166.0,321.6 166.4,312.9 166.7,305.2 167.1,298.5 167.5,292.5 167.9,287.3 168.3,282.7 168.7,278.6 169.1,274.9 169.4,271.7 169.8,268.8 170.2,266.2 170.6,263.8 171.0,261.7 171.4,259.7 171.8,258.0 172.1,256.3 172.5,254.8 172.9,253.4 173.3,252.0 173.7,250.8 174.1,249.6 174.5,248.5 174.8,247.4 175.2,246.4 175.6,245.4 176.0,244.5 176.4,243.6 176.8,242.7 177.2,241.8 177.6,241.0 177.9,240.2 178.3,239.4 178.7,238.7 179.1,237.9 181.9,233.0 184.6,228.8 187.4,225.1 190.2,221.9 192.9,219.0 195.7,216.5 198.5,214.3 201.3,212.3 204.0,210.5 206.8,208.9 209.6,207.5" stroke="#a0a0a0" stroke-width="2.7" fill="none" stroke-linejoin="round"/>
<path d="M163.6,392.4 164.0,376.8 164.4,361.2 164.8,346.9 165.2,333.9 165.6,322.4 166.0,312.1 166.4,303.1 166.7,295.2 167.1,288.2 167.5,282.0 167.9,276.6 168.3,271.9 168.7,267.6 169.1,263.9 169.4,260.6 169.8,257.6 170.2,255.0 170.6,252.6 171.0,250.4 171.4,248.5 171.8,246.7 172.1,245.0 172.5,243.5 172.9,242.1 173.3,240.8 173.7,239.5 174.1,238.3 174.5,237.2 174.8,236.2 175.2,235.2 175.6,234.2 176.0,233.3 176.4,232.4 176.8,231.5 177.2,230.7 177.6,229.9 177.9,229.1 178.3,228.3 178.7,227.5 179.1,226.8 181.9,222.1 184.6,217.9 187.4,214.3 190.2,211.2 192.9,208.4 195.7,206.0" stroke="#b0b040" stroke-width="2.7" fill="none" stroke-linejoin="round"/>
<path d="M163.6,384.0 164.0,370.8 164.4,357.7 164.8,345.6 165.2,334.6 165.6,324.9 166.0,316.2 166.4,308.5 166.7,301.7 167.1,295.8 167.5,290.5 167.9,285.8 168.3,281.7 168.7,278.0 169.1,274.7 169.4,271.8 169.8,269.2 170.2,266.8 170.6,264.7 171.0,262.7 171.4,260.9 171.8,259.3 172.1,257.8 172.5,256.4 172.9,255.0 173.3,253.8 173.7,252.6 174.1,251.5 174.5,250.4 174.8,249.4 175.2,248.5 175.6,247.5 176.0,246.6 176.4,245.8 176.8,244.9 177.2,244.1 177.6,243.3 177.9,242.5 178.3,241.8 178.7,241.0 179.1,240.3 181.9,235.6 184.6,231.5 187.4,228.0 190.2,224.8 192.9,222.1" stroke="#c0a060" stroke-width="2.7" fill="none" stroke-linejoin="round"/>
<path d="M163.6,375.6 164.0,362.5 164.4,349.3 164.8,337.2 165.2,326.3 165.6,316.5 166.0,307.8 166.4,300.2 166.7,293.4 167.1,287.4 167.5,282.2 167.9,277.5 168.3,273.4 168.7,269.7 169.1,266.5 169.4,263.6 169.8,261.0 170.2,258.6 170.6,256.5 171.0,254.6 171.4,252.8 171.8,251.2 172.1,249.7 172.5,248.3 172.9,247.0 173.3,245.8 173.7,244.6 174.1,243.5 174.5,242.5 174.8,241.5 175.2,240.6 175.6,239.7 176.0,238.8 176.4,237.9 176.8,237.1 177.2,236.3 177.6,235.5 177.9,234.8 178.3,234.1 178.7,233.3 179.1,232.7 181.9,228.1 184.6,224.1 187.4,220.6 190.2,217.6 192.9,214.9 195.7,212.5 198.5,210.4" stroke="#80c0ff" stroke-width="2.7" fill="none" stroke-linejoin="round"/>
<path d="M163.6,367.4 164.0,354.3 164.4,341.2 164.8,329.0 165.2,318.1 165.6,308.4 166.0,299.7 166.4,292.1 166.7,285.3 167.1,279.4 167.5,274.1 167.9,269.5 168.3,265.4 168.7,261.8 169.1,258.5 169.4,255.7 169.8,253.1 170.2,250.8 170.6,248.7 171.0,246.8 171.4,245.0 171.8,243.4 172.1,242.0 172.5,240.6 172.9,239.3 173.3,238.1 173.7,237.0 174.1,235.9 174.5,234.9 174.8,233.9 175.2,233.0 175.6,232.1 176.0,231.3 176.4,230.4 176.8,229.6 177.2,228.9 177.6,228.1 177.9,227.4 178.3,226.7 178.7,226.0 179.1,225.3 181.9,220.8 184.6,217.0 187.4,213.6 190.2,210.7 192.9,208.1 195.7,205.8 198.5,203.7 201.3,201.9 204.0,200.3" stroke="#40ff40" stroke-width="2.7" fill="none" stroke-linejoin="round"/>
<path d="M163.6,359.4 164.0,347.5 164.4,335.7 164.8,324.8 165.2,314.9 165.6,306.1 166.0,298.3 166.4,291.4 166.7,285.2 167.1,279.8 167.5,275.0 167.9,270.8 168.3,267.1 168.7,263.7 169.1,260.8 169.4,258.1 169.8,255.7 170.2,253.6 170.6,251.6 171.0,249.8 171.4,248.2 171.8,246.7 172.1,245.3 172.5,244.0 172.9,242.8 173.3,241.6 173.7,240.6 174.1,239.5 174.5,238.6 174.8,237.6 175.2,236.7 175.6,235.9 176.0,235.0 176.4,234.2 176.8,233.5 177.2,232.7 177.6,232.0 177.9,231.3 178.3,230.6 178.7,229.9 179.1,229.2 181.9,224.9 184.6,221.1 187.4,217.8 190.2,214.9 192.9,212.3 195.7,210.1 198.5,208.0 201.3,206.3 204.0,204.7 206.8,203.2" stroke="#600000" stroke-width="2.7" fill="none" stroke-linejoin="round"/>
<path d="M163.6,351.4 164.0,340.3 164.4,329.2 164.8,319.0 165.2,309.8 165.6,301.5 166.0,294.2 166.4,287.6 166.7,281.9 167.1,276.8 167.5,272.3 167.9,268.3 168.3,264.8 168.7,261.6 169.1,258.8 169.4,256.3 169.8,254.0 170.2,252.0 170.6,250.1 171.0,248.4 171.4,246.8 171.8,245.4 172.1,244.1 172.5,242.8 172.9,241.6 173.3,240.5 173.7,239.5 174.1,238.5 174.5,237.6 174.8,236.7 175.2,235.8 175.6,234.9 176.0,234.1 176.4,233.4 176.8,232.6 177.2,231.9 177.6,231.2 177.9,230.5 178.3,229.8 178.7,229.1 179.1,228.5 181.9,224.2 184.6,220.5 187.4,217.3 190.2,214.5 192.9,212.0 195.7,209.8 198.5,207.8 201.3,206.0" stroke="#40c0c0" stroke-width="2.7" fill="none" stroke-linejoin="round"/>
<path d="M163.6,343.6 164.0,332.9 164.4,322.1 164.8,312.2 165.2,303.3 165.6,295.3 166.0,288.2 166.4,281.9 166.7,276.3 167.1,271.4 167.5,267.0 167.9,263.2 168.3,259.7 168.7,256.7 169.1,254.0 169.4,251.5 169.8,249.3 170.2,247.3 170.6,245.5 171.0,243.9 171.4,242.3 171.8,240.9 172.1,239.6 172.5,238.4 172.9,237.3 173.3,236.2 173.7,235.2 174.1,234.2 174.5,233.3 174.8,232.5 175.2,231.6 175.6,230.8 176.0,230.0 176.4,229.3 176.8,228.5 177.2,227.8 177.6,227.1 177.9,226.4 178.3,225.8 178.7,225.1 179.1,224.5 181.9,220.4 184.6,216.8 187.4,213.6 190.2,210.9 192.9,208.5 195.7,206.3 198.5,204.4" stroke="#006000" stroke-width="2.7" fill="none" stroke-linejoin="round"/>
<path d="M163.6,336.0 164.0,325.9 164.4,315.7 164.8,306.4 165.2,298.0 165.6,290.4 166.0,283.7 166.4,277.8 166.7,272.5 167.1,267.9 167.5,263.7 167.9,260.1 168.3,256.8 168.7,253.9 169.1,251.3 169.4,249.0 169.8,246.9 170.2,245.0 170.6,243.3 171.0,241.7 171.4,240.2 171.8,238.9 172.1,237.7 172.5,236.5 172.9,235.4 173.3,234.4 173.7,233.4 174.1,232.4 174.5,231.6 174.8,230.7 175.2,229.9 175.6,229.1 176.0,228.3 176.4,227.6 176.8,226.9 177.2,226.2 177.6,225.5 177.9,224.9 178.3,224.2 178.7,223.6 179.1,223.0 181.9,219.0 184.6,215.5 187.4,212.4 190.2,209.7 192.9,207.4 195.7,205.3" stroke="#00c000" stroke-width="2.7" fill="none" stroke-linejoin="round"/>
<path d="M163.6,328.4 164.0,319.7 164.4,310.8 164.8,302.7 165.2,295.4 165.6,288.8 166.0,282.9 166.4,277.7 166.7,273.0 167.1,268.9 167.5,265.2 167.9,262.0 168.3,259.1 168.7,256.5 169.1,254.1 169.4,252.0 169.8,250.1 170.2,248.4 170.6,246.8 171.0,245.3 171.4,244.0 171.8,242.7 172.1,241.6 172.5,240.5 172.9,239.4 173.3,238.5 173.7,237.5 174.1,236.6 174.5,235.8 174.8,235.0 175.2,234.2 175.6,233.4 176.0,232.7 176.4,232.0 176.8,231.3 177.2,230.6 177.6,230.0 177.9,229.3 178.3,228.7 178.7,228.1 179.1,227.5 181.9,223.6 184.6,220.1 187.4,217.1 190.2,214.5 192.9,212.1" stroke="#500080" stroke-width="2.7" fill="none" stroke-linejoin="round"/>
<path d="M163.6,321.1 164.0,312.7 164.4,304.4 164.8,296.6 165.2,289.6 165.6,283.4 166.0,277.8 166.4,272.8 166.7,268.4 167.1,264.4 167.5,261.0 167.9,257.8 168.3,255.1 168.7,252.6 169.1,250.3 169.4,248.3 169.8,246.5 170.2,244.8 170.6,243.3 171.0,241.9 171.4,240.6 171.8,239.4 172.1,238.3 172.5,237.2 172.9,236.2 173.3,235.3 173.7,234.4 174.1,233.5 174.5,232.7 174.8,231.9 175.2,231.1 175.6,230.4 176.0,229.7 176.4,229.0 176.8,228.3 177.2,227.7 177.6,227.0 177.9,226.4 178.3,225.8 178.7,225.2 179.1,224.6 181.9,220.8 184.6,217.5 187.4,214.6 190.2,212.0 192.9,209.7 195.7,207.7" stroke="#101010" stroke-width="2.7" fill="none" stroke-linejoin="round"/>
<path d="M163.6,313.9 164.0,307.2 164.4,300.4 164.8,294.1 165.2,288.4 165.6,283.3 166.0,278.7 166.4,274.6 166.7,271.0 167.1,267.7 167.5,264.8 167.9,262.2 168.3,259.8 168.7,257.7 169.1,255.7 169.4,254.0 169.8,252.4 170.2,250.9 170.6,249.6 171.0,248.3 171.4,247.1 171.8,246.0 172.1,245.0 172.5,244.0 172.9,243.1 173.3,242.2 173.7,241.3 174.1,240.5 174.5,239.7 174.8,239.0 175.2,238.3 175.6,237.6 176.0,236.9 176.4,236.2 176.8,235.6 177.2,234.9 177.6,234.3 177.9,233.7 178.3,233.1 178.7,232.5 179.1,232.0 181.9,228.2 184.6,225.0 187.4,222.1 190.2,219.6 192.9,217.3 195.7,215.3 198.5,213.5 201.3,211.9 204.0,210.5 206.8,209.2" stroke="#804000" stroke-width="2.7" fill="none" stroke-linejoin="round"/>
<path d="M163.6,306.9 164.0,300.2 164.4,293.4 164.8,287.2 165.2,281.5 165.6,276.4 166.0,271.9 166.4,267.8 166.7,264.2 167.1,261.0 167.5,258.1 167.9,255.5 168.3,253.1 168.7,251.0 169.1,249.1 169.4,247.4 169.8,245.8 170.2,244.4 170.6,243.1 171.0,241.8 171.4,240.7 171.8,239.6 172.1,238.6 172.5,237.6 172.9,236.7 173.3,235.9 173.7,235.0 174.1,234.2 174.5,233.5 174.8,232.8 175.2,232.0 175.6,231.4 176.0,230.7 176.4,230.0 176.8,229.4 177.2,228.8 177.6,228.2 177.9,227.6 178.3,227.1 178.7,226.5 179.1,226.0 181.9,222.3 184.6,219.2 187.4,216.4 190.2,214.0 192.9,211.8 195.7,209.9" stroke="#2020c0" stroke-width="2.7" fill="none" stroke-linejoin="round"/>
<path d="M163.6,300.1 164.0,294.1 164.4,288.0 164.8,282.4 165.2,277.4 165.6,272.8 166.0,268.7 166.4,265.0 166.7,261.7 167.1,258.8 167.5,256.1 167.9,253.8 168.3,251.6 168.7,249.7 169.1,248.0 169.4,246.4 169.8,244.9 170.2,243.6 170.6,242.3 171.0,241.1 171.4,240.1 171.8,239.1 172.1,238.1 172.5,237.2 172.9,236.3 173.3,235.5 173.7,234.7 174.1,234.0 174.5,233.2 174.8,232.5 175.2,231.8 175.6,231.2 176.0,230.5 176.4,229.9 176.8,229.3 177.2,228.7 177.6,228.1 177.9,227.6 178.3,227.0 178.7,226.5 179.1,225.9 181.9,222.4 184.6,219.4 187.4,216.7 190.2,214.3 192.9,212.2 195.7,210.3 198.5,208.6 201.3,207.1 204.0,205.8" stroke="#000000" stroke-width="2.7" fill="none" stroke-linejoin="round"/>
<path d="M163.6,293.5 164.0,287.7 164.4,281.8 164.8,276.4 165.2,271.5 165.6,267.1 166.0,263.1 166.4,259.5 166.7,256.4 167.1,253.5 167.5,251.0 167.9,248.7 168.3,246.6 168.7,244.8 169.1,243.1 169.4,241.5 169.8,240.1 170.2,238.8 170.6,237.6 171.0,236.5 171.4,235.4 171.8,234.5 172.1,233.5 172.5,232.7 172.9,231.8 173.3,231.0 173.7,230.3 174.1,229.5 174.5,228.8 174.8,228.1 175.2,227.5 175.6,226.8 176.0,226.2 176.4,225.6 176.8,225.0 177.2,224.5 177.6,223.9 177.9,223.3 178.3,222.8 178.7,222.3 179.1,221.8 181.9,218.4 184.6,215.4 187.4,212.8 190.2,210.5 192.9,208.5 195.7,206.7" stroke="#800000" stroke-width="2.7" fill="none" stroke-linejoin="round"/>
<path d="M163.6,287.1 164.0,282.0 164.4,276.9 164.8,272.2 165.2,267.9 165.6,264.0 166.0,260.6 166.4,257.4 166.7,254.6 167.1,252.1 167.5,249.8 167.9,247.8 168.3,245.9 168.7,244.2 169.1,242.7 169.4,241.3 169.8,240.0 170.2,238.8 170.6,237.7 171.0,236.6 171.4,235.7 171.8,234.7 172.1,233.9 172.5,233.0 172.9,232.3 173.3,231.5 173.7,230.8 174.1,230.1 174.5,229.4 174.8,228.7 175.2,228.1 175.6,227.5 176.0,226.9 176.4,226.3 176.8,225.8 177.2,225.2 177.6,224.7 177.9,224.1 178.3,223.6 178.7,223.1 179.1,222.6 181.9,219.3 184.6,216.4 187.4,213.9 190.2,211.7 192.9,209.7 195.7,207.9 198.5,206.3 201.3,204.9" stroke="#ff70b0" stroke-width="2.7" fill="none" stroke-linejoin="round"/>
<path d="M163.6,280.9 164.0,277.0 164.4,273.1 164.8,269.5 165.2,266.2 165.6,263.2 166.0,260.4 166.4,258.0 166.7,255.7 167.1,253.7 167.5,251.9 167.9,250.2 168.3,248.6 168.7,247.2 169.1,245.9 169.4,244.7 169.8,243.6 170.2,242.6 170.6,241.6 171.0,240.6 171.4,239.8 171.8,238.9 172.1,238.1 172.5,237.4 172.9,236.6 173.3,235.9 173.7,235.2 174.1,234.6 174.5,233.9 174.8,233.3 175.2,232.7 175.6,232.1 176.0,231.6 176.4,231.0 176.8,230.5 177.2,229.9 177.6,229.4 177.9,228.9 178.3,228.4 178.7,227.9 179.1,227.4 181.9,224.2 184.6,221.4 187.4,218.9 190.2,216.7 192.9,214.8 195.7,213.0 198.5,211.5 201.3,210.1 204.0,208.8 206.8,207.6" stroke="#ff8000" stroke-width="2.7" fill="none" stroke-linejoin="round"/>
<path d="M163.6,275.0 164.0,271.6 164.4,268.1 164.8,264.9 165.2,261.9 165.6,259.2 166.0,256.7 166.4,254.5 166.7,252.5 167.1,250.6 167.5,248.9 167.9,247.4 168.3,246.0 168.7,244.7 169.1,243.5 169.4,242.4 169.8,241.3 170.2,240.4 170.6,239.4 171.0,238.6 171.4,237.7 171.8,236.9 172.1,236.2 172.5,235.5 172.9,234.8 173.3,234.1 173.7,233.4 174.1,232.8 174.5,232.2 174.8,231.6 175.2,231.0 175.6,230.4 176.0,229.9 176.4,229.4 176.8,228.8 177.2,228.3 177.6,227.8 177.9,227.3 178.3,226.8 178.7,226.4 179.1,225.9 181.9,222.8 184.6,220.1 187.4,217.7 190.2,215.6 192.9,213.7 195.7,212.0" stroke="#c04000" stroke-width="2.7" fill="none" stroke-linejoin="round"/>
<path d="M163.6,269.4 164.0,266.1 164.4,262.7 164.8,259.6 165.2,256.7 165.6,254.1 166.0,251.8 166.4,249.6 166.7,247.7 167.1,245.9 167.5,244.3 167.9,242.8 168.3,241.4 168.7,240.2 169.1,239.0 169.4,237.9 169.8,236.9 170.2,236.0 170.6,235.1 171.0,234.3 171.4,233.5 171.8,232.7 172.1,232.0 172.5,231.3 172.9,230.6 173.3,229.9 173.7,229.3 174.1,228.7 174.5,228.1 174.8,227.6 175.2,227.0 175.6,226.5 176.0,225.9 176.4,225.4 176.8,224.9 177.2,224.4 177.6,223.9 177.9,223.4 178.3,223.0 178.7,222.5 179.1,222.1 181.9,219.1 184.6,216.5 187.4,214.2 190.2,212.1 192.9,210.3 195.7,208.7 198.5,207.2" stroke="#ff2020" stroke-width="2.7" fill="none" stroke-linejoin="round"/>
<path d="M163.6,264.1 164.0,261.0 164.4,257.8 164.8,254.9 165.2,252.2 165.6,249.7 166.0,247.5 166.4,245.4 166.7,243.6 167.1,241.9 167.5,240.4 167.9,239.0 168.3,237.7 168.7,236.5 169.1,235.4 169.4,234.3 169.8,233.4 170.2,232.5 170.6,231.6 171.0,230.8 171.4,230.1 171.8,229.3 172.1,228.6 172.5,228.0 172.9,227.3 173.3,226.7 173.7,226.1 174.1,225.5 174.5,224.9 174.8,224.4 175.2,223.9 175.6,223.3 176.0,222.8 176.4,222.3 176.8,221.8 177.2,221.4 177.6,220.9 177.9,220.4 178.3,220.0 178.7,219.5 179.1,219.1 181.9,216.3 184.6,213.7 187.4,211.5 190.2,209.5 192.9,207.8 195.7,206.2 198.5,204.8 201.3,203.5" stroke="#9000ff" stroke-width="2.7" fill="none" stroke-linejoin="round"/>
<path d="M163.6,259.2 164.0,256.1 164.4,253.0 164.8,250.1 165.2,247.5 165.6,245.0 166.0,242.8 166.4,240.8 166.7,239.0 167.1,237.4 167.5,235.9 167.9,234.5 168.3,233.3 168.7,232.1 169.1,231.0 169.4,230.0 169.8,229.1 170.2,228.2 170.6,227.4 171.0,226.6 171.4,225.9 171.8,225.2 172.1,224.5 172.5,223.9 172.9,223.2 173.3,222.6 173.7,222.1 174.1,221.5 174.5,220.9 174.8,220.4 175.2,219.9 175.6,219.4 176.0,218.9 176.4,218.4 176.8,218.0 177.2,217.5 177.6,217.1 177.9,216.6 178.3,216.2 178.7,215.8 179.1,215.4 181.9,212.6 184.6,210.2 187.4,208.1 190.2,206.2 192.9,204.5 195.7,203.0" stroke="#00a000" stroke-width="2.7" fill="none" stroke-linejoin="round"/>
<path d="M163.6,254.8 164.0,252.5 164.4,250.3 164.8,248.1 165.2,246.1 165.6,244.3 166.0,242.7 166.4,241.1 166.7,239.7 167.1,238.4 167.5,237.2 167.9,236.1 168.3,235.1 168.7,234.1 169.1,233.2 169.4,232.4 169.8,231.6 170.2,230.8 170.6,230.1 171.0,229.4 171.4,228.7 171.8,228.1 172.1,227.5 172.5,226.9 172.9,226.3 173.3,225.7 173.7,225.2 174.1,224.7 174.5,224.2 174.8,223.7 175.2,223.2 175.6,222.7 176.0,222.2 176.4,221.8 176.8,221.3 177.2,220.9 177.6,220.4 177.9,220.0 178.3,219.6 178.7,219.2 179.1,218.8 181.9,216.2 184.6,213.8 187.4,211.7 190.2,209.9 192.9,208.2 195.7,206.8 198.5,205.4 201.3,204.2 204.0,203.1 206.8,202.1" stroke="#ff00ff" stroke-width="2.7" fill="none" stroke-linejoin="round"/>
<path d="M163.6,251.0 164.0,249.0 164.4,246.9 164.8,245.0 165.2,243.2 165.6,241.5 166.0,240.0 166.4,238.6 166.7,237.3 167.1,236.1 167.5,235.0 167.9,234.0 168.3,233.0 168.7,232.1 169.1,231.3 169.4,230.5 169.8,229.7 170.2,229.0 170.6,228.3 171.0,227.7 171.4,227.1 171.8,226.5 172.1,225.9 172.5,225.3 172.9,224.8 173.3,224.2 173.7,223.7 174.1,223.2 174.5,222.7 174.8,222.2 175.2,221.8 175.6,221.3 176.0,220.9 176.4,220.4 176.8,220.0 177.2,219.6 177.6,219.2 177.9,218.8 178.3,218.4 178.7,218.0 179.1,217.6 181.9,215.1 184.6,212.8 187.4,210.8 190.2,209.0 192.9,207.4 195.7,206.0 198.5,204.7 201.3,203.6 204.0,202.5 206.8,201.5" stroke="#0000ff" stroke-width="2.7" fill="none" stroke-linejoin="round"/>
<path d="M163.6,248.4 164.0,246.6 164.4,244.8 164.8,243.1 165.2,241.5 165.6,240.1 166.0,238.7 166.4,237.5 166.7,236.3 167.1,235.2 167.5,234.2 167.9,233.3 168.3,232.4 168.7,231.6 169.1,230.8 169.4,230.1 169.8,229.4 170.2,228.7 170.6,228.1 171.0,227.5 171.4,226.9 171.8,226.3 172.1,225.7 172.5,225.2 172.9,224.7 173.3,224.2 173.7,223.7 174.1,223.2 174.5,222.7 174.8,222.3 175.2,221.8 175.6,221.4 176.0,221.0 176.4,220.6 176.8,220.2 177.2,219.7 177.6,219.4 177.9,219.0 178.3,218.6 178.7,218.2 179.1,217.9 181.9,215.4 184.6,213.2 187.4,211.3 190.2,209.6 192.9,208.1 195.7,206.7 198.5,205.4" stroke="#ff0000" stroke-width="2.7" fill="none" stroke-linejoin="round"/>
<path d="M486.7,155.1 489.4,154.8 492.2,154.5 495.0,154.3 497.7,154.0 500.5,153.8 503.3,153.6 506.1,153.4 508.8,153.3 511.6,153.1 514.4,152.9 517.1,152.7 519.9,152.6 522.7,152.4 525.5,152.2 528.2,152.0 531.0,151.9 533.8,151.8 536.5,151.6 539.3,151.5 542.1,151.5 544.9,151.4 547.6,151.3 550.4,151.3 553.2,151.2 555.9,151.2 558.7,151.2 561.5,151.2 564.3,151.2 567.0,151.2 569.8,151.2 572.6,151.1 575.3,151.1 578.1,151.1 580.9,151.0 583.6,151.0 586.4,151.0 589.2,150.9 592.0,150.9 594.7,150.9 597.5,150.9 600.3,150.9 603.0,150.9 605.8,150.8 608.6,150.8 611.4,150.8 614.1,150.8 616.9,150.8 619.7,150.7 622.4,150.7 625.2,150.7 628.0,150.6 630.8,150.6 633.5,150.5 636.3,150.4 639.1,150.4 641.8,150.3 644.6,150.2 647.4,150.1 650.2,149.9 652.9,149.8 655.7,149.7 658.5,149.6 661.2,149.4 664.0,149.3 666.8,149.1 669.5,149.0 672.3,148.8 675.1,148.7 677.9,148.5 680.6,148.3 683.4,148.2 686.2,148.0 688.9,147.9 691.7,147.7 694.5,147.6 697.3,147.4 700.0,147.3 702.8,147.1 705.6,147.0 708.3,146.8 711.1,146.7 713.9,146.5 716.7,146.3 719.4,146.2 722.2,146.0 725.0,145.8 727.7,145.5 730.5,145.3 733.3,145.0 736.1,144.7 738.8,144.4 741.6,144.1 744.4,143.7 747.1,143.4 749.9,143.0 752.7,142.6 755.4,142.2 758.2,141.9 761.0,141.5 763.8,141.2 766.5,140.8 769.3,140.5 772.1,140.2 774.8,139.9 777.6,139.5 780.4,139.1 783.2,138.7 785.9,138.3 788.7,137.8 791.5,137.3 794.2,136.7 797.0,136.1 799.8,135.5 802.6,135.0 805.3,134.4 808.1,133.9 810.9,133.5 813.6,133.2 816.4,132.9 819.2,132.6 822.0,132.3 824.7,132.1 827.5,131.9 830.3,131.7 833.0,131.6 835.8,131.4 838.6,131.2 841.4,131.1" stroke="#ff0000" stroke-width="2.7" fill="none" stroke-linejoin="round"/>
<path d="M508.8,153.0 511.6,152.8 514.4,152.6 517.1,152.4 519.9,152.2 522.7,152.0 525.5,151.8 528.2,151.6 531.0,151.5 533.8,151.3 536.5,151.2 539.3,151.0 542.1,150.9 544.9,150.8 547.6,150.7 550.4,150.6 553.2,150.6 555.9,150.5 558.7,150.5 561.5,150.4 564.3,150.4 567.0,150.4 569.8,150.4 572.6,150.3 575.3,150.3 578.1,150.3 580.9,150.2 583.6,150.2 586.4,150.2 589.2,150.1 592.0,150.1 594.7,150.1 597.5,150.1 600.3,150.1 603.0,150.1 605.8,150.1 608.6,150.0 611.4,150.0 614.1,150.0 616.9,150.0 619.7,150.0 622.4,149.9 625.2,149.9 628.0,149.8 630.8,149.8 633.5,149.7 636.3,149.6 639.1,149.6 641.8,149.5 644.6,149.4 647.4,149.3 650.2,149.1 652.9,149.0 655.7,148.9 658.5,148.7 661.2,148.6 664.0,148.4 666.8,148.3 669.5,148.1 672.3,148.0 675.1,147.8 677.9,147.6 680.6,147.5 683.4,147.3 686.2,147.1 688.9,147.0 691.7,146.8 694.5,146.7 697.3,146.5 700.0,146.4 702.8,146.2 705.6,146.1 708.3,145.9 711.1,145.8 713.9,145.6 716.7,145.4 719.4,145.2 722.2,145.0 725.0,144.8 727.7,144.6 730.5,144.3 733.3,144.1 736.1,143.8 738.8,143.4 741.6,143.1 744.4,142.7 747.1,142.3 749.9,141.9 752.7,141.5 755.4,141.2 758.2,140.8 761.0,140.4 763.8,140.0 766.5,139.7 769.3,139.3 772.1,138.9 774.8,138.6 777.6,138.2 780.4,137.7 783.2,137.3 785.9,136.7 788.7,136.2 791.5,135.5 794.2,134.8 797.0,134.0 799.8,133.3 802.6,132.5 805.3,131.9 808.1,131.3 810.9,130.8 813.6,130.3 816.4,130.0 819.2,129.7 822.0,129.4 824.7,129.2 827.5,128.9 830.3,128.7 833.0,128.6 835.8,128.4 838.6,128.2 841.4,128.1" stroke="#0000ff" stroke-width="2.7" fill="none" stroke-linejoin="round"/>
<path d="M533.8,151.2 536.5,151.0 539.3,150.8 542.1,150.6 544.9,150.5 547.6,150.3 550.4,150.2 553.2,150.0 555.9,149.9 558.7,149.8 561.5,149.7 564.3,149.6 567.0,149.5 569.8,149.4 572.6,149.3 575.3,149.3 578.1,149.2 580.9,149.1 583.6,149.1 586.4,149.0 589.2,149.0 592.0,148.9 594.7,148.9 597.5,148.9 600.3,148.8 603.0,148.8 605.8,148.8 608.6,148.7 611.4,148.7 614.1,148.7 616.9,148.6 619.7,148.6 622.4,148.6 625.2,148.5 628.0,148.5 630.8,148.4 633.5,148.3 636.3,148.3 639.1,148.2 641.8,148.1 644.6,148.0 647.4,147.8 650.2,147.7 652.9,147.6 655.7,147.4 658.5,147.2 661.2,147.1 664.0,146.9 666.8,146.7 669.5,146.6 672.3,146.4 675.1,146.2 677.9,146.0 680.6,145.8 683.4,145.7 686.2,145.5 688.9,145.4 691.7,145.2 694.5,145.0 697.3,144.9 700.0,144.7 702.8,144.6 705.6,144.4 708.3,144.2 711.1,144.1 713.9,143.9 716.7,143.7 719.4,143.5 722.2,143.3 725.0,143.1 727.7,142.8 730.5,142.6 733.3,142.3 736.1,142.0 738.8,141.6 741.6,141.3 744.4,140.9 747.1,140.5 749.9,140.1 752.7,139.7 755.4,139.3 758.2,138.8 761.0,138.4 763.8,138.0 766.5,137.6 769.3,137.2 772.1,136.8 774.8,136.4 777.6,136.0 780.4,135.5 783.2,134.9 785.9,134.3 788.7,133.6 791.5,132.9 794.2,132.0 797.0,131.1 799.8,130.2 802.6,129.3 805.3,128.5 808.1,127.8 810.9,127.2 813.6,126.7 816.4,126.3 819.2,125.9 822.0,125.6 824.7,125.4 827.5,125.1 830.3,124.9 833.0,124.7 835.8,124.6 838.6,124.4 841.4,124.2" stroke="#ff2020" stroke-width="2.7" fill="none" stroke-linejoin="round"/>
<path d="M481.1,154.9 483.9,154.6 486.7,154.2 489.4,153.9 492.2,153.6 495.0,153.3 497.7,153.0 500.5,152.8 503.3,152.6 506.1,152.3 508.8,152.1 511.6,151.9 514.4,151.7 517.1,151.5 519.9,151.3 522.7,151.1 525.5,150.8 528.2,150.6 531.0,150.4 533.8,150.2 536.5,150.0 539.3,149.8 542.1,149.6 544.9,149.5 547.6,149.4 550.4,149.2 553.2,149.1 555.9,149.1 558.7,149.0 561.5,148.9 564.3,148.9 567.0,148.8 569.8,148.8 572.6,148.8 575.3,148.8 578.1,148.8 580.9,148.8 583.6,148.8 586.4,148.8 589.2,148.8 592.0,148.8 594.7,148.8 597.5,148.8 600.3,148.8 603.0,148.8 605.8,148.8 608.6,148.8 611.4,148.8 614.1,148.7 616.9,148.7 619.7,148.7 622.4,148.7 625.2,148.7 628.0,148.6 630.8,148.6 633.5,148.5 636.3,148.5 639.1,148.4 641.8,148.3 644.6,148.2 647.4,148.1 650.2,148.0 652.9,147.8 655.7,147.7 658.5,147.5 661.2,147.4 664.0,147.2 666.8,147.0 669.5,146.9 672.3,146.7 675.1,146.5 677.9,146.3 680.6,146.2 683.4,146.0 686.2,145.8 688.9,145.7 691.7,145.5 694.5,145.4 697.3,145.2 700.0,145.1 702.8,144.9 705.6,144.8 708.3,144.6 711.1,144.4 713.9,144.2 716.7,144.1 719.4,143.9 722.2,143.6 725.0,143.4 727.7,143.2 730.5,142.9 733.3,142.6 736.1,142.3 738.8,142.0 741.6,141.6 744.4,141.2 747.1,140.8 749.9,140.4 752.7,139.9 755.4,139.5 758.2,139.1 761.0,138.6 763.8,138.2 766.5,137.8 769.3,137.4 772.1,136.9 774.8,136.5 777.6,136.0 780.4,135.4 783.2,134.8 785.9,134.1 788.7,133.3 791.5,132.4 794.2,131.4 797.0,130.3 799.8,129.3 802.6,128.2 805.3,127.3 808.1,126.5 810.9,125.8 813.6,125.2 816.4,124.8 819.2,124.4 822.0,124.0 824.7,123.8 827.5,123.5 830.3,123.3 833.0,123.1 835.8,122.9 838.6,122.8 841.4,122.6" stroke="#00a000" stroke-width="2.7" fill="none" stroke-linejoin="round"/>
<path d="M514.4,152.2 517.1,152.0 519.9,151.7 522.7,151.5 525.5,151.2 528.2,151.0 531.0,150.7 533.8,150.5 536.5,150.2 539.3,150.0 542.1,149.7 544.9,149.5 547.6,149.3 550.4,149.1 553.2,148.9 555.9,148.7 558.7,148.5 561.5,148.4 564.3,148.2 567.0,148.1 569.8,148.0 572.6,147.8 575.3,147.7 578.1,147.7 580.9,147.6 583.6,147.5 586.4,147.5 589.2,147.4 592.0,147.4 594.7,147.3 597.5,147.3 600.3,147.3 603.0,147.2 605.8,147.2 608.6,147.2 611.4,147.1 614.1,147.1 616.9,147.1 619.7,147.0 622.4,147.0 625.2,146.9 628.0,146.9 630.8,146.8 633.5,146.7 636.3,146.7 639.1,146.6 641.8,146.5 644.6,146.4 647.4,146.2 650.2,146.1 652.9,145.9 655.7,145.8 658.5,145.6 661.2,145.4 664.0,145.2 666.8,145.0 669.5,144.8 672.3,144.6 675.1,144.4 677.9,144.2 680.6,144.0 683.4,143.9 686.2,143.7 688.9,143.5 691.7,143.4 694.5,143.2 697.3,143.0 700.0,142.9 702.8,142.7 705.6,142.5 708.3,142.4 711.1,142.2 713.9,142.0 716.7,141.8 719.4,141.6 722.2,141.4 725.0,141.1 727.7,140.9 730.5,140.6 733.3,140.3 736.1,140.0 738.8,139.6 741.6,139.2 744.4,138.8 747.1,138.4 749.9,137.9 752.7,137.5 755.4,137.0 758.2,136.6 761.0,136.1 763.8,135.6 766.5,135.2 769.3,134.7 772.1,134.3 774.8,133.7 777.6,133.2 780.4,132.6 783.2,131.9 785.9,131.1 788.7,130.2 791.5,129.2 794.2,128.0 797.0,126.8 799.8,125.6 802.6,124.4 805.3,123.3 808.1,122.4 810.9,121.6 813.6,121.0 816.4,120.5 819.2,120.0 822.0,119.7 824.7,119.4 827.5,119.1 830.3,118.9 833.0,118.7 835.8,118.5 838.6,118.4 841.4,118.2" stroke="#ff00ff" stroke-width="2.7" fill="none" stroke-linejoin="round"/>
<path d="M486.7,154.6 489.4,154.3 492.2,154.0 495.0,153.7 497.7,153.4 500.5,153.2 503.3,152.9 506.1,152.7 508.8,152.5 511.6,152.2 514.4,152.0 517.1,151.8 519.9,151.5 522.7,151.3 525.5,151.0 528.2,150.7 531.0,150.5 533.8,150.2 536.5,150.0 539.3,149.7 542.1,149.5 544.9,149.3 547.6,149.1 550.4,148.8 553.2,148.7 555.9,148.5 558.7,148.3 561.5,148.2 564.3,148.0 567.0,147.9 569.8,147.8 572.6,147.7 575.3,147.6 578.1,147.5 580.9,147.5 583.6,147.4 586.4,147.4 589.2,147.3 592.0,147.3 594.7,147.3 597.5,147.2 600.3,147.2 603.0,147.2 605.8,147.2 608.6,147.1 611.4,147.1 614.1,147.1 616.9,147.0 619.7,147.0 622.4,147.0 625.2,146.9 628.0,146.9 630.8,146.8 633.5,146.7 636.3,146.7 639.1,146.6 641.8,146.5 644.6,146.4 647.4,146.2 650.2,146.1 652.9,145.9 655.7,145.8 658.5,145.6 661.2,145.4 664.0,145.2 666.8,145.0 669.5,144.8 672.3,144.6 675.1,144.4 677.9,144.3 680.6,144.1 683.4,143.9 686.2,143.7 688.9,143.6 691.7,143.4 694.5,143.2 697.3,143.1 700.0,142.9 702.8,142.7 705.6,142.6 708.3,142.4 711.1,142.2 713.9,142.0 716.7,141.8 719.4,141.6 722.2,141.4 725.0,141.2 727.7,140.9 730.5,140.6 733.3,140.3 736.1,140.0 738.8,139.6 741.6,139.2 744.4,138.8 747.1,138.3 749.9,137.9 752.7,137.4 755.4,136.9 758.2,136.4 761.0,135.9 763.8,135.5 766.5,135.0 769.3,134.5 772.1,134.0 774.8,133.4 777.6,132.8 780.4,132.2 783.2,131.4 785.9,130.6 788.7,129.5 791.5,128.4 794.2,127.1 797.0,125.7 799.8,124.3 802.6,123.0 805.3,121.8 808.1,120.7 810.9,119.9 813.6,119.1 816.4,118.6 819.2,118.1 822.0,117.7 824.7,117.4 827.5,117.2 830.3,116.9 833.0,116.7 835.8,116.5 838.6,116.4 841.4,116.2" stroke="#9000ff" stroke-width="2.7" fill="none" stroke-linejoin="round"/>
<path d="M483.9,155.8 486.7,155.4 489.4,155.1 492.2,154.8 495.0,154.5 497.7,154.3 500.5,154.0 503.3,153.8 506.1,153.5 508.8,153.3 511.6,153.1 514.4,152.8 517.1,152.6 519.9,152.3 522.7,152.0 525.5,151.7 528.2,151.5 531.0,151.2 533.8,150.9 536.5,150.6 539.3,150.4 542.1,150.1 544.9,149.8 547.6,149.5 550.4,149.2 553.2,149.0 555.9,148.7 558.7,148.5 561.5,148.2 564.3,148.0 567.0,147.8 569.8,147.6 572.6,147.4 575.3,147.2 578.1,147.1 580.9,147.0 583.6,146.9 586.4,146.8 589.2,146.7 592.0,146.6 594.7,146.5 597.5,146.4 600.3,146.4 603.0,146.3 605.8,146.2 608.6,146.2 611.4,146.1 614.1,146.1 616.9,146.0 619.7,146.0 622.4,145.9 625.2,145.8 628.0,145.8 630.8,145.7 633.5,145.6 636.3,145.5 639.1,145.4 641.8,145.3 644.6,145.2 647.4,145.0 650.2,144.9 652.9,144.7 655.7,144.5 658.5,144.3 661.2,144.1 664.0,143.9 666.8,143.7 669.5,143.5 672.3,143.2 675.1,143.0 677.9,142.8 680.6,142.6 683.4,142.5 686.2,142.3 688.9,142.1 691.7,141.9 694.5,141.8 697.3,141.6 700.0,141.4 702.8,141.2 705.6,141.1 708.3,140.9 711.1,140.7 713.9,140.5 716.7,140.3 719.4,140.1 722.2,139.9 725.0,139.6 727.7,139.4 730.5,139.1 733.3,138.7 736.1,138.4 738.8,138.0 741.6,137.6 744.4,137.2 747.1,136.7 749.9,136.2 752.7,135.7 755.4,135.2 758.2,134.7 761.0,134.2 763.8,133.7 766.5,133.1 769.3,132.6 772.1,132.1 774.8,131.5 777.6,130.8 780.4,130.1 783.2,129.3 785.9,128.3 788.7,127.2 791.5,125.9 794.2,124.5 797.0,123.0 799.8,121.4 802.6,119.9 805.3,118.6 808.1,117.4 810.9,116.4 813.6,115.7 816.4,115.1 819.2,114.6 822.0,114.2 824.7,113.8 827.5,113.5 830.3,113.3 833.0,113.1 835.8,112.9 838.6,112.7 841.4,112.6" stroke="#c04000" stroke-width="2.7" fill="none" stroke-linejoin="round"/>
<path d="M514.4,153.2 517.1,152.9 519.9,152.7 522.7,152.4 525.5,152.1 528.2,151.8 531.0,151.5 533.8,151.2 536.5,150.9 539.3,150.7 542.1,150.4 544.9,150.1 547.6,149.8 550.4,149.5 553.2,149.2 555.9,148.9 558.7,148.6 561.5,148.3 564.3,148.1 567.0,147.8 569.8,147.6 572.6,147.4 575.3,147.2 578.1,147.0 580.9,146.9 583.6,146.7 586.4,146.6 589.2,146.5 592.0,146.4 594.7,146.3 597.5,146.2 600.3,146.1 603.0,146.0 605.8,145.9 608.6,145.9 611.4,145.8 614.1,145.7 616.9,145.7 619.7,145.6 622.4,145.5 625.2,145.5 628.0,145.4 630.8,145.3 633.5,145.2 636.3,145.1 639.1,145.0 641.8,144.9 644.6,144.8 647.4,144.6 650.2,144.4 652.9,144.2 655.7,144.1 658.5,143.8 661.2,143.6 664.0,143.4 666.8,143.2 669.5,143.0 672.3,142.8 675.1,142.5 677.9,142.3 680.6,142.1 683.4,142.0 686.2,141.8 688.9,141.6 691.7,141.4 694.5,141.2 697.3,141.1 700.0,140.9 702.8,140.7 705.6,140.5 708.3,140.4 711.1,140.2 713.9,140.0 716.7,139.8 719.4,139.5 722.2,139.3 725.0,139.1 727.7,138.8 730.5,138.5 733.3,138.2 736.1,137.8 738.8,137.4 741.6,137.0 744.4,136.6 747.1,136.1 749.9,135.6 752.7,135.1 755.4,134.6 758.2,134.0 761.0,133.5 763.8,133.0 766.5,132.4 769.3,131.9 772.1,131.3 774.8,130.7 777.6,130.0 780.4,129.3 783.2,128.4 785.9,127.4 788.7,126.2 791.5,124.9 794.2,123.3 797.0,121.7 799.8,120.0 802.6,118.5 805.3,117.0 808.1,115.8 810.9,114.8 813.6,114.0 816.4,113.3 819.2,112.8 822.0,112.4 824.7,112.1 827.5,111.8 830.3,111.5 833.0,111.3 835.8,111.1 838.6,110.9 841.4,110.8" stroke="#ff9900" stroke-width="2.7" fill="none" stroke-linejoin="round"/>
<path d="M486.7,155.5 489.4,155.2 492.2,154.9 495.0,154.6 497.7,154.4 500.5,154.1 503.3,153.9 506.1,153.6 508.8,153.4 511.6,153.1 514.4,152.9 517.1,152.6 519.9,152.4 522.7,152.1 525.5,151.8 528.2,151.5 531.0,151.2 533.8,150.9 536.5,150.6 539.3,150.3 542.1,150.0 544.9,149.7 547.6,149.4 550.4,149.2 553.2,148.9 555.9,148.6 558.7,148.3 561.5,148.0 564.3,147.8 567.0,147.6 569.8,147.3 572.6,147.1 575.3,147.0 578.1,146.8 580.9,146.7 583.6,146.5 586.4,146.4 589.2,146.3 592.0,146.2 594.7,146.1 597.5,146.1 600.3,146.0 603.0,145.9 605.8,145.8 608.6,145.8 611.4,145.7 614.1,145.7 616.9,145.6 619.7,145.5 622.4,145.5 625.2,145.4 628.0,145.3 630.8,145.3 633.5,145.2 636.3,145.1 639.1,145.0 641.8,144.9 644.6,144.7 647.4,144.6 650.2,144.4 652.9,144.2 655.7,144.0 658.5,143.8 661.2,143.6 664.0,143.4 666.8,143.2 669.5,143.0 672.3,142.7 675.1,142.5 677.9,142.3 680.6,142.1 683.4,141.9 686.2,141.8 688.9,141.6 691.7,141.4 694.5,141.2 697.3,141.1 700.0,140.9 702.8,140.7 705.6,140.5 708.3,140.3 711.1,140.2 713.9,140.0 716.7,139.7 719.4,139.5 722.2,139.3 725.0,139.0 727.7,138.8 730.5,138.5 733.3,138.2 736.1,137.8 738.8,137.4 741.6,137.0 744.4,136.5 747.1,136.0 749.9,135.5 752.7,135.0 755.4,134.5 758.2,134.0 761.0,133.4 763.8,132.9 766.5,132.3 769.3,131.8 772.1,131.2 774.8,130.6 777.6,129.9 780.4,129.1 783.2,128.2 785.9,127.2 788.7,125.9 791.5,124.5 794.2,122.9 797.0,121.2 799.8,119.5 802.6,117.9 805.3,116.4 808.1,115.1 810.9,114.1 813.6,113.2 816.4,112.6 819.2,112.0 822.0,111.6 824.7,111.3 827.5,111.0 830.3,110.7 833.0,110.5 835.8,110.3 838.6,110.1 841.4,110.0" stroke="#ff8000" stroke-width="2.7" fill="none" stroke-linejoin="round"/>
<path d="M495.0,153.3 497.7,153.0 500.5,152.7 503.3,152.4 506.1,152.1 508.8,151.9 511.6,151.6 514.4,151.3 517.1,151.1 519.9,150.8 522.7,150.5 525.5,150.2 528.2,149.8 531.0,149.5 533.8,149.1 536.5,148.8 539.3,148.5 542.1,148.1 544.9,147.8 547.6,147.4 550.4,147.1 553.2,146.8 555.9,146.5 558.7,146.3 561.5,146.0 564.3,145.8 567.0,145.6 569.8,145.4 572.6,145.3 575.3,145.1 578.1,145.1 580.9,145.0 583.6,144.9 586.4,144.9 589.2,144.8 592.0,144.8 594.7,144.7 597.5,144.7 600.3,144.7 603.0,144.6 605.8,144.6 608.6,144.6 611.4,144.5 614.1,144.5 616.9,144.5 619.7,144.4 622.4,144.4 625.2,144.3 628.0,144.3 630.8,144.2 633.5,144.1 636.3,144.1 639.1,144.0 641.8,143.9 644.6,143.7 647.4,143.6 650.2,143.4 652.9,143.2 655.7,143.0 658.5,142.8 661.2,142.6 664.0,142.4 666.8,142.2 669.5,141.9 672.3,141.7 675.1,141.5 677.9,141.3 680.6,141.1 683.4,140.9 686.2,140.7 688.9,140.6 691.7,140.4 694.5,140.2 697.3,140.0 700.0,139.9 702.8,139.7 705.6,139.5 708.3,139.3 711.1,139.1 713.9,138.9 716.7,138.7 719.4,138.5 722.2,138.2 725.0,138.0 727.7,137.7 730.5,137.4 733.3,137.1 736.1,136.7 738.8,136.3 741.6,135.9 744.4,135.4 747.1,134.9 749.9,134.4 752.7,133.8 755.4,133.3 758.2,132.7 761.0,132.2 763.8,131.6 766.5,131.0 769.3,130.4 772.1,129.8 774.8,129.1 777.6,128.4 780.4,127.6 783.2,126.6 785.9,125.5 788.7,124.1 791.5,122.6 794.2,120.9 797.0,119.0 799.8,117.1 802.6,115.3 805.3,113.7 808.1,112.3 810.9,111.2 813.6,110.3 816.4,109.6 819.2,109.0 822.0,108.5 824.7,108.2 827.5,107.9 830.3,107.6 833.0,107.4 835.8,107.2 838.6,107.0 841.4,106.8" stroke="#101010" stroke-width="2.7" fill="none" stroke-linejoin="round"/>
<path d="M514.4,151.5 517.1,151.3 519.9,151.0 522.7,150.7 525.5,150.4 528.2,150.1 531.0,149.8 533.8,149.5 536.5,149.2 539.3,148.9 542.1,148.6 544.9,148.3 547.6,148.1 550.4,147.8 553.2,147.5 555.9,147.3 558.7,147.1 561.5,146.9 564.3,146.7 567.0,146.5 569.8,146.4 572.6,146.2 575.3,146.1 578.1,146.1 580.9,146.0 583.6,145.9 586.4,145.9 589.2,145.9 592.0,145.8 594.7,145.8 597.5,145.8 600.3,145.7 603.0,145.7 605.8,145.7 608.6,145.6 611.4,145.6 614.1,145.6 616.9,145.6 619.7,145.5 622.4,145.5 625.2,145.4 628.0,145.4 630.8,145.3 633.5,145.2 636.3,145.2 639.1,145.1 641.8,145.0 644.6,144.9 647.4,144.7 650.2,144.6 652.9,144.4 655.7,144.2 658.5,144.0 661.2,143.8 664.0,143.6 666.8,143.4 669.5,143.2 672.3,143.0 675.1,142.8 677.9,142.6 680.6,142.4 683.4,142.2 686.2,142.0 688.9,141.8 691.7,141.7 694.5,141.5 697.3,141.3 700.0,141.2 702.8,141.0 705.6,140.8 708.3,140.6 711.1,140.4 713.9,140.2 716.7,140.0 719.4,139.8 722.2,139.6 725.0,139.3 727.7,139.0 730.5,138.7 733.3,138.4 736.1,138.0 738.8,137.6 741.6,137.2 744.4,136.7 747.1,136.2 749.9,135.6 752.7,135.1 755.4,134.5 758.2,133.9 761.0,133.3 763.8,132.7 766.5,132.1 769.3,131.5 772.1,130.9 774.8,130.2 777.6,129.4 780.4,128.5 783.2,127.5 785.9,126.3 788.7,124.8 791.5,123.2 794.2,121.3 797.0,119.3 799.8,117.2 802.6,115.3 805.3,113.5 808.1,112.0 810.9,110.8 813.6,109.8 816.4,109.1 819.2,108.5 822.0,108.0 824.7,107.6 827.5,107.3 830.3,107.0 833.0,106.8 835.8,106.6 838.6,106.4 841.4,106.2" stroke="#800000" stroke-width="2.7" fill="none" stroke-linejoin="round"/>
<path d="M528.2,149.8 531.0,149.4 533.8,149.0 536.5,148.7 539.3,148.3 542.1,147.9 544.9,147.5 547.6,147.2 550.4,146.8 553.2,146.5 555.9,146.2 558.7,145.8 561.5,145.6 564.3,145.3 567.0,145.1 569.8,144.8 572.6,144.7 575.3,144.5 578.1,144.4 580.9,144.3 583.6,144.2 586.4,144.2 589.2,144.1 592.0,144.0 594.7,144.0 597.5,143.9 600.3,143.9 603.0,143.9 605.8,143.8 608.6,143.8 611.4,143.7 614.1,143.7 616.9,143.7 619.7,143.6 622.4,143.6 625.2,143.5 628.0,143.4 630.8,143.4 633.5,143.3 636.3,143.2 639.1,143.1 641.8,143.0 644.6,142.9 647.4,142.7 650.2,142.6 652.9,142.4 655.7,142.2 658.5,141.9 661.2,141.7 664.0,141.5 666.8,141.2 669.5,141.0 672.3,140.8 675.1,140.5 677.9,140.3 680.6,140.1 683.4,139.9 686.2,139.8 688.9,139.6 691.7,139.4 694.5,139.2 697.3,139.0 700.0,138.9 702.8,138.7 705.6,138.5 708.3,138.3 711.1,138.1 713.9,137.9 716.7,137.7 719.4,137.4 722.2,137.2 725.0,136.9 727.7,136.6 730.5,136.3 733.3,136.0 736.1,135.6 738.8,135.2 741.6,134.7 744.4,134.2 747.1,133.7 749.9,133.2 752.7,132.6 755.4,132.0 758.2,131.4 761.0,130.8 763.8,130.2 766.5,129.6 769.3,129.0 772.1,128.3 774.8,127.6 777.6,126.8 780.4,125.8 783.2,124.8 785.9,123.5 788.7,122.1 791.5,120.4 794.2,118.4 797.0,116.3 799.8,114.2 802.6,112.2 805.3,110.4 808.1,108.9 810.9,107.6 813.6,106.6 816.4,105.8 819.2,105.2 822.0,104.7 824.7,104.3 827.5,104.0 830.3,103.7 833.0,103.5 835.8,103.3 838.6,103.1 841.4,102.9" stroke="#600000" stroke-width="2.7" fill="none" stroke-linejoin="round"/>
<path d="M500.5,153.2 503.3,152.9 506.1,152.6 508.8,152.3 511.6,152.0 514.4,151.7 517.1,151.4 519.9,151.1 522.7,150.8 525.5,150.4 528.2,150.1 531.0,149.7 533.8,149.3 536.5,148.9 539.3,148.5 542.1,148.0 544.9,147.6 547.6,147.2 550.4,146.8 553.2,146.4 555.9,146.0 558.7,145.7 561.5,145.3 564.3,145.0 567.0,144.7 569.8,144.4 572.6,144.2 575.3,144.0 578.1,143.8 580.9,143.7 583.6,143.6 586.4,143.5 589.2,143.4 592.0,143.3 594.7,143.2 597.5,143.1 600.3,143.1 603.0,143.0 605.8,142.9 608.6,142.9 611.4,142.8 614.1,142.8 616.9,142.7 619.7,142.6 622.4,142.6 625.2,142.5 628.0,142.4 630.8,142.4 633.5,142.3 636.3,142.2 639.1,142.1 641.8,142.0 644.6,141.8 647.4,141.7 650.2,141.5 652.9,141.3 655.7,141.0 658.5,140.8 661.2,140.6 664.0,140.3 666.8,140.1 669.5,139.8 672.3,139.6 675.1,139.3 677.9,139.1 680.6,138.9 683.4,138.7 686.2,138.5 688.9,138.3 691.7,138.1 694.5,137.9 697.3,137.8 700.0,137.6 702.8,137.4 705.6,137.2 708.3,137.0 711.1,136.8 713.9,136.6 716.7,136.4 719.4,136.1 722.2,135.9 725.0,135.6 727.7,135.3 730.5,135.0 733.3,134.6 736.1,134.3 738.8,133.8 741.6,133.4 744.4,132.9 747.1,132.3 749.9,131.8 752.7,131.2 755.4,130.6 758.2,130.0 761.0,129.4 763.8,128.7 766.5,128.1 769.3,127.4 772.1,126.7 774.8,126.0 777.6,125.1 780.4,124.2 783.2,123.1 785.9,121.8 788.7,120.3 791.5,118.5 794.2,116.4 797.0,114.3 799.8,112.1 802.6,110.0 805.3,108.1 808.1,106.5 810.9,105.2 813.6,104.1 816.4,103.3 819.2,102.6 822.0,102.1 824.7,101.7 827.5,101.4 830.3,101.1 833.0,100.9 835.8,100.7 838.6,100.5 841.4,100.3" stroke="#000000" stroke-width="2.7" fill="none" stroke-linejoin="round"/>
<path d="M519.9,150.1 522.7,149.8 525.5,149.4 528.2,149.1 531.0,148.7 533.8,148.3 536.5,147.9 539.3,147.5 542.1,147.1 544.9,146.7 547.6,146.4 550.4,146.0 553.2,145.7 555.9,145.3 558.7,145.0 561.5,144.7 564.3,144.5 567.0,144.3 569.8,144.1 572.6,143.9 575.3,143.8 578.1,143.7 580.9,143.7 583.6,143.6 586.4,143.6 589.2,143.5 592.0,143.5 594.7,143.5 597.5,143.4 600.3,143.4 603.0,143.4 605.8,143.4 608.6,143.3 611.4,143.3 614.1,143.3 616.9,143.2 619.7,143.2 622.4,143.2 625.2,143.1 628.0,143.1 630.8,143.0 633.5,142.9 636.3,142.9 639.1,142.8 641.8,142.7 644.6,142.6 647.4,142.4 650.2,142.2 652.9,142.0 655.7,141.8 658.5,141.6 661.2,141.4 664.0,141.1 666.8,140.9 669.5,140.7 672.3,140.4 675.1,140.2 677.9,140.0 680.6,139.8 683.4,139.6 686.2,139.4 688.9,139.2 691.7,139.0 694.5,138.9 697.3,138.7 700.0,138.5 702.8,138.3 705.6,138.1 708.3,137.9 711.1,137.7 713.9,137.5 716.7,137.3 719.4,137.1 722.2,136.8 725.0,136.6 727.7,136.3 730.5,136.0 733.3,135.6 736.1,135.2 738.8,134.8 741.6,134.3 744.4,133.8 747.1,133.3 749.9,132.7 752.7,132.1 755.4,131.5 758.2,130.9 761.0,130.3 763.8,129.6 766.5,129.0 769.3,128.3 772.1,127.6 774.8,126.8 777.6,125.9 780.4,124.9 783.2,123.8 785.9,122.4 788.7,120.8 791.5,119.0 794.2,116.9 797.0,114.6 799.8,112.3 802.6,110.1 805.3,108.1 808.1,106.5 810.9,105.1 813.6,104.0 816.4,103.2 819.2,102.5 822.0,102.0 824.7,101.6 827.5,101.2 830.3,100.9 833.0,100.7 835.8,100.5 838.6,100.3 841.4,100.1" stroke="#006000" stroke-width="2.7" fill="none" stroke-linejoin="round"/>
<path d="M489.4,155.4 492.2,155.1 495.0,154.8 497.7,154.5 500.5,154.2 503.3,154.0 506.1,153.7 508.8,153.4 511.6,153.1 514.4,152.9 517.1,152.6 519.9,152.2 522.7,151.9 525.5,151.5 528.2,151.2 531.0,150.8 533.8,150.4 536.5,150.0 539.3,149.6 542.1,149.2 544.9,148.8 547.6,148.4 550.4,147.9 553.2,147.5 555.9,147.1 558.7,146.7 561.5,146.3 564.3,145.9 567.0,145.5 569.8,145.2 572.6,144.9 575.3,144.6 578.1,144.4 580.9,144.2 583.6,144.0 586.4,143.9 589.2,143.7 592.0,143.6 594.7,143.5 597.5,143.3 600.3,143.2 603.0,143.1 605.8,143.0 608.6,142.9 611.4,142.9 614.1,142.8 616.9,142.7 619.7,142.6 622.4,142.5 625.2,142.5 628.0,142.4 630.8,142.3 633.5,142.2 636.3,142.1 639.1,142.0 641.8,141.8 644.6,141.7 647.4,141.5 650.2,141.3 652.9,141.1 655.7,140.9 658.5,140.6 661.2,140.4 664.0,140.1 666.8,139.8 669.5,139.6 672.3,139.3 675.1,139.1 677.9,138.9 680.6,138.6 683.4,138.4 686.2,138.2 688.9,138.0 691.7,137.9 694.5,137.7 697.3,137.5 700.0,137.3 702.8,137.1 705.6,136.9 708.3,136.7 711.1,136.5 713.9,136.3 716.7,136.1 719.4,135.8 722.2,135.6 725.0,135.3 727.7,135.0 730.5,134.7 733.3,134.3 736.1,133.9 738.8,133.5 741.6,133.0 744.4,132.5 747.1,131.9 749.9,131.4 752.7,130.8 755.4,130.2 758.2,129.5 761.0,128.9 763.8,128.2 766.5,127.5 769.3,126.8 772.1,126.1 774.8,125.3 777.6,124.4 780.4,123.4 783.2,122.3 785.9,120.9 788.7,119.2 791.5,117.3 794.2,115.1 797.0,112.8 799.8,110.4 802.6,108.2 805.3,106.2 808.1,104.4 810.9,103.0 813.6,101.9 816.4,101.1 819.2,100.4 822.0,99.8 824.7,99.4 827.5,99.1 830.3,98.8 833.0,98.5 835.8,98.3 838.6,98.1 841.4,98.0" stroke="#c0a060" stroke-width="2.7" fill="none" stroke-linejoin="round"/>
<path d="M508.8,151.7 511.6,151.4 514.4,151.1 517.1,150.8 519.9,150.5 522.7,150.1 525.5,149.8 528.2,149.4 531.0,149.0 533.8,148.6 536.5,148.1 539.3,147.7 542.1,147.3 544.9,146.8 547.6,146.4 550.4,146.0 553.2,145.6 555.9,145.2 558.7,144.8 561.5,144.4 564.3,144.1 567.0,143.8 569.8,143.6 572.6,143.3 575.3,143.2 578.1,143.0 580.9,142.9 583.6,142.8 586.4,142.8 589.2,142.7 592.0,142.6 594.7,142.5 597.5,142.5 600.3,142.4 603.0,142.4 605.8,142.3 608.6,142.3 611.4,142.2 614.1,142.2 616.9,142.1 619.7,142.1 622.4,142.0 625.2,142.0 628.0,141.9 630.8,141.8 633.5,141.8 636.3,141.7 639.1,141.6 641.8,141.5 644.6,141.3 647.4,141.2 650.2,141.0 652.9,140.8 655.7,140.5 658.5,140.3 661.2,140.0 664.0,139.8 666.8,139.5 669.5,139.3 672.3,139.0 675.1,138.8 677.9,138.6 680.6,138.4 683.4,138.2 686.2,138.0 688.9,137.8 691.7,137.6 694.5,137.4 697.3,137.2 700.0,137.0 702.8,136.8 705.6,136.7 708.3,136.5 711.1,136.2 713.9,136.0 716.7,135.8 719.4,135.6 722.2,135.3 725.0,135.0 727.7,134.7 730.5,134.4 733.3,134.0 736.1,133.6 738.8,133.2 741.6,132.7 744.4,132.2 747.1,131.7 749.9,131.1 752.7,130.5 755.4,129.8 758.2,129.2 761.0,128.5 763.8,127.9 766.5,127.2 769.3,126.5 772.1,125.7 774.8,124.9 777.6,124.0 780.4,123.0 783.2,121.8 785.9,120.4 788.7,118.7 791.5,116.7 794.2,114.5 797.0,112.1 799.8,109.7 802.6,107.4 805.3,105.3 808.1,103.5 810.9,102.1 813.6,100.9 816.4,100.0 819.2,99.3 822.0,98.8 824.7,98.4 827.5,98.0 830.3,97.7 833.0,97.5 835.8,97.3 838.6,97.1 841.4,96.9" stroke="#40c0c0" stroke-width="2.7" fill="none" stroke-linejoin="round"/>
<path d="M508.8,152.1 511.6,151.8 514.4,151.5 517.1,151.2 519.9,150.9 522.7,150.6 525.5,150.2 528.2,149.8 531.0,149.4 533.8,149.0 536.5,148.6 539.3,148.2 542.1,147.8 544.9,147.3 547.6,146.9 550.4,146.5 553.2,146.1 555.9,145.7 558.7,145.3 561.5,144.9 564.3,144.6 567.0,144.3 569.8,144.0 572.6,143.8 575.3,143.6 578.1,143.4 580.9,143.3 583.6,143.2 586.4,143.1 589.2,143.0 592.0,142.9 594.7,142.8 597.5,142.8 600.3,142.7 603.0,142.6 605.8,142.6 608.6,142.5 611.4,142.5 614.1,142.4 616.9,142.4 619.7,142.3 622.4,142.2 625.2,142.2 628.0,142.1 630.8,142.0 633.5,142.0 636.3,141.9 639.1,141.8 641.8,141.7 644.6,141.5 647.4,141.3 650.2,141.2 652.9,140.9 655.7,140.7 658.5,140.5 661.2,140.2 664.0,140.0 666.8,139.7 669.5,139.5 672.3,139.2 675.1,139.0 677.9,138.7 680.6,138.5 683.4,138.3 686.2,138.1 688.9,138.0 691.7,137.8 694.5,137.6 697.3,137.4 700.0,137.2 702.8,137.0 705.6,136.8 708.3,136.6 711.1,136.4 713.9,136.2 716.7,136.0 719.4,135.7 722.2,135.5 725.0,135.2 727.7,134.9 730.5,134.6 733.3,134.2 736.1,133.8 738.8,133.3 741.6,132.9 744.4,132.3 747.1,131.8 749.9,131.2 752.7,130.6 755.4,129.9 758.2,129.3 761.0,128.6 763.8,127.9 766.5,127.2 769.3,126.5 772.1,125.7 774.8,124.9 777.6,124.0 780.4,122.9 783.2,121.7 785.9,120.2 788.7,118.4 791.5,116.4 794.2,114.1 797.0,111.6 799.8,109.1 802.6,106.7 805.3,104.5 808.1,102.7 810.9,101.2 813.6,100.0 816.4,99.1 819.2,98.4 822.0,97.8 824.7,97.4 827.5,97.0 830.3,96.7 833.0,96.4 835.8,96.2 838.6,96.0 841.4,95.9" stroke="#2020c0" stroke-width="2.7" fill="none" stroke-linejoin="round"/>
<path d="M486.7,154.4 489.4,154.0 492.2,153.7 495.0,153.4 497.7,153.0 500.5,152.7 503.3,152.4 506.1,152.1 508.8,151.8 511.6,151.5 514.4,151.2 517.1,150.8 519.9,150.5 522.7,150.1 525.5,149.7 528.2,149.3 531.0,148.9 533.8,148.4 536.5,148.0 539.3,147.5 542.1,147.0 544.9,146.5 547.6,146.0 550.4,145.5 553.2,145.1 555.9,144.6 558.7,144.2 561.5,143.7 564.3,143.4 567.0,143.0 569.8,142.7 572.6,142.4 575.3,142.2 578.1,142.1 580.9,141.9 583.6,141.8 586.4,141.7 589.2,141.6 592.0,141.5 594.7,141.4 597.5,141.4 600.3,141.3 603.0,141.2 605.8,141.2 608.6,141.1 611.4,141.0 614.1,141.0 616.9,140.9 619.7,140.9 622.4,140.8 625.2,140.7 628.0,140.7 630.8,140.6 633.5,140.5 636.3,140.4 639.1,140.3 641.8,140.2 644.6,140.1 647.4,139.9 650.2,139.7 652.9,139.4 655.7,139.2 658.5,138.9 661.2,138.7 664.0,138.4 666.8,138.1 669.5,137.8 672.3,137.6 675.1,137.3 677.9,137.1 680.6,136.9 683.4,136.7 686.2,136.5 688.9,136.3 691.7,136.1 694.5,135.9 697.3,135.7 700.0,135.5 702.8,135.3 705.6,135.1 708.3,134.9 711.1,134.7 713.9,134.5 716.7,134.2 719.4,134.0 722.2,133.7 725.0,133.4 727.7,133.1 730.5,132.8 733.3,132.4 736.1,132.0 738.8,131.5 741.6,131.1 744.4,130.5 747.1,130.0 749.9,129.4 752.7,128.7 755.4,128.1 758.2,127.4 761.0,126.7 763.8,126.0 766.5,125.3 769.3,124.5 772.1,123.7 774.8,122.9 777.6,121.9 780.4,120.8 783.2,119.5 785.9,118.0 788.7,116.2 791.5,114.1 794.2,111.7 797.0,109.1 799.8,106.5 802.6,104.0 805.3,101.7 808.1,99.8 810.9,98.3 813.6,97.0 816.4,96.1 819.2,95.4 822.0,94.8 824.7,94.3 827.5,94.0 830.3,93.7 833.0,93.4 835.8,93.2 838.6,93.0 841.4,92.8" stroke="#500080" stroke-width="2.7" fill="none" stroke-linejoin="round"/>
<path d="M500.5,153.8 503.3,153.5 506.1,153.3 508.8,153.0 511.6,152.7 514.4,152.4 517.1,152.1 519.9,151.7 522.7,151.4 525.5,151.0 528.2,150.6 531.0,150.2 533.8,149.8 536.5,149.4 539.3,148.9 542.1,148.5 544.9,148.0 547.6,147.6 550.4,147.1 553.2,146.6 555.9,146.2 558.7,145.7 561.5,145.3 564.3,144.9 567.0,144.5 569.8,144.2 572.6,143.9 575.3,143.6 578.1,143.4 580.9,143.2 583.6,143.1 586.4,142.9 589.2,142.8 592.0,142.6 594.7,142.5 597.5,142.4 600.3,142.3 603.0,142.2 605.8,142.1 608.6,142.0 611.4,142.0 614.1,141.9 616.9,141.8 619.7,141.7 622.4,141.7 625.2,141.6 628.0,141.5 630.8,141.4 633.5,141.3 636.3,141.2 639.1,141.1 641.8,141.0 644.6,140.8 647.4,140.6 650.2,140.4 652.9,140.2 655.7,140.0 658.5,139.7 661.2,139.4 664.0,139.2 666.8,138.9 669.5,138.6 672.3,138.4 675.1,138.1 677.9,137.9 680.6,137.7 683.4,137.5 686.2,137.3 688.9,137.1 691.7,136.9 694.5,136.7 697.3,136.5 700.0,136.3 702.8,136.1 705.6,135.9 708.3,135.7 711.1,135.5 713.9,135.3 716.7,135.0 719.4,134.8 722.2,134.5 725.0,134.3 727.7,134.0 730.5,133.6 733.3,133.2 736.1,132.8 738.8,132.4 741.6,131.9 744.4,131.3 747.1,130.8 749.9,130.1 752.7,129.5 755.4,128.8 758.2,128.2 761.0,127.5 763.8,126.7 766.5,126.0 769.3,125.3 772.1,124.4 774.8,123.6 777.6,122.6 780.4,121.5 783.2,120.2 785.9,118.6 788.7,116.8 791.5,114.6 794.2,112.1 797.0,109.5 799.8,106.8 802.6,104.2 805.3,101.9 808.1,100.0 810.9,98.4 813.6,97.2 816.4,96.2 819.2,95.4 822.0,94.9 824.7,94.4 827.5,94.0 830.3,93.7 833.0,93.5 835.8,93.2 838.6,93.0 841.4,92.9" stroke="#ffd000" stroke-width="2.7" fill="none" stroke-linejoin="round"/>
<path d="M536.5,147.7 539.3,147.2 542.1,146.7 544.9,146.2 547.6,145.6 550.4,145.1 553.2,144.6 555.9,144.2 558.7,143.7 561.5,143.3 564.3,142.9 567.0,142.5 569.8,142.2 572.6,141.9 575.3,141.7 578.1,141.5 580.9,141.4 583.6,141.2 586.4,141.1 589.2,141.0 592.0,140.9 594.7,140.9 597.5,140.8 600.3,140.7 603.0,140.6 605.8,140.6 608.6,140.5 611.4,140.5 614.1,140.4 616.9,140.3 619.7,140.3 622.4,140.2 625.2,140.1 628.0,140.1 630.8,140.0 633.5,139.9 636.3,139.8 639.1,139.7 641.8,139.6 644.6,139.5 647.4,139.3 650.2,139.1 652.9,138.8 655.7,138.6 658.5,138.3 661.2,138.0 664.0,137.8 666.8,137.5 669.5,137.2 672.3,136.9 675.1,136.7 677.9,136.4 680.6,136.2 683.4,136.0 686.2,135.8 688.9,135.6 691.7,135.4 694.5,135.2 697.3,135.0 700.0,134.8 702.8,134.6 705.6,134.4 708.3,134.2 711.1,134.0 713.9,133.8 716.7,133.5 719.4,133.3 722.2,133.0 725.0,132.7 727.7,132.4 730.5,132.1 733.3,131.7 736.1,131.3 738.8,130.8 741.6,130.3 744.4,129.7 747.1,129.2 749.9,128.6 752.7,127.9 755.4,127.2 758.2,126.5 761.0,125.8 763.8,125.1 766.5,124.4 769.3,123.6 772.1,122.8 774.8,121.9 777.6,120.9 780.4,119.7 783.2,118.4 785.9,116.8 788.7,114.9 791.5,112.7 794.2,110.1 797.0,107.4 799.8,104.7 802.6,102.1 805.3,99.7 808.1,97.7 810.9,96.1 813.6,94.8 816.4,93.8 819.2,93.1 822.0,92.5 824.7,92.0 827.5,91.6 830.3,91.3 833.0,91.0 835.8,90.8 838.6,90.6 841.4,90.4" stroke="#ff70b0" stroke-width="2.7" fill="none" stroke-linejoin="round"/>
<path d="M506.1,152.8 508.8,152.5 511.6,152.1 514.4,151.8 517.1,151.5 519.9,151.1 522.7,150.8 525.5,150.4 528.2,149.9 531.0,149.5 533.8,149.0 536.5,148.6 539.3,148.1 542.1,147.6 544.9,147.1 547.6,146.5 550.4,146.0 553.2,145.5 555.9,145.0 558.7,144.6 561.5,144.1 564.3,143.7 567.0,143.3 569.8,142.9 572.6,142.6 575.3,142.3 578.1,142.1 580.9,141.9 583.6,141.8 586.4,141.6 589.2,141.5 592.0,141.4 594.7,141.3 597.5,141.2 600.3,141.1 603.0,141.0 605.8,140.9 608.6,140.8 611.4,140.7 614.1,140.7 616.9,140.6 619.7,140.5 622.4,140.4 625.2,140.3 628.0,140.3 630.8,140.2 633.5,140.1 636.3,140.0 639.1,139.9 641.8,139.8 644.6,139.6 647.4,139.4 650.2,139.2 652.9,139.0 655.7,138.7 658.5,138.4 661.2,138.2 664.0,137.9 666.8,137.6 669.5,137.3 672.3,137.0 675.1,136.8 677.9,136.5 680.6,136.3 683.4,136.1 686.2,135.9 688.9,135.7 691.7,135.5 694.5,135.3 697.3,135.1 700.0,134.9 702.8,134.7 705.6,134.5 708.3,134.3 711.1,134.1 713.9,133.9 716.7,133.6 719.4,133.4 722.2,133.1 725.0,132.8 727.7,132.5 730.5,132.2 733.3,131.8 736.1,131.3 738.8,130.9 741.6,130.4 744.4,129.8 747.1,129.2 749.9,128.6 752.7,127.9 755.4,127.2 758.2,126.5 761.0,125.8 763.8,125.1 766.5,124.3 769.3,123.5 772.1,122.7 774.8,121.7 777.6,120.7 780.4,119.5 783.2,118.2 785.9,116.5 788.7,114.6 791.5,112.3 794.2,109.7 797.0,106.8 799.8,104.0 802.6,101.3 805.3,98.9 808.1,96.8 810.9,95.1 813.6,93.8 816.4,92.8 819.2,92.0 822.0,91.4 824.7,90.9 827.5,90.5 830.3,90.2 833.0,89.9 835.8,89.7 838.6,89.5 841.4,89.3" stroke="#a0a0a0" stroke-width="2.7" fill="none" stroke-linejoin="round"/>
<path d="M517.1,152.0 519.9,151.6 522.7,151.3 525.5,150.9 528.2,150.5 531.0,150.1 533.8,149.6 536.5,149.2 539.3,148.7 542.1,148.2 544.9,147.7 547.6,147.2 550.4,146.7 553.2,146.2 555.9,145.8 558.7,145.3 561.5,144.8 564.3,144.4 567.0,144.0 569.8,143.6 572.6,143.3 575.3,143.0 578.1,142.8 580.9,142.6 583.6,142.4 586.4,142.3 589.2,142.1 592.0,142.0 594.7,141.8 597.5,141.7 600.3,141.6 603.0,141.5 605.8,141.4 608.6,141.3 611.4,141.3 614.1,141.2 616.9,141.1 619.7,141.0 622.4,140.9 625.2,140.8 628.0,140.8 630.8,140.7 633.5,140.6 636.3,140.5 639.1,140.4 641.8,140.2 644.6,140.1 647.4,139.9 650.2,139.7 652.9,139.4 655.7,139.2 658.5,138.9 661.2,138.6 664.0,138.4 666.8,138.1 669.5,137.8 672.3,137.5 675.1,137.3 677.9,137.0 680.6,136.8 683.4,136.6 686.2,136.4 688.9,136.2 691.7,136.0 694.5,135.8 697.3,135.6 700.0,135.4 702.8,135.2 705.6,135.0 708.3,134.8 711.1,134.6 713.9,134.4 716.7,134.1 719.4,133.9 722.2,133.6 725.0,133.3 727.7,133.0 730.5,132.7 733.3,132.3 736.1,131.8 738.8,131.4 741.6,130.8 744.4,130.3 747.1,129.7 749.9,129.1 752.7,128.4 755.4,127.7 758.2,127.0 761.0,126.2 763.8,125.5 766.5,124.7 769.3,123.9 772.1,123.0 774.8,122.1 777.6,121.0 780.4,119.8 783.2,118.4 785.9,116.7 788.7,114.7 791.5,112.3 794.2,109.6 797.0,106.7 799.8,103.8 802.6,101.0 805.3,98.4 808.1,96.3 810.9,94.6 813.6,93.2 816.4,92.2 819.2,91.4 822.0,90.7 824.7,90.3 827.5,89.9 830.3,89.5 833.0,89.3 835.8,89.0 838.6,88.8 841.4,88.7" stroke="#804000" stroke-width="2.7" fill="none" stroke-linejoin="round"/>
<path d="M525.5,148.4 528.2,147.9 531.0,147.4 533.8,146.9 536.5,146.4 539.3,145.8 542.1,145.3 544.9,144.7 547.6,144.2 550.4,143.6 553.2,143.1 555.9,142.6 558.7,142.2 561.5,141.7 564.3,141.3 567.0,141.0 569.8,140.7 572.6,140.4 575.3,140.2 578.1,140.1 580.9,140.0 583.6,139.9 586.4,139.9 589.2,139.8 592.0,139.7 594.7,139.7 597.5,139.6 600.3,139.6 603.0,139.5 605.8,139.5 608.6,139.4 611.4,139.4 614.1,139.4 616.9,139.3 619.7,139.3 622.4,139.2 625.2,139.2 628.0,139.1 630.8,139.0 633.5,139.0 636.3,138.9 639.1,138.8 641.8,138.7 644.6,138.5 647.4,138.4 650.2,138.1 652.9,137.9 655.7,137.6 658.5,137.4 661.2,137.1 664.0,136.8 666.8,136.5 669.5,136.2 672.3,136.0 675.1,135.7 677.9,135.5 680.6,135.2 683.4,135.0 686.2,134.8 688.9,134.6 691.7,134.4 694.5,134.2 697.3,134.0 700.0,133.8 702.8,133.6 705.6,133.4 708.3,133.2 711.1,133.0 713.9,132.8 716.7,132.5 719.4,132.3 722.2,132.0 725.0,131.7 727.7,131.4 730.5,131.0 733.3,130.6 736.1,130.2 738.8,129.7 741.6,129.2 744.4,128.6 747.1,128.0 749.9,127.3 752.7,126.6 755.4,125.9 758.2,125.2 761.0,124.4 763.8,123.6 766.5,122.8 769.3,122.0 772.1,121.1 774.8,120.1 777.6,119.0 780.4,117.8 783.2,116.3 785.9,114.5 788.7,112.4 791.5,109.9 794.2,107.1 797.0,104.1 799.8,101.0 802.6,98.1 805.3,95.5 808.1,93.3 810.9,91.5 813.6,90.1 816.4,89.0 819.2,88.1 822.0,87.5 824.7,87.0 827.5,86.6 830.3,86.2 833.0,86.0 835.8,85.7 838.6,85.5 841.4,85.3" stroke="#00c000" stroke-width="2.7" fill="none" stroke-linejoin="round"/>
<path d="M511.6,149.9 514.4,149.5 517.1,149.1 519.9,148.7 522.7,148.3 525.5,147.8 528.2,147.3 531.0,146.8 533.8,146.2 536.5,145.6 539.3,145.0 542.1,144.4 544.9,143.8 547.6,143.1 550.4,142.5 553.2,141.9 555.9,141.4 558.7,140.8 561.5,140.3 564.3,139.9 567.0,139.5 569.8,139.1 572.6,138.8 575.3,138.6 578.1,138.5 580.9,138.4 583.6,138.3 586.4,138.2 589.2,138.1 592.0,138.1 594.7,138.0 597.5,138.0 600.3,137.9 603.0,137.9 605.8,137.8 608.6,137.8 611.4,137.7 614.1,137.7 616.9,137.6 619.7,137.6 622.4,137.5 625.2,137.5 628.0,137.4 630.8,137.3 633.5,137.3 636.3,137.2 639.1,137.1 641.8,137.0 644.6,136.8 647.4,136.6 650.2,136.4 652.9,136.1 655.7,135.9 658.5,135.6 661.2,135.3 664.0,134.9 666.8,134.6 669.5,134.3 672.3,134.0 675.1,133.8 677.9,133.5 680.6,133.3 683.4,133.1 686.2,132.8 688.9,132.6 691.7,132.4 694.5,132.2 697.3,132.0 700.0,131.8 702.8,131.6 705.6,131.4 708.3,131.2 711.1,131.0 713.9,130.7 716.7,130.5 719.4,130.2 722.2,129.9 725.0,129.6 727.7,129.3 730.5,128.9 733.3,128.5 736.1,128.1 738.8,127.6 741.6,127.0 744.4,126.4 747.1,125.8 749.9,125.1 752.7,124.4 755.4,123.7 758.2,122.9 761.0,122.1 763.8,121.3 766.5,120.5 769.3,119.6 772.1,118.7 774.8,117.7 777.6,116.5 780.4,115.2 783.2,113.7 785.9,111.9 788.7,109.7 791.5,107.1 794.2,104.2 797.0,101.0 799.8,97.8 802.6,94.8 805.3,92.1 808.1,89.7 810.9,87.9 813.6,86.4 816.4,85.3 819.2,84.4 822.0,83.7 824.7,83.2 827.5,82.8 830.3,82.4 833.0,82.2 835.8,81.9 838.6,81.7 841.4,81.5" stroke="#40ff40" stroke-width="2.7" fill="none" stroke-linejoin="round"/>
<path d="M536.5,146.9 539.3,146.3 542.1,145.7 544.9,145.1 547.6,144.4 550.4,143.8 553.2,143.2 555.9,142.6 558.7,142.0 561.5,141.5 564.3,140.9 567.0,140.5 569.8,140.1 572.6,139.7 575.3,139.4 578.1,139.2 580.9,139.0 583.6,138.9 586.4,138.7 589.2,138.6 592.0,138.5 594.7,138.4 597.5,138.3 600.3,138.2 603.0,138.1 605.8,138.0 608.6,137.9 611.4,137.8 614.1,137.8 616.9,137.7 619.7,137.6 622.4,137.5 625.2,137.5 628.0,137.4 630.8,137.3 633.5,137.2 636.3,137.1 639.1,137.0 641.8,136.9 644.6,136.7 647.4,136.5 650.2,136.3 652.9,136.0 655.7,135.7 658.5,135.4 661.2,135.1 664.0,134.8 666.8,134.5 669.5,134.2 672.3,133.9 675.1,133.6 677.9,133.3 680.6,133.1 683.4,132.9 686.2,132.6 688.9,132.4 691.7,132.2 694.5,132.0 697.3,131.8 700.0,131.6 702.8,131.4 705.6,131.2 708.3,130.9 711.1,130.7 713.9,130.5 716.7,130.2 719.4,130.0 722.2,129.7 725.0,129.4 727.7,129.0 730.5,128.7 733.3,128.2 736.1,127.8 738.8,127.3 741.6,126.7 744.4,126.1 747.1,125.5 749.9,124.8 752.7,124.1 755.4,123.3 758.2,122.5 761.0,121.7 763.8,120.9 766.5,120.0 769.3,119.2 772.1,118.2 774.8,117.1 777.6,116.0 780.4,114.6 783.2,113.0 785.9,111.1 788.7,108.9 791.5,106.2 794.2,103.1 797.0,99.9 799.8,96.5 802.6,93.4 805.3,90.5 808.1,88.1 810.9,86.2 813.6,84.7 816.4,83.5 819.2,82.6 822.0,81.9 824.7,81.4 827.5,80.9 830.3,80.6 833.0,80.3 835.8,80.1 838.6,79.8 841.4,79.7" stroke="#80c0ff" stroke-width="2.7" fill="none" stroke-linejoin="round"/>
<path d="M511.6,149.6 514.4,149.2 517.1,148.8 519.9,148.4 522.7,147.9 525.5,147.4 528.2,146.9 531.0,146.3 533.8,145.7 536.5,145.1 539.3,144.4 542.1,143.7 544.9,143.1 547.6,142.4 550.4,141.7 553.2,141.1 555.9,140.5 558.7,139.9 561.5,139.4 564.3,138.9 567.0,138.4 569.8,138.0 572.6,137.7 575.3,137.5 578.1,137.4 580.9,137.2 583.6,137.2 586.4,137.1 589.2,137.0 592.0,136.9 594.7,136.8 597.5,136.8 600.3,136.7 603.0,136.7 605.8,136.6 608.6,136.6 611.4,136.5 614.1,136.5 616.9,136.4 619.7,136.4 622.4,136.3 625.2,136.3 628.0,136.2 630.8,136.1 633.5,136.1 636.3,136.0 639.1,135.9 641.8,135.8 644.6,135.6 647.4,135.4 650.2,135.2 652.9,134.9 655.7,134.6 658.5,134.3 661.2,134.0 664.0,133.7 666.8,133.3 669.5,133.0 672.3,132.7 675.1,132.4 677.9,132.2 680.6,131.9 683.4,131.7 686.2,131.5 688.9,131.3 691.7,131.1 694.5,130.9 697.3,130.6 700.0,130.4 702.8,130.2 705.6,130.0 708.3,129.8 711.1,129.5 713.9,129.3 716.7,129.0 719.4,128.8 722.2,128.5 725.0,128.2 727.7,127.8 730.5,127.4 733.3,127.0 736.1,126.6 738.8,126.0 741.6,125.5 744.4,124.9 747.1,124.2 749.9,123.5 752.7,122.8 755.4,122.0 758.2,121.2 761.0,120.3 763.8,119.5 766.5,118.6 769.3,117.7 772.1,116.7 774.8,115.6 777.6,114.4 780.4,113.0 783.2,111.3 785.9,109.3 788.7,106.9 791.5,104.1 794.2,100.9 797.0,97.5 799.8,94.0 802.6,90.7 805.3,87.7 808.1,85.2 810.9,83.2 813.6,81.6 816.4,80.3 819.2,79.4 822.0,78.7 824.7,78.1 827.5,77.7 830.3,77.3 833.0,77.0 835.8,76.8 838.6,76.6 841.4,76.4" stroke="#b0b040" stroke-width="2.7" fill="none" stroke-linejoin="round"/>
<path d="M163.6,222.7 167.1,219.7 170.5,217.0 173.9,214.3 177.3,212.0 180.7,209.9 184.1,208.0 187.5,206.3 190.9,204.6 194.3,203.1 197.7,201.7 201.1,200.4 204.5,199.4 207.9,198.6 211.3,197.9 214.7,197.2 218.1,196.7 221.5,196.2 224.9,195.7 228.4,195.2 231.8,194.8 235.2,194.4 238.6,194.0 242.0,193.6 245.4,193.2 248.8,192.8 252.2,192.3 255.6,191.9 259.0,191.4 262.4,191.0 265.8,190.6 269.2,190.1 272.6,189.7 276.0,189.3 279.4,188.9 282.8,188.5 286.2,188.0 289.7,187.6 293.1,187.2 296.5,186.8 299.9,186.3 303.3,185.9 306.7,185.5 310.1,185.0 313.5,184.6 316.9,184.1 320.3,183.7 323.7,183.2 327.1,182.7 330.5,182.3 333.9,181.8 337.3,181.4 340.7,180.9 344.1,180.5 347.5,180.0 351.0,179.5 354.4,179.0 357.8,178.6 361.2,178.1 364.6,177.6 368.0,177.1 371.4,176.5 374.8,176.0 378.2,175.4 381.6,174.9 385.0,174.3 388.4,173.7 391.8,173.1 395.2,172.4 398.6,171.7 402.0,170.9 405.4,170.2 408.8,169.4 412.3,168.6 415.7,167.8 419.1,166.9 422.5,166.1 425.9,165.3 429.3,164.5 432.7,163.7 436.1,162.9 439.5,162.1 442.9,161.4 446.3,160.6 449.7,159.7 453.1,158.9 456.5,158.0 459.9,157.2 463.3,156.4 466.7,155.7 470.1,155.1 473.6,154.6 477.0,154.2 480.4,153.9 483.8,153.7 487.2,153.5 490.6,153.3 494.0,153.1 497.4,152.9 500.8,152.8 504.2,152.6 507.6,152.5 511.0,152.3 514.4,152.2 517.8,152.1 521.2,152.0 524.6,151.9 528.0,151.8 531.4,151.7 534.9,151.6 538.3,151.5 541.7,151.4 545.1,151.3 548.5,151.2 551.9,151.2 555.3,151.1 558.7,151.0 562.1,150.9 565.5,150.9 568.9,150.8 572.3,150.7 575.7,150.6 579.1,150.5 582.5,150.4 585.9,150.4 589.3,150.3 592.7,150.2 596.2,150.1 599.6,150.1 603.0,150.0 606.4,149.9 609.8,149.9 613.2,149.8 616.6,149.7 620.0,149.7 623.4,149.6 626.8,149.5 630.2,149.5 633.6,149.4 637.0,149.4 640.4,149.3 643.8,149.2 647.2,149.2 650.6,149.1 654.0,149.0 657.5,149.0 660.9,148.9 664.3,148.8 667.7,148.7 671.1,148.7 674.5,148.6 677.9,148.5 681.3,148.4 684.7,148.4 688.1,148.3 691.5,148.2 694.9,148.1 698.3,148.1 701.7,148.0 705.1,147.9 708.5,147.8 711.9,147.7 715.3,147.6 718.8,147.5 722.2,147.4 725.6,147.3 729.0,147.2 732.4,147.1 735.8,147.0 739.2,146.8 742.6,146.7 746.0,146.6 749.4,146.4 752.8,146.3 756.2,146.1 759.6,145.9 763.0,145.7 766.4,145.6 769.8,145.4 773.2,145.2 776.6,144.9 780.1,144.7 783.5,144.5 786.9,144.2 790.3,143.9 793.7,143.6 797.1,143.2 800.5,142.8 803.9,142.3 807.3,141.9 810.7,141.4 814.1,140.9 817.5,140.4 820.9,139.8 824.3,139.3 827.7,138.7 831.1,138.0 834.5,137.3 837.9,136.5 841.4,135.8 841.4,135.8 837.9,138.5 834.5,141.1 831.1,143.6 827.7,146.0 824.3,148.1 820.9,150.0 817.5,151.6 814.1,153.2 810.7,154.8 807.3,156.3 803.9,157.7 800.5,159.0 797.1,160.2 793.7,161.1 790.3,161.9 786.9,162.4 783.5,162.6 780.1,162.7 776.6,162.8 773.2,162.9 769.8,163.0 766.4,163.1 763.0,163.2 759.6,163.2 756.2,163.3 752.8,163.3 749.4,163.4 746.0,163.4 742.6,163.5 739.2,163.5 735.8,163.6 732.4,163.6 729.0,163.7 725.6,163.8 722.2,163.9 718.8,164.0 715.3,164.1 711.9,164.2 708.5,164.3 705.1,164.5 701.7,164.6 698.3,164.8 694.9,164.9 691.5,165.1 688.1,165.2 684.7,165.4 681.3,165.6 677.9,165.8 674.5,166.0 671.1,166.2 667.7,166.4 664.3,166.6 660.9,166.8 657.5,167.0 654.0,167.2 650.6,167.4 647.2,167.6 643.8,167.8 640.4,168.0 637.0,168.3 633.6,168.5 630.2,168.7 626.8,168.9 623.4,169.1 620.0,169.4 616.6,169.6 613.2,169.8 609.8,170.0 606.4,170.2 603.0,170.5 599.6,170.7 596.2,170.9 592.7,171.1 589.3,171.3 585.9,171.6 582.5,171.8 579.1,172.1 575.7,172.3 572.3,172.6 568.9,172.9 565.5,173.1 562.1,173.4 558.7,173.7 555.3,173.9 551.9,174.2 548.5,174.5 545.1,174.8 541.7,175.0 538.3,175.3 534.9,175.6 531.4,175.8 528.0,176.1 524.6,176.4 521.2,176.6 517.8,176.9 514.4,177.1 511.0,177.4 507.6,177.6 504.2,177.8 500.8,178.0 497.4,178.3 494.0,178.5 490.6,178.7 487.2,178.8 483.8,179.0 480.4,179.2 477.0,179.3 473.6,179.5 470.1,179.6 466.7,179.7 463.3,179.8 459.9,179.8 456.5,179.9 453.1,180.0 449.7,180.1 446.3,180.2 442.9,180.3 439.5,180.5 436.1,180.6 432.7,180.9 429.3,181.1 425.9,181.7 422.5,182.9 419.1,184.6 415.7,186.6 412.3,188.7 408.8,190.9 405.4,193.2 402.0,195.9 398.6,198.9 395.2,202.1 391.8,205.2 388.4,208.1 385.0,210.8 381.6,213.8 378.2,217.0 374.8,220.0 371.4,222.7 368.0,224.8 364.6,226.2 361.2,226.5 357.8,226.5 354.4,226.5 351.0,226.5 347.5,226.5 344.1,226.5 340.7,226.5 337.3,226.5 333.9,226.5 330.5,226.5 327.1,226.4 323.7,226.4 320.3,226.3 316.9,226.2 313.5,226.0 310.1,225.9 306.7,225.7 303.3,225.6 299.9,225.4 296.5,225.2 293.1,225.0 289.7,224.8 286.2,224.6 282.8,224.4 279.4,224.2 276.0,224.1 272.6,223.9 269.2,223.8 265.8,223.6 262.4,223.5 259.0,223.4 255.6,223.3 252.2,223.2 248.8,223.0 245.4,222.9 242.0,222.8 238.6,222.7 235.2,222.6 231.8,222.4" stroke="#1010ff" stroke-width="2.6" fill="none" stroke-linejoin="round"/>
</g>
<path d="M259.4,905.5 269.8,905.5 283.3,905.4 299.2,905.3 317.2,905.3 336.7,905.2 357.4,905.1 378.6,905.1 400.0,905.0 423.0,904.9 448.6,904.9 475.9,904.9 503.7,904.8 531.1,904.8 557.0,904.7 580.3,904.7 600.0,904.6 616.3,904.5 630.2,904.4 642.0,904.3 652.1,904.2 660.8,904.0 668.2,903.9 674.9,903.7 681.0,903.6 686.0,903.4 689.2,903.3 691.2,903.1 692.2,903.0 692.7,902.8 693.1,902.6 693.7,902.4 695.0,902.2 696.9,901.9 699.0,901.6 701.2,901.3 703.3,900.9 705.3,900.6 706.9,900.4 708.2,900.2 708.8,900.2 708.8,900.3 708.2,900.6 707.2,901.0 705.9,901.5 704.4,901.9 702.8,902.4 701.3,902.8 700.0,903.2 699.4,903.5 699.5,903.8 699.9,904.1 700.1,904.4 699.7,904.6 698.2,904.8 695.1,905.0 690.0,905.2 683.3,905.3 675.7,905.5 666.9,905.5 656.9,905.6 645.3,905.7 632.1,905.7 617.1,905.8 600.0,905.8 579.9,905.8 556.3,905.9 530.4,905.9 503.2,905.9 475.5,906.0 448.4,906.0 422.9,906.0 400.0,906.0 378.6,906.0 357.4,906.0 336.7,906.0 317.2,906.0 299.2,906.0 283.3,906.0 269.8,906.0 259.4,906.0" stroke="#8a2be2" stroke-width="3.3" fill="none" stroke-linejoin="round"/>
<path d="M259.4,905.0 278.5,905.0 304.5,904.9 335.5,904.8 369.7,904.8 405.1,904.7 439.9,904.6 472.1,904.6 500.0,904.5 524.8,904.5 548.9,904.4 572.1,904.4 593.8,904.4 613.8,904.4 631.7,904.3 647.3,904.3 660.0,904.2 669.3,904.1 675.2,904.0 678.4,903.9 679.7,903.8 679.8,903.7 679.3,903.6 679.2,903.4 680.0,903.2 681.3,903.0 682.3,902.9 683.0,902.7 683.4,902.5 683.8,902.2 684.1,901.9 684.5,901.3 685.0,900.6 685.6,899.7 686.2,898.7 686.8,897.6 687.4,896.4 688.1,895.0 688.7,893.5 689.3,891.8 690.0,890.0 690.7,888.0 691.5,885.7 692.2,883.3 693.0,880.7 693.8,878.1 694.5,875.4 695.3,872.7 696.0,870.0 696.7,867.3 697.4,864.4 698.0,861.5 698.6,858.6 699.3,855.7 699.9,852.9 700.4,850.3 701.0,848.0 701.5,845.9 702.0,844.1 702.5,842.5 702.9,840.9 703.4,839.5 703.8,838.0 704.2,836.6 704.6,835.0 705.0,833.3 705.5,831.6 705.9,829.9 706.3,828.2 706.7,826.5 707.1,824.9 707.3,823.4 707.5,822.0 707.6,820.7 707.6,819.5 707.6,818.4 707.5,817.4 707.3,816.4 707.1,815.5 706.8,814.7 706.5,814.0 706.1,813.4 705.6,812.8 705.1,812.3 704.5,811.9 703.9,811.5 703.2,811.3 702.6,811.1 702.0,811.0 701.4,811.0 700.8,811.1 700.1,811.3 699.4,811.5 698.8,811.8 698.2,812.2 697.6,812.6 697.0,813.0 696.5,813.4 696.1,813.8 695.8,814.3 695.4,814.8 695.0,815.3 694.6,816.0 694.1,816.9 693.4,818.0 692.6,819.3 691.6,820.8 690.6,822.5 689.5,824.2 688.4,826.1 687.2,828.1 686.1,830.0 685.0,832.0 683.9,834.0 682.9,836.1 681.8,838.3 680.7,840.6 679.6,842.8 678.6,845.0 677.6,847.0 676.7,849.0 675.9,850.8 675.1,852.4 674.4,853.9 673.8,855.4 673.1,856.9 672.5,858.5 671.8,860.2 671.0,862.0 670.2,864.0 669.3,866.2 668.4,868.5 667.5,870.9 666.6,873.2 665.7,875.6 664.8,877.9 664.0,880.0 663.2,882.1 662.5,884.1 661.8,886.1 661.1,888.1 660.4,890.0 659.6,891.8 658.8,893.5 658.0,895.0 657.4,896.4 657.1,897.8 657.0,899.0 656.8,900.1 656.2,901.1 655.0,902.1 653.0,902.8 650.0,903.5 646.8,904.0 644.0,904.3 640.9,904.4 637.0,904.5 631.6,904.5 624.0,904.5 613.7,904.5 600.0,904.5 581.8,904.6 559.2,904.7 533.4,904.7 505.7,904.8 477.2,904.8 449.3,904.9 423.2,904.9 400.0,905.0 378.6,905.1 357.4,905.1 336.7,905.2 317.2,905.3 299.2,905.3 283.3,905.4 269.8,905.5 259.4,905.5" stroke="#20c020" stroke-width="3.3" fill="none" stroke-linejoin="round"/>
<path d="M259.4,905.0 278.9,905.0 305.9,904.9 338.2,904.8 373.4,904.8 409.5,904.7 444.1,904.6 475.0,904.6 500.0,904.5 519.8,904.4 536.9,904.4 551.5,904.3 564.1,904.3 574.9,904.2 584.3,904.1 592.5,904.1 600.0,904.0 605.9,903.9 609.7,903.9 611.8,903.9 612.7,903.9 613.0,903.8 613.1,903.7 613.6,903.5 615.0,903.2 617.0,902.8 619.1,902.3 621.2,901.8 623.4,901.2 625.6,900.5 627.7,899.7 629.9,898.9 632.0,898.0 634.1,897.0 636.3,895.8 638.5,894.6 640.7,893.3 642.8,892.0 644.9,890.6 646.9,889.3 648.7,888.0 650.4,886.8 652.0,885.5 653.6,884.3 655.1,883.1 656.4,881.8 657.7,880.6 658.9,879.3 660.0,878.0 661.0,876.7 661.8,875.3 662.5,874.0 663.1,872.6 663.7,871.2 664.3,869.8 664.9,868.4 665.5,867.0 666.2,865.6 666.8,864.1 667.4,862.7 668.1,861.2 668.7,859.8 669.3,858.2 669.9,856.7 670.5,855.0 671.1,853.3 671.7,851.5 672.2,849.6 672.8,847.7 673.4,845.8 673.9,843.8 674.5,841.9 675.0,840.0 675.5,838.1 676.0,836.2 676.5,834.4 677.0,832.5 677.5,830.6 678.0,828.8 678.5,826.9 679.0,825.0 679.5,823.1 680.0,821.2 680.5,819.4 681.0,817.5 681.5,815.6 682.0,813.8 682.5,811.9 683.0,810.0 683.5,808.1 683.9,806.2 684.4,804.4 684.9,802.5 685.3,800.6 685.8,798.8 686.2,796.9 686.7,795.0 687.2,793.1 687.6,791.2 688.1,789.4 688.5,787.5 689.0,785.6 689.4,783.8 689.9,781.9 690.3,780.0 690.7,778.1 691.2,776.2 691.6,774.4 692.1,772.5 692.5,770.6 692.9,768.8 693.4,766.9 693.8,765.0 694.2,763.1 694.7,761.2 695.1,759.4 695.6,757.5 696.0,755.6 696.5,753.8 696.9,751.9 697.3,750.0 697.7,748.1 698.1,746.2 698.5,744.4 698.9,742.5 699.2,740.6 699.6,738.8 700.0,736.9 700.3,735.0 700.6,733.1 701.0,731.2 701.3,729.4 701.6,727.5 701.9,725.6 702.2,723.8 702.5,721.9 702.8,720.0 703.1,718.1 703.3,716.2 703.6,714.3 703.8,712.4 704.0,710.5 704.2,708.6 704.5,706.8 704.7,705.0 704.9,703.2 705.2,701.5 705.4,699.8 705.6,698.1 705.8,696.5 706.1,694.9 706.3,693.4 706.5,692.0 706.7,690.7 706.9,689.3 707.2,688.1 707.4,686.9 707.6,685.8 707.8,684.9 708.0,684.1 708.2,683.5 708.4,683.1 708.5,682.8 708.7,682.7 708.8,682.7 709.0,682.9 709.1,683.1 709.2,683.5 709.2,684.0 709.2,684.6 709.2,685.4 709.1,686.3 709.1,687.3 709.0,688.4 708.9,689.5 708.7,690.8 708.6,692.0 708.5,693.3 708.3,694.6 708.1,696.0 707.9,697.5 707.7,699.0 707.5,700.6 707.2,702.3 707.0,704.0 706.7,705.8 706.5,707.7 706.2,709.8 705.9,711.8 705.5,713.9 705.2,716.0 704.9,718.0 704.6,720.0 704.3,721.9 704.0,723.8 703.6,725.7 703.3,727.6 703.0,729.4 702.7,731.3 702.3,733.1 702.0,735.0 701.7,736.9 701.3,738.8 701.0,740.6 700.7,742.5 700.3,744.4 700.0,746.2 699.6,748.1 699.3,750.0 699.0,751.9 698.6,753.8 698.3,755.6 697.9,757.5 697.6,759.4 697.2,761.2 696.9,763.1 696.5,765.0 696.2,766.8 695.8,768.6 695.5,770.4 695.1,772.2 694.8,774.0 694.4,775.9 694.1,777.9 693.7,780.0 693.3,782.3 693.0,784.7 692.6,787.2 692.3,789.8 691.9,792.4 691.5,795.0 691.1,797.6 690.7,800.0 690.3,802.4 689.8,804.7 689.3,806.9 688.9,809.2 688.4,811.4 687.9,813.6 687.3,815.8 686.8,818.0 686.2,820.2 685.7,822.4 685.1,824.6 684.4,826.8 683.8,828.9 683.2,831.0 682.6,833.0 682.0,835.0 681.4,836.9 680.9,838.7 680.3,840.5 679.8,842.2 679.2,843.9 678.7,845.6 678.1,847.3 677.5,849.0 676.9,850.8 676.3,852.6 675.7,854.4 675.0,856.2 674.4,858.0 673.8,859.7 673.1,861.4 672.5,863.0 671.9,864.5 671.2,866.0 670.6,867.4 670.0,868.8 669.4,870.1 668.7,871.4 668.1,872.7 667.5,874.0 666.9,875.3 666.3,876.6 665.6,877.9 665.0,879.2 664.4,880.5 663.8,881.7 663.2,882.9 662.7,884.0 662.2,885.1 661.7,886.1 661.2,887.0 660.8,888.0 660.3,888.9 659.9,889.8 659.4,890.6 659.0,891.5 658.6,892.4 658.2,893.2 657.9,894.0 657.5,894.8 657.2,895.6 656.8,896.4 656.3,897.2 655.7,898.0 655.0,898.9 654.3,899.8 653.6,900.7 652.8,901.6 651.9,902.5 651.0,903.4 650.0,904.3 649.0,905.1 647.9,905.9 646.8,906.6 645.5,907.3 644.3,907.9 643.0,908.6 641.6,909.3 640.3,910.0 639.0,910.7 637.7,911.5 636.3,912.3 634.9,913.2 633.6,914.1 632.2,914.9 630.8,915.7 629.4,916.5 628.0,917.2 626.6,917.8 625.3,918.5 623.9,919.1 622.6,919.6 621.2,920.1 619.8,920.5 618.4,920.8 617.0,921.0 615.5,921.1 614.0,921.0 612.5,920.8 611.0,920.6 609.5,920.3 608.0,920.0 606.5,919.6 605.0,919.2 603.6,918.8 602.2,918.3 600.9,917.7 599.6,917.1 598.3,916.5 596.9,916.0 595.5,915.4 594.0,915.0 592.4,914.6 590.7,914.3 589.0,913.9 587.2,913.6 585.4,913.4 583.6,913.1 581.8,913.0 580.0,912.8 578.2,912.7 576.4,912.6 574.6,912.6 572.8,912.5 571.0,912.6 569.3,912.6 567.6,912.7 566.0,912.8 564.5,912.9 563.0,913.1 561.7,913.4 560.3,913.6 559.0,913.9 557.7,914.2 556.4,914.5 555.0,914.8 553.6,915.1 552.3,915.3 550.9,915.6 549.6,915.8 548.2,916.2 546.8,916.6 545.4,917.1 544.0,917.8 542.5,918.7 541.0,919.8 539.5,921.0 538.0,922.4 536.4,923.7 534.9,925.0 533.4,926.2 532.0,927.2 530.6,928.1 529.3,929.0 528.0,929.8 526.7,930.5 525.4,931.2 524.2,931.7 522.9,932.0 521.5,932.2 520.2,932.2 518.9,932.0 517.6,931.6 516.3,931.1 515.0,930.5 513.5,929.8 511.9,929.0 510.0,928.2 508.0,927.2 505.8,926.0 503.6,924.7 501.2,923.3 498.6,921.9 495.9,920.5 493.0,919.3 490.0,918.3 486.9,917.4 483.9,916.7 480.8,916.1 477.5,915.5 473.9,915.0 469.8,914.5 465.3,914.0 460.0,913.6 454.0,913.2 447.3,912.9 440.1,912.6 432.5,912.3 424.6,912.1 416.4,911.8 408.2,911.6 400.0,911.3 391.7,911.0 383.2,910.7 374.5,910.4 365.7,910.1 356.7,909.7 347.8,909.4 338.8,909.1 330.0,908.8 320.7,908.5 310.7,908.1 300.5,907.8 290.3,907.4 280.7,907.1 272.1,906.7 264.9,906.5 259.4,906.3" stroke="#ff0000" stroke-width="3.4" fill="none" stroke-linejoin="round"/>
<path d="M259.4,905.0 278.6,905.0 305.0,904.9 336.4,904.8 370.9,904.8 406.6,904.7 441.3,904.6 473.1,904.6 500.0,904.5 523.2,904.4 545.1,904.4 565.5,904.4 584.3,904.3 601.3,904.3 616.4,904.2 629.3,904.1 640.0,904.0 647.7,903.9 652.1,903.7 654.1,903.6 654.2,903.4 653.4,903.2 652.3,903.0 651.6,902.8 652.0,902.5 653.2,902.2 654.1,902.0 655.0,901.7 655.9,901.4 656.7,901.0 657.7,900.6 658.7,900.1 660.0,899.5 661.5,898.8 663.1,898.1 664.9,897.3 666.8,896.4 668.7,895.5 670.6,894.4 672.4,893.3 674.0,892.0 675.5,890.6 677.0,889.1 678.5,887.6 679.9,885.9 681.2,884.1 682.5,882.2 683.8,880.2 685.0,878.0 686.2,875.7 687.3,873.2 688.5,870.6 689.5,867.9 690.6,865.0 691.6,862.1 692.5,859.1 693.4,856.0 694.2,852.8 695.0,849.4 695.8,845.9 696.5,842.4 697.2,838.8 697.8,835.1 698.4,831.5 699.0,828.0 699.5,824.6 700.0,821.3 700.5,818.0 700.9,814.8 701.3,811.4 701.7,807.8 702.0,804.1 702.4,800.0 702.8,795.5 703.1,790.6 703.4,785.4 703.7,780.1 704.0,774.8 704.3,769.6 704.5,764.6 704.8,760.0 705.1,755.6 705.4,751.4 705.6,747.2 705.9,743.2 706.2,739.4 706.4,735.9 706.6,732.8 706.8,730.0 707.0,727.7 707.1,725.8 707.3,724.2 707.4,722.9 707.5,721.8 707.6,720.8 707.6,719.9 707.6,719.0 707.5,718.1 707.5,717.3 707.3,716.6 707.2,716.0 707.0,715.5 706.8,715.1 706.5,714.8 706.3,714.5 706.0,714.3 705.8,714.2 705.4,714.2 705.1,714.3 704.8,714.5 704.4,714.7 704.1,715.1 703.8,715.5 703.5,716.0 703.2,716.6 702.9,717.2 702.6,718.0 702.4,718.8 702.1,719.8 701.8,720.8 701.5,722.0 701.2,723.3 700.9,724.7 700.6,726.3 700.3,728.0 700.0,729.7 699.7,731.5 699.3,733.2 699.0,735.0 698.6,736.8 698.3,738.6 697.9,740.5 697.5,742.4 697.1,744.3 696.6,746.2 696.2,748.1 695.8,750.0 695.4,751.9 694.9,753.8 694.5,755.6 694.1,757.5 693.6,759.4 693.2,761.2 692.7,763.1 692.3,765.0 691.9,766.9 691.4,768.8 691.0,770.6 690.6,772.5 690.1,774.4 689.7,776.2 689.2,778.1 688.8,780.0 688.4,781.9 687.9,783.8 687.5,785.6 687.0,787.5 686.6,789.4 686.1,791.2 685.7,793.1 685.2,795.0 684.7,796.9 684.3,798.8 683.8,800.6 683.4,802.5 682.9,804.4 682.4,806.2 682.0,808.1 681.5,810.0 681.0,811.9 680.5,813.8 680.0,815.6 679.5,817.5 679.0,819.4 678.5,821.2 678.0,823.1 677.5,825.0 677.0,826.9 676.5,828.8 676.0,830.6 675.5,832.5 675.0,834.4 674.5,836.2 674.0,838.1 673.5,840.0 673.0,841.9 672.4,843.7 671.9,845.6 671.3,847.4 670.8,849.3 670.2,851.2 669.6,853.1 669.0,855.0 668.4,857.0 667.7,858.9 667.1,860.9 666.4,862.9 665.7,865.0 665.0,867.0 664.2,869.0 663.5,871.0 662.7,873.0 661.9,875.1 661.1,877.1 660.3,879.2 659.4,881.2 658.6,883.2 657.8,885.1 657.0,887.0 656.2,888.9 655.4,890.8 654.5,892.6 653.7,894.5 652.9,896.2 652.2,897.8 651.6,899.3 651.0,900.5 650.6,901.5 650.4,902.2 650.3,902.7 650.2,903.1 650.2,903.5 650.0,903.8 649.6,904.3 649.0,904.8 648.1,905.4 647.1,906.1 645.9,906.8 644.6,907.5 643.2,908.2 641.8,909.0 640.4,909.7 639.0,910.4 637.7,911.1 636.3,911.8 634.9,912.6 633.6,913.3 632.2,914.0 630.8,914.7 629.4,915.4 628.0,916.0 626.6,916.6 625.3,917.2 623.9,917.8 622.6,918.4 621.2,918.9 619.8,919.3 618.4,919.6 617.0,919.8 615.5,919.9 614.0,919.8 612.5,919.6 611.0,919.3 609.5,919.0 608.0,918.7 606.5,918.3 605.0,918.0 603.6,917.7 602.2,917.3 600.9,916.8 599.6,916.4 598.3,915.9 596.9,915.5 595.5,915.1 594.0,914.7 592.4,914.4 590.7,914.0 589.0,913.7 587.2,913.4 585.4,913.1 583.6,912.9 581.8,912.7 580.0,912.5 578.2,912.4 576.4,912.3 574.6,912.3 572.8,912.2 571.0,912.3 569.3,912.3 567.6,912.4 566.0,912.5 564.5,912.6 563.0,912.8 561.7,913.1 560.3,913.3 559.0,913.6 557.7,913.9 556.4,914.2 555.0,914.5 553.6,914.8 552.3,915.1 550.9,915.4 549.6,915.7 548.2,916.0 546.8,916.4 545.4,916.9 544.0,917.5 542.5,918.2 541.0,919.1 539.5,920.1 538.0,921.1 536.4,922.2 534.9,923.2 533.4,924.2 532.0,925.0 530.6,925.8 529.3,926.6 528.0,927.5 526.7,928.2 525.4,928.9 524.2,929.4 522.9,929.8 521.5,930.0 520.2,930.0 518.9,929.7 517.6,929.3 516.3,928.8 515.0,928.2 513.5,927.5 511.9,926.8 510.0,926.0 508.0,925.2 505.8,924.2 503.6,923.1 501.2,922.0 498.6,920.9 495.9,919.9 493.0,918.9 490.0,918.0 486.9,917.2 483.9,916.5 480.8,915.9 477.5,915.3 473.9,914.7 469.8,914.2 465.3,913.8 460.0,913.3 454.0,912.9 447.3,912.6 440.1,912.3 432.5,912.0 424.6,911.8 416.4,911.5 408.2,911.3 400.0,911.0 391.7,910.7 383.2,910.4 374.5,910.1 365.7,909.8 356.7,909.4 347.8,909.1 338.8,908.8 330.0,908.5 320.7,908.2 310.7,907.8 300.5,907.5 290.3,907.1 280.7,906.8 272.1,906.4 264.9,906.2 259.4,906.0" stroke="#1a1aff" stroke-width="3.3" fill="none" stroke-linejoin="round"/>
<path d="M259.4,904.8 640.0,904.4" stroke="#262673" stroke-width="2.6" fill="none" stroke-linejoin="round"/>
<g font-family="Liberation Sans, Arial, sans-serif" font-weight="bold" fill="#111" stroke="#111" stroke-width="0.3">
<text x="78.0" y="37.6" font-size="26.3" text-anchor="start" textLength="822.7" lengthAdjust="spacingAndGlyphs">First Step of Ag/AgCl Reference Electrode Deposition</text>
<text x="55.5" y="590.8" font-size="26.3" text-anchor="start" textLength="868.4" lengthAdjust="spacingAndGlyphs">Second Step of Ag/AgCl Reference Electrode Deposition</text>
<text x="80.8" y="74.1" font-size="19.8" text-anchor="end" textLength="28.4" lengthAdjust="spacingAndGlyphs">10</text>
<text x="80.8" y="169.6" font-size="19.8" text-anchor="end" textLength="14.2" lengthAdjust="spacingAndGlyphs">0</text>
<text x="80.8" y="265.1" font-size="19.8" text-anchor="end" textLength="36.9" lengthAdjust="spacingAndGlyphs">-10</text>
<text x="80.8" y="360.6" font-size="19.8" text-anchor="end" textLength="36.9" lengthAdjust="spacingAndGlyphs">-20</text>
<text x="80.8" y="456.6" font-size="19.8" text-anchor="end" textLength="36.9" lengthAdjust="spacingAndGlyphs">-30</text>
<text x="126.0" y="505.0" font-size="19.8" text-anchor="middle" textLength="44.0" lengthAdjust="spacingAndGlyphs">-1.0</text>
<text x="314.2" y="505.0" font-size="19.8" text-anchor="middle" textLength="44.0" lengthAdjust="spacingAndGlyphs">-0.5</text>
<text x="502.5" y="505.0" font-size="19.8" text-anchor="middle" textLength="35.5" lengthAdjust="spacingAndGlyphs">0.0</text>
<text x="690.8" y="505.0" font-size="19.8" text-anchor="middle" textLength="35.5" lengthAdjust="spacingAndGlyphs">0.5</text>
<text x="879.0" y="505.0" font-size="19.8" text-anchor="middle" textLength="35.5" lengthAdjust="spacingAndGlyphs">1.0</text>
<text x="503.5" y="534.6" font-size="20.5" text-anchor="middle" textLength="139.5" lengthAdjust="spacingAndGlyphs">Voltage (V)</text>
<text x="84.3" y="626.6" font-size="19.8" text-anchor="end" textLength="42.6" lengthAdjust="spacingAndGlyphs">600</text>
<text x="84.3" y="721.7" font-size="19.8" text-anchor="end" textLength="42.6" lengthAdjust="spacingAndGlyphs">400</text>
<text x="84.3" y="816.8" font-size="19.8" text-anchor="end" textLength="42.6" lengthAdjust="spacingAndGlyphs">200</text>
<text x="84.3" y="911.9" font-size="19.8" text-anchor="end" textLength="14.2" lengthAdjust="spacingAndGlyphs">0</text>
<text x="84.3" y="1007.0" font-size="19.8" text-anchor="end" textLength="51.1" lengthAdjust="spacingAndGlyphs">-200</text>
<text x="129.2" y="1053.3" font-size="19.8" text-anchor="middle" textLength="44.0" lengthAdjust="spacingAndGlyphs">-0.5</text>
<text x="315.8" y="1053.3" font-size="19.8" text-anchor="middle" textLength="35.5" lengthAdjust="spacingAndGlyphs">0.0</text>
<text x="502.4" y="1053.3" font-size="19.8" text-anchor="middle" textLength="35.5" lengthAdjust="spacingAndGlyphs">0.5</text>
<text x="688.9" y="1053.3" font-size="19.8" text-anchor="middle" textLength="35.5" lengthAdjust="spacingAndGlyphs">1.0</text>
<text x="875.5" y="1053.3" font-size="19.8" text-anchor="middle" textLength="35.5" lengthAdjust="spacingAndGlyphs">1.5</text>
<text x="502.3" y="1083.2" font-size="20.5" text-anchor="middle" textLength="140.0" lengthAdjust="spacingAndGlyphs">Voltage (V)</text>
<text transform="translate(32.4,250.4) rotate(-90) scale(1,1.13)" x="0" y="0" font-size="23.5" text-anchor="middle" textLength="124.7" lengthAdjust="spacingAndGlyphs">Current (uA)</text>
<text transform="translate(24.4,809.0) rotate(-90) scale(1,1.13)" x="0" y="0" font-size="23.5" text-anchor="middle" textLength="127.6" lengthAdjust="spacingAndGlyphs">Current (uA)</text>
</g>
<rect x="53.55" y="71.88" width="4.60" height="2.67" fill="#fff"/>
<rect x="62.06" y="71.88" width="4.28" height="2.67" fill="#fff"/>
<rect x="53.55" y="262.88" width="4.60" height="2.67" fill="#fff"/>
<rect x="62.06" y="262.88" width="4.28" height="2.67" fill="#fff"/>
<rect x="113.66" y="502.78" width="4.60" height="2.67" fill="#fff"/>
<rect x="122.17" y="502.78" width="4.28" height="2.67" fill="#fff"/>
<rect x="862.41" y="502.78" width="4.60" height="2.67" fill="#fff"/>
<rect x="870.91" y="502.78" width="4.28" height="2.67" fill="#fff"/>
<rect x="672.31" y="1051.08" width="4.60" height="2.67" fill="#fff"/>
<rect x="680.81" y="1051.08" width="4.28" height="2.67" fill="#fff"/>
<rect x="858.86" y="1051.08" width="4.60" height="2.67" fill="#fff"/>
<rect x="867.36" y="1051.08" width="4.28" height="2.67" fill="#fff"/>
</g>
</svg>
</body></html>
